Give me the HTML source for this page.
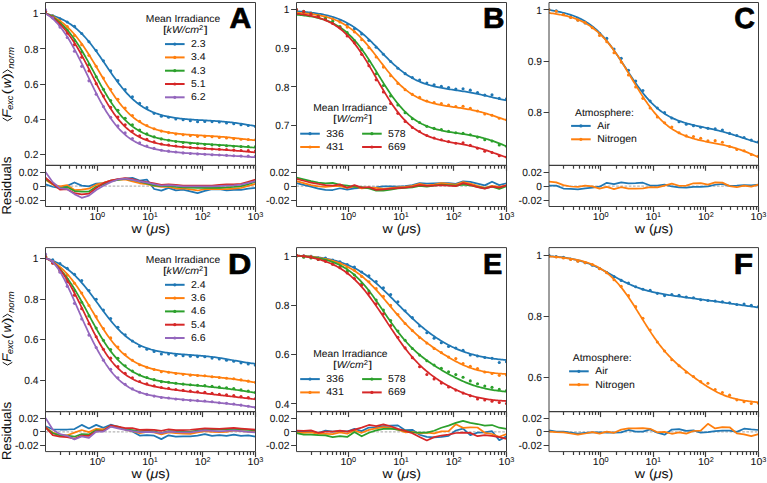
<!DOCTYPE html>
<html><head><meta charset="utf-8"><style>
html,body{margin:0;padding:0;background:#fff;}
svg{display:block;}
text{font-family:"Liberation Sans",sans-serif;fill:#111;stroke:#111;stroke-width:0.05px;text-rendering:geometricPrecision;}
</style></head><body>
<svg width="767" height="483" viewBox="0 0 767 483">
<rect width="767" height="483" fill="#fff"/>
<clipPath id="clipA"><rect x="45.5" y="2.5" width="210.0" height="162.8"/></clipPath>
<clipPath id="rclipA"><rect x="45.5" y="165.3" width="210.0" height="41.19999999999999"/></clipPath>
<line x1="45.50" y1="186.10" x2="255.50" y2="186.10" stroke="#8c8c8c" stroke-width="0.8" stroke-dasharray="2.6,1.6"/>
<g clip-path="url(#clipA)" fill="none" stroke-width="1.75" stroke-linejoin="round" stroke-linecap="round">
<path d="M45.50,13.70 L46.82,14.01 L48.14,14.33 L49.46,14.68 L50.78,15.05 L52.10,15.44 L53.42,15.86 L54.75,16.30 L56.07,16.77 L57.39,17.28 L58.71,17.81 L60.03,18.38 L61.35,18.98 L62.67,19.61 L63.99,20.29 L65.31,21.00 L66.63,21.75 L67.95,22.55 L69.27,23.39 L70.59,24.27 L71.92,25.20 L73.24,26.18 L74.56,27.21 L75.88,28.28 L77.20,29.41 L78.52,30.59 L79.84,31.82 L81.16,33.11 L82.48,34.45 L83.80,35.83 L85.12,37.28 L86.44,38.77 L87.76,40.31 L89.08,41.90 L90.41,43.54 L91.73,45.22 L93.05,46.95 L94.37,48.71 L95.69,50.51 L97.01,52.34 L98.33,54.21 L99.65,56.09 L100.97,58.00 L102.29,59.93 L103.61,61.87 L104.93,63.81 L106.25,65.76 L107.58,67.71 L108.90,69.65 L110.22,71.57 L111.54,73.49 L112.86,75.38 L114.18,77.24 L115.50,79.08 L116.82,80.88 L118.14,82.65 L119.46,84.38 L120.78,86.07 L122.10,87.71 L123.42,89.31 L124.75,90.86 L126.07,92.36 L127.39,93.81 L128.71,95.20 L130.03,96.55 L131.35,97.84 L132.67,99.08 L133.99,100.27 L135.31,101.40 L136.63,102.49 L137.95,103.52 L139.27,104.51 L140.59,105.44 L141.92,106.33 L143.24,107.18 L144.56,107.98 L145.88,108.74 L147.20,109.46 L148.52,110.14 L149.84,110.78 L151.16,111.39 L152.48,111.96 L153.80,112.50 L155.12,113.01 L156.44,113.49 L157.76,113.94 L159.08,114.36 L160.41,114.76 L161.73,115.13 L163.05,115.49 L164.37,115.82 L165.69,116.13 L167.01,116.42 L168.33,116.69 L169.65,116.95 L170.97,117.19 L172.29,117.42 L173.61,117.63 L174.93,117.83 L176.25,118.02 L177.58,118.19 L178.90,118.36 L180.22,118.51 L181.54,118.66 L182.86,118.80 L184.18,118.93 L185.50,119.05 L186.82,119.17 L188.14,119.28 L189.46,119.39 L190.78,119.49 L192.10,119.58 L193.42,119.68 L194.75,119.76 L196.07,119.85 L197.39,119.93 L198.71,120.01 L200.03,120.09 L201.35,120.17 L202.67,120.24 L203.99,120.32 L205.31,120.39 L206.63,120.47 L207.95,120.55 L209.27,120.62 L210.59,120.70 L211.92,120.78 L213.24,120.86 L214.56,120.95 L215.88,121.04 L217.20,121.13 L218.52,121.22 L219.84,121.32 L221.16,121.42 L222.48,121.53 L223.80,121.64 L225.12,121.76 L226.44,121.89 L227.76,122.02 L229.08,122.15 L230.41,122.30 L231.73,122.45 L233.05,122.61 L234.37,122.77 L235.69,122.94 L237.01,123.12 L238.33,123.31 L239.65,123.50 L240.97,123.70 L242.29,123.90 L243.61,124.12 L244.93,124.33 L246.25,124.55 L247.58,124.78 L248.90,125.01 L250.22,125.24 L251.54,125.48 L252.86,125.71 L254.18,125.95 L255.50,126.18" stroke="#1f77b4"/>
<circle cx="45.50" cy="13.27" r="1.55" fill="#1f77b4" stroke="none"/>
<circle cx="52.74" cy="15.80" r="1.55" fill="#1f77b4" stroke="none"/>
<circle cx="59.98" cy="18.84" r="1.55" fill="#1f77b4" stroke="none"/>
<circle cx="67.22" cy="22.05" r="1.55" fill="#1f77b4" stroke="none"/>
<circle cx="74.47" cy="26.21" r="1.55" fill="#1f77b4" stroke="none"/>
<circle cx="81.71" cy="33.54" r="1.55" fill="#1f77b4" stroke="none"/>
<circle cx="88.95" cy="41.81" r="1.55" fill="#1f77b4" stroke="none"/>
<circle cx="96.19" cy="50.55" r="1.55" fill="#1f77b4" stroke="none"/>
<circle cx="103.43" cy="60.86" r="1.55" fill="#1f77b4" stroke="none"/>
<circle cx="110.67" cy="70.87" r="1.55" fill="#1f77b4" stroke="none"/>
<circle cx="117.91" cy="80.65" r="1.55" fill="#1f77b4" stroke="none"/>
<circle cx="125.16" cy="89.43" r="1.55" fill="#1f77b4" stroke="none"/>
<circle cx="132.40" cy="96.73" r="1.55" fill="#1f77b4" stroke="none"/>
<circle cx="139.64" cy="103.40" r="1.55" fill="#1f77b4" stroke="none"/>
<circle cx="146.88" cy="107.64" r="1.55" fill="#1f77b4" stroke="none"/>
<circle cx="154.12" cy="113.35" r="1.55" fill="#1f77b4" stroke="none"/>
<circle cx="161.36" cy="116.18" r="1.55" fill="#1f77b4" stroke="none"/>
<circle cx="168.60" cy="117.21" r="1.55" fill="#1f77b4" stroke="none"/>
<circle cx="175.84" cy="119.05" r="1.55" fill="#1f77b4" stroke="none"/>
<circle cx="183.09" cy="119.69" r="1.55" fill="#1f77b4" stroke="none"/>
<circle cx="190.33" cy="120.78" r="1.55" fill="#1f77b4" stroke="none"/>
<circle cx="197.57" cy="121.72" r="1.55" fill="#1f77b4" stroke="none"/>
<circle cx="204.81" cy="121.57" r="1.55" fill="#1f77b4" stroke="none"/>
<circle cx="212.05" cy="121.58" r="1.55" fill="#1f77b4" stroke="none"/>
<circle cx="219.29" cy="122.07" r="1.55" fill="#1f77b4" stroke="none"/>
<circle cx="226.53" cy="122.99" r="1.55" fill="#1f77b4" stroke="none"/>
<circle cx="233.78" cy="123.65" r="1.55" fill="#1f77b4" stroke="none"/>
<circle cx="241.02" cy="124.66" r="1.55" fill="#1f77b4" stroke="none"/>
<circle cx="248.26" cy="125.54" r="1.55" fill="#1f77b4" stroke="none"/>
<circle cx="255.50" cy="126.62" r="1.55" fill="#1f77b4" stroke="none"/>
<path d="M45.50,13.32 L46.82,13.83 L48.14,14.37 L49.46,14.94 L50.78,15.55 L52.10,16.20 L53.42,16.89 L54.75,17.61 L56.07,18.38 L57.39,19.19 L58.71,20.05 L60.03,20.96 L61.35,21.92 L62.67,22.93 L63.99,23.99 L65.31,25.10 L66.63,26.27 L67.95,27.50 L69.27,28.78 L70.59,30.12 L71.92,31.53 L73.24,32.99 L74.56,34.51 L75.88,36.09 L77.20,37.73 L78.52,39.42 L79.84,41.18 L81.16,42.99 L82.48,44.85 L83.80,46.77 L85.12,48.73 L86.44,50.74 L87.76,52.80 L89.08,54.89 L90.41,57.02 L91.73,59.17 L93.05,61.36 L94.37,63.56 L95.69,65.79 L97.01,68.02 L98.33,70.26 L99.65,72.50 L100.97,74.74 L102.29,76.96 L103.61,79.17 L104.93,81.36 L106.25,83.53 L107.58,85.67 L108.90,87.77 L110.22,89.83 L111.54,91.86 L112.86,93.83 L114.18,95.76 L115.50,97.64 L116.82,99.47 L118.14,101.24 L119.46,102.95 L120.78,104.61 L122.10,106.20 L123.42,107.74 L124.75,109.22 L126.07,110.64 L127.39,112.00 L128.71,113.30 L130.03,114.55 L131.35,115.74 L132.67,116.87 L133.99,117.95 L135.31,118.97 L136.63,119.95 L137.95,120.87 L139.27,121.75 L140.59,122.58 L141.92,123.37 L143.24,124.11 L144.56,124.81 L145.88,125.48 L147.20,126.10 L148.52,126.70 L149.84,127.25 L151.16,127.78 L152.48,128.27 L153.80,128.74 L155.12,129.18 L156.44,129.59 L157.76,129.98 L159.08,130.34 L160.41,130.68 L161.73,131.00 L163.05,131.31 L164.37,131.59 L165.69,131.86 L167.01,132.11 L168.33,132.34 L169.65,132.56 L170.97,132.77 L172.29,132.97 L173.61,133.15 L174.93,133.33 L176.25,133.49 L177.58,133.64 L178.90,133.79 L180.22,133.93 L181.54,134.06 L182.86,134.18 L184.18,134.29 L185.50,134.41 L186.82,134.51 L188.14,134.61 L189.46,134.71 L190.78,134.80 L192.10,134.89 L193.42,134.98 L194.75,135.06 L196.07,135.14 L197.39,135.22 L198.71,135.30 L200.03,135.38 L201.35,135.46 L202.67,135.53 L203.99,135.61 L205.31,135.69 L206.63,135.77 L207.95,135.85 L209.27,135.93 L210.59,136.01 L211.92,136.09 L213.24,136.18 L214.56,136.27 L215.88,136.36 L217.20,136.46 L218.52,136.56 L219.84,136.66 L221.16,136.77 L222.48,136.88 L223.80,136.99 L225.12,137.11 L226.44,137.23 L227.76,137.36 L229.08,137.49 L230.41,137.62 L231.73,137.76 L233.05,137.90 L234.37,138.04 L235.69,138.19 L237.01,138.34 L238.33,138.49 L239.65,138.64 L240.97,138.79 L242.29,138.94 L243.61,139.09 L244.93,139.24 L246.25,139.39 L247.58,139.54 L248.90,139.68 L250.22,139.82 L251.54,139.96 L252.86,140.09 L254.18,140.22 L255.50,140.35" stroke="#ff7f0e"/>
<circle cx="45.50" cy="11.71" r="1.55" fill="#ff7f0e" stroke="none"/>
<circle cx="52.74" cy="16.12" r="1.55" fill="#ff7f0e" stroke="none"/>
<circle cx="59.98" cy="20.98" r="1.55" fill="#ff7f0e" stroke="none"/>
<circle cx="67.22" cy="26.57" r="1.55" fill="#ff7f0e" stroke="none"/>
<circle cx="74.47" cy="35.41" r="1.55" fill="#ff7f0e" stroke="none"/>
<circle cx="81.71" cy="44.64" r="1.55" fill="#ff7f0e" stroke="none"/>
<circle cx="88.95" cy="55.33" r="1.55" fill="#ff7f0e" stroke="none"/>
<circle cx="96.19" cy="66.28" r="1.55" fill="#ff7f0e" stroke="none"/>
<circle cx="103.43" cy="78.07" r="1.55" fill="#ff7f0e" stroke="none"/>
<circle cx="110.67" cy="89.18" r="1.55" fill="#ff7f0e" stroke="none"/>
<circle cx="117.91" cy="99.28" r="1.55" fill="#ff7f0e" stroke="none"/>
<circle cx="125.16" cy="107.98" r="1.55" fill="#ff7f0e" stroke="none"/>
<circle cx="132.40" cy="115.47" r="1.55" fill="#ff7f0e" stroke="none"/>
<circle cx="139.64" cy="121.27" r="1.55" fill="#ff7f0e" stroke="none"/>
<circle cx="146.88" cy="125.47" r="1.55" fill="#ff7f0e" stroke="none"/>
<circle cx="154.12" cy="128.77" r="1.55" fill="#ff7f0e" stroke="none"/>
<circle cx="161.36" cy="131.10" r="1.55" fill="#ff7f0e" stroke="none"/>
<circle cx="168.60" cy="132.59" r="1.55" fill="#ff7f0e" stroke="none"/>
<circle cx="175.84" cy="134.04" r="1.55" fill="#ff7f0e" stroke="none"/>
<circle cx="183.09" cy="134.80" r="1.55" fill="#ff7f0e" stroke="none"/>
<circle cx="190.33" cy="135.62" r="1.55" fill="#ff7f0e" stroke="none"/>
<circle cx="197.57" cy="136.34" r="1.55" fill="#ff7f0e" stroke="none"/>
<circle cx="204.81" cy="136.42" r="1.55" fill="#ff7f0e" stroke="none"/>
<circle cx="212.05" cy="136.77" r="1.55" fill="#ff7f0e" stroke="none"/>
<circle cx="219.29" cy="137.40" r="1.55" fill="#ff7f0e" stroke="none"/>
<circle cx="226.53" cy="138.02" r="1.55" fill="#ff7f0e" stroke="none"/>
<circle cx="233.78" cy="138.65" r="1.55" fill="#ff7f0e" stroke="none"/>
<circle cx="241.02" cy="139.23" r="1.55" fill="#ff7f0e" stroke="none"/>
<circle cx="248.26" cy="139.55" r="1.55" fill="#ff7f0e" stroke="none"/>
<circle cx="255.50" cy="139.78" r="1.55" fill="#ff7f0e" stroke="none"/>
<path d="M45.50,13.24 L46.82,13.87 L48.14,14.54 L49.46,15.25 L50.78,16.00 L52.10,16.80 L53.42,17.65 L54.75,18.55 L56.07,19.51 L57.39,20.51 L58.71,21.58 L60.03,22.70 L61.35,23.88 L62.67,25.13 L63.99,26.44 L65.31,27.81 L66.63,29.25 L67.95,30.76 L69.27,32.33 L70.59,33.98 L71.92,35.69 L73.24,37.46 L74.56,39.31 L75.88,41.22 L77.20,43.19 L78.52,45.23 L79.84,47.32 L81.16,49.48 L82.48,51.68 L83.80,53.94 L85.12,56.23 L86.44,58.57 L87.76,60.95 L89.08,63.35 L90.41,65.78 L91.73,68.22 L93.05,70.68 L94.37,73.14 L95.69,75.60 L97.01,78.06 L98.33,80.50 L99.65,82.92 L100.97,85.32 L102.29,87.68 L103.61,90.01 L104.93,92.30 L106.25,94.55 L107.58,96.74 L108.90,98.88 L110.22,100.96 L111.54,102.99 L112.86,104.95 L114.18,106.85 L115.50,108.68 L116.82,110.45 L118.14,112.15 L119.46,113.78 L120.78,115.35 L122.10,116.85 L123.42,118.28 L124.75,119.65 L126.07,120.96 L127.39,122.20 L128.71,123.38 L130.03,124.51 L131.35,125.57 L132.67,126.59 L133.99,127.55 L135.31,128.45 L136.63,129.31 L137.95,130.13 L139.27,130.90 L140.59,131.62 L141.92,132.31 L143.24,132.96 L144.56,133.57 L145.88,134.14 L147.20,134.69 L148.52,135.20 L149.84,135.68 L151.16,136.14 L152.48,136.57 L153.80,136.98 L155.12,137.36 L156.44,137.72 L157.76,138.07 L159.08,138.39 L160.41,138.69 L161.73,138.98 L163.05,139.26 L164.37,139.52 L165.69,139.76 L167.01,140.00 L168.33,140.22 L169.65,140.43 L170.97,140.63 L172.29,140.82 L173.61,141.00 L174.93,141.18 L176.25,141.34 L177.58,141.50 L178.90,141.66 L180.22,141.80 L181.54,141.95 L182.86,142.08 L184.18,142.22 L185.50,142.34 L186.82,142.47 L188.14,142.59 L189.46,142.70 L190.78,142.82 L192.10,142.93 L193.42,143.04 L194.75,143.14 L196.07,143.25 L197.39,143.35 L198.71,143.45 L200.03,143.55 L201.35,143.65 L202.67,143.75 L203.99,143.84 L205.31,143.94 L206.63,144.03 L207.95,144.13 L209.27,144.22 L210.59,144.31 L211.92,144.40 L213.24,144.50 L214.56,144.59 L215.88,144.68 L217.20,144.77 L218.52,144.87 L219.84,144.96 L221.16,145.05 L222.48,145.15 L223.80,145.24 L225.12,145.33 L226.44,145.43 L227.76,145.53 L229.08,145.62 L230.41,145.72 L231.73,145.82 L233.05,145.91 L234.37,146.01 L235.69,146.11 L237.01,146.21 L238.33,146.31 L239.65,146.42 L240.97,146.52 L242.29,146.62 L243.61,146.73 L244.93,146.84 L246.25,146.94 L247.58,147.05 L248.90,147.16 L250.22,147.27 L251.54,147.38 L252.86,147.50 L254.18,147.61 L255.50,147.73" stroke="#2ca02c"/>
<circle cx="45.50" cy="11.46" r="1.55" fill="#2ca02c" stroke="none"/>
<circle cx="52.74" cy="16.65" r="1.55" fill="#2ca02c" stroke="none"/>
<circle cx="59.98" cy="23.20" r="1.55" fill="#2ca02c" stroke="none"/>
<circle cx="67.22" cy="30.17" r="1.55" fill="#2ca02c" stroke="none"/>
<circle cx="74.47" cy="40.44" r="1.55" fill="#2ca02c" stroke="none"/>
<circle cx="81.71" cy="51.80" r="1.55" fill="#2ca02c" stroke="none"/>
<circle cx="88.95" cy="64.49" r="1.55" fill="#2ca02c" stroke="none"/>
<circle cx="96.19" cy="76.70" r="1.55" fill="#2ca02c" stroke="none"/>
<circle cx="103.43" cy="89.26" r="1.55" fill="#2ca02c" stroke="none"/>
<circle cx="110.67" cy="100.46" r="1.55" fill="#2ca02c" stroke="none"/>
<circle cx="117.91" cy="110.27" r="1.55" fill="#2ca02c" stroke="none"/>
<circle cx="125.16" cy="118.25" r="1.55" fill="#2ca02c" stroke="none"/>
<circle cx="132.40" cy="124.79" r="1.55" fill="#2ca02c" stroke="none"/>
<circle cx="139.64" cy="130.01" r="1.55" fill="#2ca02c" stroke="none"/>
<circle cx="146.88" cy="133.90" r="1.55" fill="#2ca02c" stroke="none"/>
<circle cx="154.12" cy="136.87" r="1.55" fill="#2ca02c" stroke="none"/>
<circle cx="161.36" cy="138.92" r="1.55" fill="#2ca02c" stroke="none"/>
<circle cx="168.60" cy="140.23" r="1.55" fill="#2ca02c" stroke="none"/>
<circle cx="175.84" cy="141.49" r="1.55" fill="#2ca02c" stroke="none"/>
<circle cx="183.09" cy="142.43" r="1.55" fill="#2ca02c" stroke="none"/>
<circle cx="190.33" cy="143.19" r="1.55" fill="#2ca02c" stroke="none"/>
<circle cx="197.57" cy="143.79" r="1.55" fill="#2ca02c" stroke="none"/>
<circle cx="204.81" cy="144.33" r="1.55" fill="#2ca02c" stroke="none"/>
<circle cx="212.05" cy="144.84" r="1.55" fill="#2ca02c" stroke="none"/>
<circle cx="219.29" cy="145.35" r="1.55" fill="#2ca02c" stroke="none"/>
<circle cx="226.53" cy="145.77" r="1.55" fill="#2ca02c" stroke="none"/>
<circle cx="233.78" cy="146.19" r="1.55" fill="#2ca02c" stroke="none"/>
<circle cx="241.02" cy="146.52" r="1.55" fill="#2ca02c" stroke="none"/>
<circle cx="248.26" cy="146.64" r="1.55" fill="#2ca02c" stroke="none"/>
<circle cx="255.50" cy="146.63" r="1.55" fill="#2ca02c" stroke="none"/>
<path d="M45.50,13.34 L46.82,14.06 L48.14,14.84 L49.46,15.66 L50.78,16.53 L52.10,17.45 L53.42,18.43 L54.75,19.47 L56.07,20.57 L57.39,21.72 L58.71,22.94 L60.03,24.23 L61.35,25.58 L62.67,27.00 L63.99,28.49 L65.31,30.06 L66.63,31.69 L67.95,33.39 L69.27,35.17 L70.59,37.02 L71.92,38.94 L73.24,40.93 L74.56,42.99 L75.88,45.12 L77.20,47.31 L78.52,49.56 L79.84,51.87 L81.16,54.23 L82.48,56.64 L83.80,59.10 L85.12,61.59 L86.44,64.12 L87.76,66.67 L89.08,69.24 L90.41,71.83 L91.73,74.43 L93.05,77.03 L94.37,79.62 L95.69,82.20 L97.01,84.76 L98.33,87.29 L99.65,89.79 L100.97,92.26 L102.29,94.68 L103.61,97.06 L104.93,99.38 L106.25,101.65 L107.58,103.85 L108.90,106.00 L110.22,108.07 L111.54,110.09 L112.86,112.03 L114.18,113.90 L115.50,115.70 L116.82,117.43 L118.14,119.08 L119.46,120.67 L120.78,122.18 L122.10,123.63 L123.42,125.01 L124.75,126.32 L126.07,127.57 L127.39,128.75 L128.71,129.87 L130.03,130.94 L131.35,131.95 L132.67,132.90 L133.99,133.80 L135.31,134.65 L136.63,135.45 L137.95,136.21 L139.27,136.93 L140.59,137.60 L141.92,138.23 L143.24,138.83 L144.56,139.39 L145.88,139.92 L147.20,140.42 L148.52,140.89 L149.84,141.33 L151.16,141.74 L152.48,142.13 L153.80,142.50 L155.12,142.85 L156.44,143.17 L157.76,143.48 L159.08,143.77 L160.41,144.04 L161.73,144.30 L163.05,144.54 L164.37,144.77 L165.69,144.99 L167.01,145.20 L168.33,145.39 L169.65,145.58 L170.97,145.75 L172.29,145.92 L173.61,146.08 L174.93,146.23 L176.25,146.38 L177.58,146.52 L178.90,146.65 L180.22,146.78 L181.54,146.90 L182.86,147.02 L184.18,147.13 L185.50,147.24 L186.82,147.35 L188.14,147.45 L189.46,147.55 L190.78,147.65 L192.10,147.75 L193.42,147.84 L194.75,147.93 L196.07,148.02 L197.39,148.11 L198.71,148.20 L200.03,148.29 L201.35,148.37 L202.67,148.46 L203.99,148.54 L205.31,148.63 L206.63,148.71 L207.95,148.79 L209.27,148.88 L210.59,148.96 L211.92,149.05 L213.24,149.13 L214.56,149.22 L215.88,149.30 L217.20,149.39 L218.52,149.47 L219.84,149.56 L221.16,149.65 L222.48,149.74 L223.80,149.83 L225.12,149.92 L226.44,150.01 L227.76,150.10 L229.08,150.20 L230.41,150.29 L231.73,150.39 L233.05,150.49 L234.37,150.59 L235.69,150.69 L237.01,150.79 L238.33,150.89 L239.65,151.00 L240.97,151.11 L242.29,151.22 L243.61,151.33 L244.93,151.44 L246.25,151.56 L247.58,151.67 L248.90,151.79 L250.22,151.91 L251.54,152.04 L252.86,152.16 L254.18,152.29 L255.50,152.42" stroke="#d62728"/>
<circle cx="45.50" cy="11.22" r="1.55" fill="#d62728" stroke="none"/>
<circle cx="52.74" cy="17.34" r="1.55" fill="#d62728" stroke="none"/>
<circle cx="59.98" cy="25.04" r="1.55" fill="#d62728" stroke="none"/>
<circle cx="67.22" cy="33.23" r="1.55" fill="#d62728" stroke="none"/>
<circle cx="74.47" cy="44.65" r="1.55" fill="#d62728" stroke="none"/>
<circle cx="81.71" cy="57.29" r="1.55" fill="#d62728" stroke="none"/>
<circle cx="88.95" cy="70.87" r="1.55" fill="#d62728" stroke="none"/>
<circle cx="96.19" cy="83.64" r="1.55" fill="#d62728" stroke="none"/>
<circle cx="103.43" cy="95.98" r="1.55" fill="#d62728" stroke="none"/>
<circle cx="110.67" cy="107.38" r="1.55" fill="#d62728" stroke="none"/>
<circle cx="117.91" cy="117.04" r="1.55" fill="#d62728" stroke="none"/>
<circle cx="125.16" cy="124.72" r="1.55" fill="#d62728" stroke="none"/>
<circle cx="132.40" cy="130.93" r="1.55" fill="#d62728" stroke="none"/>
<circle cx="139.64" cy="135.84" r="1.55" fill="#d62728" stroke="none"/>
<circle cx="146.88" cy="139.30" r="1.55" fill="#d62728" stroke="none"/>
<circle cx="154.12" cy="141.91" r="1.55" fill="#d62728" stroke="none"/>
<circle cx="161.36" cy="143.95" r="1.55" fill="#d62728" stroke="none"/>
<circle cx="168.60" cy="145.02" r="1.55" fill="#d62728" stroke="none"/>
<circle cx="175.84" cy="146.01" r="1.55" fill="#d62728" stroke="none"/>
<circle cx="183.09" cy="146.90" r="1.55" fill="#d62728" stroke="none"/>
<circle cx="190.33" cy="147.52" r="1.55" fill="#d62728" stroke="none"/>
<circle cx="197.57" cy="148.02" r="1.55" fill="#d62728" stroke="none"/>
<circle cx="204.81" cy="148.49" r="1.55" fill="#d62728" stroke="none"/>
<circle cx="212.05" cy="148.95" r="1.55" fill="#d62728" stroke="none"/>
<circle cx="219.29" cy="149.24" r="1.55" fill="#d62728" stroke="none"/>
<circle cx="226.53" cy="149.56" r="1.55" fill="#d62728" stroke="none"/>
<circle cx="233.78" cy="150.09" r="1.55" fill="#d62728" stroke="none"/>
<circle cx="241.02" cy="150.57" r="1.55" fill="#d62728" stroke="none"/>
<circle cx="248.26" cy="150.65" r="1.55" fill="#d62728" stroke="none"/>
<circle cx="255.50" cy="150.79" r="1.55" fill="#d62728" stroke="none"/>
<path d="M45.50,13.47 L46.82,14.27 L48.14,15.16 L49.46,16.11 L50.78,17.15 L52.10,18.26 L53.42,19.45 L54.75,20.72 L56.07,22.07 L57.39,23.50 L58.71,25.01 L60.03,26.61 L61.35,28.29 L62.67,30.05 L63.99,31.89 L65.31,33.81 L66.63,35.82 L67.95,37.90 L69.27,40.05 L70.59,42.28 L71.92,44.58 L73.24,46.95 L74.56,49.37 L75.88,51.86 L77.20,54.40 L78.52,56.99 L79.84,59.62 L81.16,62.29 L82.48,64.99 L83.80,67.71 L85.12,70.45 L86.44,73.20 L87.76,75.95 L89.08,78.71 L90.41,81.45 L91.73,84.18 L93.05,86.88 L94.37,89.56 L95.69,92.20 L97.01,94.80 L98.33,97.35 L99.65,99.85 L100.97,102.30 L102.29,104.68 L103.61,107.00 L104.93,109.26 L106.25,111.45 L107.58,113.56 L108.90,115.60 L110.22,117.57 L111.54,119.47 L112.86,121.29 L114.18,123.03 L115.50,124.70 L116.82,126.30 L118.14,127.82 L119.46,129.28 L120.78,130.66 L122.10,131.97 L123.42,133.22 L124.75,134.41 L126.07,135.53 L127.39,136.60 L128.71,137.60 L130.03,138.56 L131.35,139.46 L132.67,140.31 L133.99,141.11 L135.31,141.86 L136.63,142.57 L137.95,143.25 L139.27,143.88 L140.59,144.47 L141.92,145.03 L143.24,145.56 L144.56,146.06 L145.88,146.52 L147.20,146.96 L148.52,147.38 L149.84,147.76 L151.16,148.13 L152.48,148.47 L153.80,148.80 L155.12,149.10 L156.44,149.39 L157.76,149.66 L159.08,149.92 L160.41,150.16 L161.73,150.39 L163.05,150.61 L164.37,150.81 L165.69,151.00 L167.01,151.19 L168.33,151.36 L169.65,151.53 L170.97,151.68 L172.29,151.83 L173.61,151.98 L174.93,152.11 L176.25,152.24 L177.58,152.37 L178.90,152.49 L180.22,152.60 L181.54,152.71 L182.86,152.82 L184.18,152.92 L185.50,153.02 L186.82,153.12 L188.14,153.21 L189.46,153.30 L190.78,153.39 L192.10,153.48 L193.42,153.56 L194.75,153.65 L196.07,153.73 L197.39,153.81 L198.71,153.89 L200.03,153.97 L201.35,154.04 L202.67,154.12 L203.99,154.19 L205.31,154.27 L206.63,154.34 L207.95,154.42 L209.27,154.49 L210.59,154.56 L211.92,154.64 L213.24,154.71 L214.56,154.78 L215.88,154.85 L217.20,154.93 L218.52,155.00 L219.84,155.07 L221.16,155.15 L222.48,155.22 L223.80,155.30 L225.12,155.37 L226.44,155.45 L227.76,155.53 L229.08,155.60 L230.41,155.68 L231.73,155.76 L233.05,155.84 L234.37,155.92 L235.69,156.00 L237.01,156.08 L238.33,156.16 L239.65,156.24 L240.97,156.33 L242.29,156.41 L243.61,156.50 L244.93,156.58 L246.25,156.67 L247.58,156.76 L248.90,156.85 L250.22,156.94 L251.54,157.03 L252.86,157.12 L254.18,157.22 L255.50,157.31" stroke="#9467bd"/>
<circle cx="45.50" cy="9.88" r="1.55" fill="#9467bd" stroke="none"/>
<circle cx="52.74" cy="17.83" r="1.55" fill="#9467bd" stroke="none"/>
<circle cx="59.98" cy="27.08" r="1.55" fill="#9467bd" stroke="none"/>
<circle cx="67.22" cy="37.53" r="1.55" fill="#9467bd" stroke="none"/>
<circle cx="74.47" cy="51.23" r="1.55" fill="#9467bd" stroke="none"/>
<circle cx="81.71" cy="66.35" r="1.55" fill="#9467bd" stroke="none"/>
<circle cx="88.95" cy="80.84" r="1.55" fill="#9467bd" stroke="none"/>
<circle cx="96.19" cy="94.18" r="1.55" fill="#9467bd" stroke="none"/>
<circle cx="103.43" cy="106.61" r="1.55" fill="#9467bd" stroke="none"/>
<circle cx="110.67" cy="117.23" r="1.55" fill="#9467bd" stroke="none"/>
<circle cx="117.91" cy="125.90" r="1.55" fill="#9467bd" stroke="none"/>
<circle cx="125.16" cy="132.90" r="1.55" fill="#9467bd" stroke="none"/>
<circle cx="132.40" cy="138.56" r="1.55" fill="#9467bd" stroke="none"/>
<circle cx="139.64" cy="142.87" r="1.55" fill="#9467bd" stroke="none"/>
<circle cx="146.88" cy="145.99" r="1.55" fill="#9467bd" stroke="none"/>
<circle cx="154.12" cy="148.38" r="1.55" fill="#9467bd" stroke="none"/>
<circle cx="161.36" cy="150.22" r="1.55" fill="#9467bd" stroke="none"/>
<circle cx="168.60" cy="151.16" r="1.55" fill="#9467bd" stroke="none"/>
<circle cx="175.84" cy="152.06" r="1.55" fill="#9467bd" stroke="none"/>
<circle cx="183.09" cy="152.88" r="1.55" fill="#9467bd" stroke="none"/>
<circle cx="190.33" cy="153.44" r="1.55" fill="#9467bd" stroke="none"/>
<circle cx="197.57" cy="153.90" r="1.55" fill="#9467bd" stroke="none"/>
<circle cx="204.81" cy="154.32" r="1.55" fill="#9467bd" stroke="none"/>
<circle cx="212.05" cy="154.72" r="1.55" fill="#9467bd" stroke="none"/>
<circle cx="219.29" cy="155.03" r="1.55" fill="#9467bd" stroke="none"/>
<circle cx="226.53" cy="155.35" r="1.55" fill="#9467bd" stroke="none"/>
<circle cx="233.78" cy="155.68" r="1.55" fill="#9467bd" stroke="none"/>
<circle cx="241.02" cy="155.97" r="1.55" fill="#9467bd" stroke="none"/>
<circle cx="248.26" cy="155.99" r="1.55" fill="#9467bd" stroke="none"/>
<circle cx="255.50" cy="156.03" r="1.55" fill="#9467bd" stroke="none"/>
</g>
<g clip-path="url(#rclipA)" fill="none" stroke-width="1.75" stroke-linejoin="round">
<path d="M45.50,184.36 L52.74,186.75 L59.98,188.04 L67.22,185.89 L74.47,182.44 L81.71,185.65 L88.95,186.38 L96.19,183.50 L103.43,183.18 L110.67,180.71 L117.91,179.37 L125.16,178.54 L132.40,177.79 L139.64,180.66 L146.88,179.57 L154.12,188.99 L161.36,190.65 L168.60,187.94 L175.84,190.41 L183.09,189.53 L190.33,191.37 L197.57,193.12 L204.81,190.89 L212.05,189.22 L219.29,189.26 L226.53,190.44 L233.78,189.90 L241.02,189.90 L248.26,188.63 L255.50,187.85" stroke="#1f77b4"/>
<path d="M45.50,179.73 L52.74,184.50 L59.98,186.32 L67.22,185.12 L74.47,190.09 L81.71,189.60 L88.95,188.70 L96.19,184.68 L103.43,182.91 L110.67,180.71 L117.91,179.56 L125.16,179.40 L132.40,181.47 L139.64,183.26 L146.88,184.16 L154.12,185.79 L161.36,186.84 L168.60,186.91 L175.84,188.50 L183.09,188.50 L190.33,189.48 L197.57,190.49 L204.81,189.11 L212.05,188.76 L219.29,189.20 L226.53,189.20 L233.78,188.74 L241.02,187.82 L248.26,185.84 L255.50,183.84" stroke="#ff7f0e"/>
<path d="M45.50,179.04 L52.74,183.89 L59.98,188.23 L67.22,187.10 L74.47,191.08 L81.71,191.70 L88.95,191.60 L96.19,186.74 L103.43,184.35 L110.67,181.31 L117.91,179.78 L125.16,178.90 L132.40,179.77 L139.64,181.76 L146.88,183.49 L154.12,185.29 L161.36,186.14 L168.60,185.95 L175.84,186.88 L183.09,187.38 L190.33,187.74 L197.57,187.80 L204.81,187.80 L212.05,187.80 L219.29,187.79 L226.53,187.42 L233.78,186.99 L241.02,186.08 L248.26,184.24 L255.50,181.77" stroke="#2ca02c"/>
<path d="M45.50,177.72 L52.74,183.81 L59.98,189.51 L67.22,189.20 L74.47,193.24 L81.71,194.31 L88.95,193.58 L96.19,187.97 L103.43,183.11 L110.67,180.57 L117.91,179.11 L125.16,178.20 L132.40,179.07 L139.64,181.06 L146.88,182.13 L154.12,183.43 L161.36,184.98 L168.60,184.45 L175.84,184.82 L183.09,185.56 L190.33,185.70 L197.57,185.70 L204.81,185.70 L212.05,185.70 L219.29,184.98 L226.53,184.30 L233.78,184.30 L241.02,183.94 L248.26,181.79 L255.50,179.65" stroke="#d62728"/>
<path d="M45.50,171.91 L52.74,182.15 L59.98,188.21 L67.22,189.22 L74.47,194.12 L81.71,197.79 L88.95,195.68 L96.19,190.01 L103.43,185.77 L110.67,182.11 L117.91,179.49 L125.16,178.70 L132.40,179.85 L139.64,181.43 L146.88,182.66 L154.12,184.13 L161.36,185.68 L168.60,185.15 L175.84,185.52 L183.09,186.26 L190.33,186.40 L197.57,186.40 L204.81,186.40 L212.05,186.40 L219.29,186.04 L226.53,185.67 L233.78,185.31 L241.02,184.69 L248.26,182.86 L255.50,181.03" stroke="#9467bd"/>
</g>
<path d="M45.5,2.5 H255.5 V206.5 H45.5 Z" fill="none" stroke="#3c3c3c" stroke-width="1.0"/>
<line x1="45.50" y1="165.30" x2="255.50" y2="165.30" stroke="#3c3c3c" stroke-width="1.15" />
<line x1="40.10" y1="13.50" x2="45.50" y2="13.50" stroke="#3c3c3c" stroke-width="1.0" />
<text x="38.50" y="17.20" font-size="10.5" text-anchor="end" textLength="5.65" lengthAdjust="spacingAndGlyphs" >1</text>
<line x1="40.10" y1="48.50" x2="45.50" y2="48.50" stroke="#3c3c3c" stroke-width="1.0" />
<text x="38.50" y="52.50" font-size="10.5" text-anchor="end" textLength="14.20" lengthAdjust="spacingAndGlyphs" >0.8</text>
<line x1="40.10" y1="84.50" x2="45.50" y2="84.50" stroke="#3c3c3c" stroke-width="1.0" />
<text x="38.50" y="87.80" font-size="10.5" text-anchor="end" textLength="14.20" lengthAdjust="spacingAndGlyphs" >0.6</text>
<line x1="40.10" y1="119.50" x2="45.50" y2="119.50" stroke="#3c3c3c" stroke-width="1.0" />
<text x="38.50" y="123.10" font-size="10.5" text-anchor="end" textLength="14.20" lengthAdjust="spacingAndGlyphs" >0.4</text>
<line x1="40.10" y1="154.50" x2="45.50" y2="154.50" stroke="#3c3c3c" stroke-width="1.0" />
<text x="38.50" y="158.40" font-size="10.5" text-anchor="end" textLength="14.20" lengthAdjust="spacingAndGlyphs" >0.2</text>
<line x1="40.10" y1="172.50" x2="45.50" y2="172.50" stroke="#3c3c3c" stroke-width="1.0" />
<text x="38.50" y="175.70" font-size="10.5" text-anchor="end" textLength="19.85" lengthAdjust="spacingAndGlyphs" >0.02</text>
<line x1="40.10" y1="186.50" x2="45.50" y2="186.50" stroke="#3c3c3c" stroke-width="1.0" />
<text x="38.50" y="189.70" font-size="10.5" text-anchor="end" textLength="5.65" lengthAdjust="spacingAndGlyphs" >0</text>
<line x1="40.10" y1="200.50" x2="45.50" y2="200.50" stroke="#3c3c3c" stroke-width="1.0" />
<text x="38.50" y="203.60" font-size="10.5" text-anchor="end" textLength="23.55" lengthAdjust="spacingAndGlyphs" >-0.02</text>
<line x1="60.50" y1="165.30" x2="60.50" y2="168.70" stroke="#3c3c3c" stroke-width="1.2" />
<line x1="60.50" y1="206.50" x2="60.50" y2="209.90" stroke="#3c3c3c" stroke-width="1.2" />
<line x1="69.50" y1="165.30" x2="69.50" y2="168.70" stroke="#3c3c3c" stroke-width="1.2" />
<line x1="69.50" y1="206.50" x2="69.50" y2="209.90" stroke="#3c3c3c" stroke-width="1.2" />
<line x1="76.50" y1="165.30" x2="76.50" y2="168.70" stroke="#3c3c3c" stroke-width="1.2" />
<line x1="76.50" y1="206.50" x2="76.50" y2="209.90" stroke="#3c3c3c" stroke-width="1.2" />
<line x1="81.50" y1="165.30" x2="81.50" y2="168.70" stroke="#3c3c3c" stroke-width="1.2" />
<line x1="81.50" y1="206.50" x2="81.50" y2="209.90" stroke="#3c3c3c" stroke-width="1.2" />
<line x1="85.50" y1="165.30" x2="85.50" y2="168.70" stroke="#3c3c3c" stroke-width="1.2" />
<line x1="85.50" y1="206.50" x2="85.50" y2="209.90" stroke="#3c3c3c" stroke-width="1.2" />
<line x1="89.50" y1="165.30" x2="89.50" y2="168.70" stroke="#3c3c3c" stroke-width="1.2" />
<line x1="89.50" y1="206.50" x2="89.50" y2="209.90" stroke="#3c3c3c" stroke-width="1.2" />
<line x1="92.50" y1="165.30" x2="92.50" y2="168.70" stroke="#3c3c3c" stroke-width="1.2" />
<line x1="92.50" y1="206.50" x2="92.50" y2="209.90" stroke="#3c3c3c" stroke-width="1.2" />
<line x1="94.50" y1="165.30" x2="94.50" y2="168.70" stroke="#3c3c3c" stroke-width="1.2" />
<line x1="94.50" y1="206.50" x2="94.50" y2="209.90" stroke="#3c3c3c" stroke-width="1.2" />
<line x1="97.50" y1="165.30" x2="97.50" y2="170.80" stroke="#3c3c3c" stroke-width="1.2" />
<line x1="97.50" y1="206.50" x2="97.50" y2="212.00" stroke="#3c3c3c" stroke-width="1.2" />
<line x1="113.50" y1="165.30" x2="113.50" y2="168.70" stroke="#3c3c3c" stroke-width="1.2" />
<line x1="113.50" y1="206.50" x2="113.50" y2="209.90" stroke="#3c3c3c" stroke-width="1.2" />
<line x1="122.50" y1="165.30" x2="122.50" y2="168.70" stroke="#3c3c3c" stroke-width="1.2" />
<line x1="122.50" y1="206.50" x2="122.50" y2="209.90" stroke="#3c3c3c" stroke-width="1.2" />
<line x1="129.50" y1="165.30" x2="129.50" y2="168.70" stroke="#3c3c3c" stroke-width="1.2" />
<line x1="129.50" y1="206.50" x2="129.50" y2="209.90" stroke="#3c3c3c" stroke-width="1.2" />
<line x1="134.50" y1="165.30" x2="134.50" y2="168.70" stroke="#3c3c3c" stroke-width="1.2" />
<line x1="134.50" y1="206.50" x2="134.50" y2="209.90" stroke="#3c3c3c" stroke-width="1.2" />
<line x1="138.50" y1="165.30" x2="138.50" y2="168.70" stroke="#3c3c3c" stroke-width="1.2" />
<line x1="138.50" y1="206.50" x2="138.50" y2="209.90" stroke="#3c3c3c" stroke-width="1.2" />
<line x1="141.50" y1="165.30" x2="141.50" y2="168.70" stroke="#3c3c3c" stroke-width="1.2" />
<line x1="141.50" y1="206.50" x2="141.50" y2="209.90" stroke="#3c3c3c" stroke-width="1.2" />
<line x1="144.50" y1="165.30" x2="144.50" y2="168.70" stroke="#3c3c3c" stroke-width="1.2" />
<line x1="144.50" y1="206.50" x2="144.50" y2="209.90" stroke="#3c3c3c" stroke-width="1.2" />
<line x1="147.50" y1="165.30" x2="147.50" y2="168.70" stroke="#3c3c3c" stroke-width="1.2" />
<line x1="147.50" y1="206.50" x2="147.50" y2="209.90" stroke="#3c3c3c" stroke-width="1.2" />
<line x1="150.50" y1="165.30" x2="150.50" y2="170.80" stroke="#3c3c3c" stroke-width="1.2" />
<line x1="150.50" y1="206.50" x2="150.50" y2="212.00" stroke="#3c3c3c" stroke-width="1.2" />
<line x1="165.50" y1="165.30" x2="165.50" y2="168.70" stroke="#3c3c3c" stroke-width="1.2" />
<line x1="165.50" y1="206.50" x2="165.50" y2="209.90" stroke="#3c3c3c" stroke-width="1.2" />
<line x1="175.50" y1="165.30" x2="175.50" y2="168.70" stroke="#3c3c3c" stroke-width="1.2" />
<line x1="175.50" y1="206.50" x2="175.50" y2="209.90" stroke="#3c3c3c" stroke-width="1.2" />
<line x1="181.50" y1="165.30" x2="181.50" y2="168.70" stroke="#3c3c3c" stroke-width="1.2" />
<line x1="181.50" y1="206.50" x2="181.50" y2="209.90" stroke="#3c3c3c" stroke-width="1.2" />
<line x1="186.50" y1="165.30" x2="186.50" y2="168.70" stroke="#3c3c3c" stroke-width="1.2" />
<line x1="186.50" y1="206.50" x2="186.50" y2="209.90" stroke="#3c3c3c" stroke-width="1.2" />
<line x1="191.50" y1="165.30" x2="191.50" y2="168.70" stroke="#3c3c3c" stroke-width="1.2" />
<line x1="191.50" y1="206.50" x2="191.50" y2="209.90" stroke="#3c3c3c" stroke-width="1.2" />
<line x1="194.50" y1="165.30" x2="194.50" y2="168.70" stroke="#3c3c3c" stroke-width="1.2" />
<line x1="194.50" y1="206.50" x2="194.50" y2="209.90" stroke="#3c3c3c" stroke-width="1.2" />
<line x1="197.50" y1="165.30" x2="197.50" y2="168.70" stroke="#3c3c3c" stroke-width="1.2" />
<line x1="197.50" y1="206.50" x2="197.50" y2="209.90" stroke="#3c3c3c" stroke-width="1.2" />
<line x1="200.50" y1="165.30" x2="200.50" y2="168.70" stroke="#3c3c3c" stroke-width="1.2" />
<line x1="200.50" y1="206.50" x2="200.50" y2="209.90" stroke="#3c3c3c" stroke-width="1.2" />
<line x1="202.50" y1="165.30" x2="202.50" y2="170.80" stroke="#3c3c3c" stroke-width="1.2" />
<line x1="202.50" y1="206.50" x2="202.50" y2="212.00" stroke="#3c3c3c" stroke-width="1.2" />
<line x1="218.50" y1="165.30" x2="218.50" y2="168.70" stroke="#3c3c3c" stroke-width="1.2" />
<line x1="218.50" y1="206.50" x2="218.50" y2="209.90" stroke="#3c3c3c" stroke-width="1.2" />
<line x1="227.50" y1="165.30" x2="227.50" y2="168.70" stroke="#3c3c3c" stroke-width="1.2" />
<line x1="227.50" y1="206.50" x2="227.50" y2="209.90" stroke="#3c3c3c" stroke-width="1.2" />
<line x1="234.50" y1="165.30" x2="234.50" y2="168.70" stroke="#3c3c3c" stroke-width="1.2" />
<line x1="234.50" y1="206.50" x2="234.50" y2="209.90" stroke="#3c3c3c" stroke-width="1.2" />
<line x1="239.50" y1="165.30" x2="239.50" y2="168.70" stroke="#3c3c3c" stroke-width="1.2" />
<line x1="239.50" y1="206.50" x2="239.50" y2="209.90" stroke="#3c3c3c" stroke-width="1.2" />
<line x1="243.50" y1="165.30" x2="243.50" y2="168.70" stroke="#3c3c3c" stroke-width="1.2" />
<line x1="243.50" y1="206.50" x2="243.50" y2="209.90" stroke="#3c3c3c" stroke-width="1.2" />
<line x1="247.50" y1="165.30" x2="247.50" y2="168.70" stroke="#3c3c3c" stroke-width="1.2" />
<line x1="247.50" y1="206.50" x2="247.50" y2="209.90" stroke="#3c3c3c" stroke-width="1.2" />
<line x1="250.50" y1="165.30" x2="250.50" y2="168.70" stroke="#3c3c3c" stroke-width="1.2" />
<line x1="250.50" y1="206.50" x2="250.50" y2="209.90" stroke="#3c3c3c" stroke-width="1.2" />
<line x1="253.50" y1="165.30" x2="253.50" y2="168.70" stroke="#3c3c3c" stroke-width="1.2" />
<line x1="253.50" y1="206.50" x2="253.50" y2="209.90" stroke="#3c3c3c" stroke-width="1.2" />
<line x1="255.50" y1="165.30" x2="255.50" y2="170.80" stroke="#3c3c3c" stroke-width="1.2" />
<line x1="255.50" y1="206.50" x2="255.50" y2="212.00" stroke="#3c3c3c" stroke-width="1.2" />
<text x="89.42" y="220.10" font-size="10.0" textLength="11.71" lengthAdjust="spacingAndGlyphs">10</text>
<text x="101.13" y="216.70" font-size="7.00" textLength="4.10" lengthAdjust="spacingAndGlyphs">0</text>
<text x="142.15" y="220.10" font-size="10.0" textLength="11.71" lengthAdjust="spacingAndGlyphs">10</text>
<text x="153.85" y="216.70" font-size="7.00" textLength="4.10" lengthAdjust="spacingAndGlyphs">1</text>
<text x="194.87" y="220.10" font-size="10.0" textLength="11.71" lengthAdjust="spacingAndGlyphs">10</text>
<text x="206.58" y="216.70" font-size="7.00" textLength="4.10" lengthAdjust="spacingAndGlyphs">2</text>
<text x="247.59" y="220.10" font-size="10.0" textLength="11.71" lengthAdjust="spacingAndGlyphs">10</text>
<text x="259.30" y="216.70" font-size="7.00" textLength="4.10" lengthAdjust="spacingAndGlyphs">3</text>
<text x="131.55" y="232.90" font-size="12.9" textLength="38.5" lengthAdjust="spacingAndGlyphs">w (<tspan font-style="italic">μ</tspan>s)</text>
<clipPath id="clipB"><rect x="296.5" y="2.5" width="210.0" height="162.8"/></clipPath>
<clipPath id="rclipB"><rect x="296.5" y="165.3" width="210.0" height="41.19999999999999"/></clipPath>
<line x1="296.50" y1="186.10" x2="506.50" y2="186.10" stroke="#8c8c8c" stroke-width="0.8" stroke-dasharray="2.6,1.6"/>
<g clip-path="url(#clipB)" fill="none" stroke-width="1.75" stroke-linejoin="round" stroke-linecap="round">
<path d="M296.50,11.30 L297.82,11.39 L299.14,11.49 L300.46,11.59 L301.78,11.69 L303.10,11.80 L304.42,11.92 L305.75,12.04 L307.07,12.17 L308.39,12.31 L309.71,12.45 L311.03,12.61 L312.35,12.77 L313.67,12.94 L314.99,13.12 L316.31,13.32 L317.63,13.52 L318.95,13.74 L320.27,13.97 L321.59,14.21 L322.92,14.47 L324.24,14.74 L325.56,15.03 L326.88,15.33 L328.20,15.66 L329.52,16.00 L330.84,16.36 L332.16,16.75 L333.48,17.15 L334.80,17.58 L336.12,18.04 L337.44,18.52 L338.76,19.02 L340.08,19.56 L341.41,20.12 L342.73,20.71 L344.05,21.34 L345.37,21.99 L346.69,22.68 L348.01,23.40 L349.33,24.15 L350.65,24.94 L351.97,25.76 L353.29,26.62 L354.61,27.52 L355.93,28.45 L357.25,29.42 L358.58,30.42 L359.90,31.46 L361.22,32.53 L362.54,33.64 L363.86,34.78 L365.18,35.95 L366.50,37.15 L367.82,38.38 L369.14,39.63 L370.46,40.91 L371.78,42.21 L373.10,43.53 L374.42,44.87 L375.75,46.22 L377.07,47.58 L378.39,48.94 L379.71,50.31 L381.03,51.69 L382.35,53.06 L383.67,54.42 L384.99,55.78 L386.31,57.12 L387.63,58.45 L388.95,59.76 L390.27,61.05 L391.59,62.32 L392.92,63.56 L394.24,64.78 L395.56,65.97 L396.88,67.13 L398.20,68.25 L399.52,69.34 L400.84,70.40 L402.16,71.42 L403.48,72.41 L404.80,73.36 L406.12,74.28 L407.44,75.16 L408.76,76.00 L410.08,76.81 L411.41,77.59 L412.73,78.33 L414.05,79.03 L415.37,79.71 L416.69,80.35 L418.01,80.96 L419.33,81.54 L420.65,82.09 L421.97,82.62 L423.29,83.12 L424.61,83.59 L425.93,84.04 L427.25,84.47 L428.58,84.87 L429.90,85.25 L431.22,85.62 L432.54,85.96 L433.86,86.29 L435.18,86.61 L436.50,86.90 L437.82,87.19 L439.14,87.46 L440.46,87.72 L441.78,87.97 L443.10,88.21 L444.42,88.44 L445.75,88.66 L447.07,88.88 L448.39,89.09 L449.71,89.30 L451.03,89.50 L452.35,89.70 L453.67,89.89 L454.99,90.09 L456.31,90.28 L457.63,90.48 L458.95,90.67 L460.27,90.87 L461.59,91.07 L462.92,91.28 L464.24,91.48 L465.56,91.69 L466.88,91.91 L468.20,92.13 L469.52,92.36 L470.84,92.60 L472.16,92.84 L473.48,93.09 L474.80,93.35 L476.12,93.61 L477.44,93.88 L478.76,94.16 L480.08,94.44 L481.41,94.73 L482.73,95.03 L484.05,95.33 L485.37,95.64 L486.69,95.95 L488.01,96.26 L489.33,96.58 L490.65,96.90 L491.97,97.22 L493.29,97.53 L494.61,97.85 L495.93,98.16 L497.25,98.47 L498.58,98.77 L499.90,99.07 L501.22,99.36 L502.54,99.65 L503.86,99.93 L505.18,100.19 L506.50,100.45" stroke="#1f77b4"/>
<circle cx="296.50" cy="9.65" r="1.55" fill="#1f77b4" stroke="none"/>
<circle cx="303.74" cy="11.20" r="1.55" fill="#1f77b4" stroke="none"/>
<circle cx="310.98" cy="12.93" r="1.55" fill="#1f77b4" stroke="none"/>
<circle cx="318.22" cy="14.97" r="1.55" fill="#1f77b4" stroke="none"/>
<circle cx="325.47" cy="17.15" r="1.55" fill="#1f77b4" stroke="none"/>
<circle cx="332.71" cy="19.08" r="1.55" fill="#1f77b4" stroke="none"/>
<circle cx="339.95" cy="20.70" r="1.55" fill="#1f77b4" stroke="none"/>
<circle cx="347.19" cy="24.88" r="1.55" fill="#1f77b4" stroke="none"/>
<circle cx="354.43" cy="28.70" r="1.55" fill="#1f77b4" stroke="none"/>
<circle cx="361.67" cy="33.88" r="1.55" fill="#1f77b4" stroke="none"/>
<circle cx="368.91" cy="40.36" r="1.55" fill="#1f77b4" stroke="none"/>
<circle cx="376.16" cy="47.32" r="1.55" fill="#1f77b4" stroke="none"/>
<circle cx="383.40" cy="54.30" r="1.55" fill="#1f77b4" stroke="none"/>
<circle cx="390.64" cy="61.57" r="1.55" fill="#1f77b4" stroke="none"/>
<circle cx="397.88" cy="68.23" r="1.55" fill="#1f77b4" stroke="none"/>
<circle cx="405.12" cy="73.66" r="1.55" fill="#1f77b4" stroke="none"/>
<circle cx="412.36" cy="77.61" r="1.55" fill="#1f77b4" stroke="none"/>
<circle cx="419.60" cy="80.00" r="1.55" fill="#1f77b4" stroke="none"/>
<circle cx="426.84" cy="83.01" r="1.55" fill="#1f77b4" stroke="none"/>
<circle cx="434.09" cy="84.86" r="1.55" fill="#1f77b4" stroke="none"/>
<circle cx="441.33" cy="86.22" r="1.55" fill="#1f77b4" stroke="none"/>
<circle cx="448.57" cy="87.46" r="1.55" fill="#1f77b4" stroke="none"/>
<circle cx="455.81" cy="88.93" r="1.55" fill="#1f77b4" stroke="none"/>
<circle cx="463.05" cy="88.68" r="1.55" fill="#1f77b4" stroke="none"/>
<circle cx="470.29" cy="90.16" r="1.55" fill="#1f77b4" stroke="none"/>
<circle cx="477.53" cy="92.57" r="1.55" fill="#1f77b4" stroke="none"/>
<circle cx="484.78" cy="95.09" r="1.55" fill="#1f77b4" stroke="none"/>
<circle cx="492.02" cy="94.81" r="1.55" fill="#1f77b4" stroke="none"/>
<circle cx="499.26" cy="98.41" r="1.55" fill="#1f77b4" stroke="none"/>
<circle cx="506.50" cy="98.87" r="1.55" fill="#1f77b4" stroke="none"/>
<path d="M296.50,12.57 L297.82,12.67 L299.14,12.77 L300.46,12.89 L301.78,13.00 L303.10,13.13 L304.42,13.26 L305.75,13.39 L307.07,13.54 L308.39,13.69 L309.71,13.85 L311.03,14.02 L312.35,14.20 L313.67,14.39 L314.99,14.59 L316.31,14.81 L317.63,15.04 L318.95,15.28 L320.27,15.54 L321.59,15.81 L322.92,16.10 L324.24,16.41 L325.56,16.74 L326.88,17.09 L328.20,17.47 L329.52,17.86 L330.84,18.28 L332.16,18.73 L333.48,19.21 L334.80,19.71 L336.12,20.25 L337.44,20.81 L338.76,21.41 L340.08,22.05 L341.41,22.72 L342.73,23.43 L344.05,24.19 L345.37,24.98 L346.69,25.81 L348.01,26.69 L349.33,27.62 L350.65,28.59 L351.97,29.61 L353.29,30.67 L354.61,31.79 L355.93,32.95 L357.25,34.16 L358.58,35.42 L359.90,36.72 L361.22,38.08 L362.54,39.47 L363.86,40.92 L365.18,42.40 L366.50,43.93 L367.82,45.49 L369.14,47.09 L370.46,48.72 L371.78,50.37 L373.10,52.05 L374.42,53.76 L375.75,55.47 L377.07,57.20 L378.39,58.94 L379.71,60.68 L381.03,62.42 L382.35,64.15 L383.67,65.87 L384.99,67.57 L386.31,69.26 L387.63,70.92 L388.95,72.55 L390.27,74.16 L391.59,75.73 L392.92,77.26 L394.24,78.75 L395.56,80.20 L396.88,81.60 L398.20,82.96 L399.52,84.27 L400.84,85.54 L402.16,86.76 L403.48,87.93 L404.80,89.04 L406.12,90.12 L407.44,91.14 L408.76,92.12 L410.08,93.05 L411.41,93.93 L412.73,94.77 L414.05,95.57 L415.37,96.32 L416.69,97.04 L418.01,97.72 L419.33,98.36 L420.65,98.96 L421.97,99.53 L423.29,100.07 L424.61,100.58 L425.93,101.06 L427.25,101.51 L428.58,101.94 L429.90,102.34 L431.22,102.72 L432.54,103.08 L433.86,103.42 L435.18,103.74 L436.50,104.05 L437.82,104.34 L439.14,104.61 L440.46,104.87 L441.78,105.12 L443.10,105.36 L444.42,105.59 L445.75,105.81 L447.07,106.02 L448.39,106.23 L449.71,106.43 L451.03,106.63 L452.35,106.82 L453.67,107.01 L454.99,107.21 L456.31,107.40 L457.63,107.59 L458.95,107.78 L460.27,107.98 L461.59,108.18 L462.92,108.38 L464.24,108.60 L465.56,108.81 L466.88,109.04 L468.20,109.27 L469.52,109.51 L470.84,109.76 L472.16,110.02 L473.48,110.29 L474.80,110.57 L476.12,110.86 L477.44,111.17 L478.76,111.49 L480.08,111.82 L481.41,112.16 L482.73,112.52 L484.05,112.89 L485.37,113.27 L486.69,113.66 L488.01,114.06 L489.33,114.47 L490.65,114.90 L491.97,115.32 L493.29,115.76 L494.61,116.20 L495.93,116.65 L497.25,117.09 L498.58,117.54 L499.90,117.99 L501.22,118.44 L502.54,118.88 L503.86,119.32 L505.18,119.75 L506.50,120.17" stroke="#ff7f0e"/>
<circle cx="296.50" cy="9.77" r="1.55" fill="#ff7f0e" stroke="none"/>
<circle cx="303.74" cy="11.58" r="1.55" fill="#ff7f0e" stroke="none"/>
<circle cx="310.98" cy="13.50" r="1.55" fill="#ff7f0e" stroke="none"/>
<circle cx="318.22" cy="15.25" r="1.55" fill="#ff7f0e" stroke="none"/>
<circle cx="325.47" cy="17.17" r="1.55" fill="#ff7f0e" stroke="none"/>
<circle cx="332.71" cy="18.97" r="1.55" fill="#ff7f0e" stroke="none"/>
<circle cx="339.95" cy="22.06" r="1.55" fill="#ff7f0e" stroke="none"/>
<circle cx="347.19" cy="27.08" r="1.55" fill="#ff7f0e" stroke="none"/>
<circle cx="354.43" cy="31.86" r="1.55" fill="#ff7f0e" stroke="none"/>
<circle cx="361.67" cy="39.79" r="1.55" fill="#ff7f0e" stroke="none"/>
<circle cx="368.91" cy="47.68" r="1.55" fill="#ff7f0e" stroke="none"/>
<circle cx="376.16" cy="56.95" r="1.55" fill="#ff7f0e" stroke="none"/>
<circle cx="383.40" cy="67.11" r="1.55" fill="#ff7f0e" stroke="none"/>
<circle cx="390.64" cy="75.68" r="1.55" fill="#ff7f0e" stroke="none"/>
<circle cx="397.88" cy="83.38" r="1.55" fill="#ff7f0e" stroke="none"/>
<circle cx="405.12" cy="89.77" r="1.55" fill="#ff7f0e" stroke="none"/>
<circle cx="412.36" cy="94.41" r="1.55" fill="#ff7f0e" stroke="none"/>
<circle cx="419.60" cy="97.22" r="1.55" fill="#ff7f0e" stroke="none"/>
<circle cx="426.84" cy="100.97" r="1.55" fill="#ff7f0e" stroke="none"/>
<circle cx="434.09" cy="102.59" r="1.55" fill="#ff7f0e" stroke="none"/>
<circle cx="441.33" cy="103.43" r="1.55" fill="#ff7f0e" stroke="none"/>
<circle cx="448.57" cy="104.96" r="1.55" fill="#ff7f0e" stroke="none"/>
<circle cx="455.81" cy="106.44" r="1.55" fill="#ff7f0e" stroke="none"/>
<circle cx="463.05" cy="106.21" r="1.55" fill="#ff7f0e" stroke="none"/>
<circle cx="470.29" cy="108.29" r="1.55" fill="#ff7f0e" stroke="none"/>
<circle cx="477.53" cy="111.02" r="1.55" fill="#ff7f0e" stroke="none"/>
<circle cx="484.78" cy="114.00" r="1.55" fill="#ff7f0e" stroke="none"/>
<circle cx="492.02" cy="115.24" r="1.55" fill="#ff7f0e" stroke="none"/>
<circle cx="499.26" cy="118.25" r="1.55" fill="#ff7f0e" stroke="none"/>
<circle cx="506.50" cy="119.73" r="1.55" fill="#ff7f0e" stroke="none"/>
<path d="M296.50,14.68 L297.82,14.80 L299.14,14.93 L300.46,15.06 L301.78,15.20 L303.10,15.36 L304.42,15.52 L305.75,15.69 L307.07,15.88 L308.39,16.07 L309.71,16.28 L311.03,16.50 L312.35,16.74 L313.67,16.99 L314.99,17.26 L316.31,17.55 L317.63,17.85 L318.95,18.18 L320.27,18.53 L321.59,18.90 L322.92,19.29 L324.24,19.71 L325.56,20.16 L326.88,20.64 L328.20,21.14 L329.52,21.68 L330.84,22.25 L332.16,22.86 L333.48,23.51 L334.80,24.19 L336.12,24.92 L337.44,25.68 L338.76,26.50 L340.08,27.35 L341.41,28.26 L342.73,29.22 L344.05,30.23 L345.37,31.29 L346.69,32.41 L348.01,33.58 L349.33,34.81 L350.65,36.09 L351.97,37.44 L353.29,38.84 L354.61,40.31 L355.93,41.83 L357.25,43.41 L358.58,45.05 L359.90,46.75 L361.22,48.50 L362.54,50.30 L363.86,52.15 L365.18,54.06 L366.50,56.00 L367.82,57.99 L369.14,60.02 L370.46,62.08 L371.78,64.17 L373.10,66.28 L374.42,68.41 L375.75,70.55 L377.07,72.70 L378.39,74.86 L379.71,77.01 L381.03,79.15 L382.35,81.28 L383.67,83.39 L384.99,85.48 L386.31,87.53 L387.63,89.55 L388.95,91.54 L390.27,93.48 L391.59,95.38 L392.92,97.23 L394.24,99.03 L395.56,100.78 L396.88,102.47 L398.20,104.10 L399.52,105.68 L400.84,107.19 L402.16,108.65 L403.48,110.05 L404.80,111.39 L406.12,112.67 L407.44,113.89 L408.76,115.06 L410.08,116.17 L411.41,117.23 L412.73,118.23 L414.05,119.18 L415.37,120.09 L416.69,120.94 L418.01,121.75 L419.33,122.52 L420.65,123.24 L421.97,123.92 L423.29,124.56 L424.61,125.17 L425.93,125.74 L427.25,126.28 L428.58,126.79 L429.90,127.27 L431.22,127.72 L432.54,128.15 L433.86,128.55 L435.18,128.93 L436.50,129.29 L437.82,129.63 L439.14,129.95 L440.46,130.25 L441.78,130.54 L443.10,130.81 L444.42,131.08 L445.75,131.33 L447.07,131.56 L448.39,131.79 L449.71,132.02 L451.03,132.23 L452.35,132.44 L453.67,132.64 L454.99,132.84 L456.31,133.04 L457.63,133.23 L458.95,133.43 L460.27,133.62 L461.59,133.82 L462.92,134.01 L464.24,134.21 L465.56,134.42 L466.88,134.63 L468.20,134.84 L469.52,135.07 L470.84,135.30 L472.16,135.54 L473.48,135.79 L474.80,136.05 L476.12,136.32 L477.44,136.60 L478.76,136.90 L480.08,137.21 L481.41,137.53 L482.73,137.87 L484.05,138.23 L485.37,138.60 L486.69,138.99 L488.01,139.39 L489.33,139.80 L490.65,140.24 L491.97,140.68 L493.29,141.14 L494.61,141.62 L495.93,142.11 L497.25,142.60 L498.58,143.11 L499.90,143.63 L501.22,144.15 L502.54,144.67 L503.86,145.20 L505.18,145.74 L506.50,146.27" stroke="#2ca02c"/>
<circle cx="296.50" cy="9.93" r="1.55" fill="#2ca02c" stroke="none"/>
<circle cx="303.74" cy="11.70" r="1.55" fill="#2ca02c" stroke="none"/>
<circle cx="310.98" cy="13.75" r="1.55" fill="#2ca02c" stroke="none"/>
<circle cx="318.22" cy="16.06" r="1.55" fill="#2ca02c" stroke="none"/>
<circle cx="325.47" cy="18.67" r="1.55" fill="#2ca02c" stroke="none"/>
<circle cx="332.71" cy="21.36" r="1.55" fill="#2ca02c" stroke="none"/>
<circle cx="339.95" cy="26.62" r="1.55" fill="#2ca02c" stroke="none"/>
<circle cx="347.19" cy="32.63" r="1.55" fill="#2ca02c" stroke="none"/>
<circle cx="354.43" cy="40.50" r="1.55" fill="#2ca02c" stroke="none"/>
<circle cx="361.67" cy="49.65" r="1.55" fill="#2ca02c" stroke="none"/>
<circle cx="368.91" cy="60.97" r="1.55" fill="#2ca02c" stroke="none"/>
<circle cx="376.16" cy="73.71" r="1.55" fill="#2ca02c" stroke="none"/>
<circle cx="383.40" cy="85.45" r="1.55" fill="#2ca02c" stroke="none"/>
<circle cx="390.64" cy="95.92" r="1.55" fill="#2ca02c" stroke="none"/>
<circle cx="397.88" cy="104.96" r="1.55" fill="#2ca02c" stroke="none"/>
<circle cx="405.12" cy="112.76" r="1.55" fill="#2ca02c" stroke="none"/>
<circle cx="412.36" cy="118.70" r="1.55" fill="#2ca02c" stroke="none"/>
<circle cx="419.60" cy="122.56" r="1.55" fill="#2ca02c" stroke="none"/>
<circle cx="426.84" cy="126.35" r="1.55" fill="#2ca02c" stroke="none"/>
<circle cx="434.09" cy="128.38" r="1.55" fill="#2ca02c" stroke="none"/>
<circle cx="441.33" cy="129.60" r="1.55" fill="#2ca02c" stroke="none"/>
<circle cx="448.57" cy="131.23" r="1.55" fill="#2ca02c" stroke="none"/>
<circle cx="455.81" cy="132.68" r="1.55" fill="#2ca02c" stroke="none"/>
<circle cx="463.05" cy="133.18" r="1.55" fill="#2ca02c" stroke="none"/>
<circle cx="470.29" cy="134.82" r="1.55" fill="#2ca02c" stroke="none"/>
<circle cx="477.53" cy="137.09" r="1.55" fill="#2ca02c" stroke="none"/>
<circle cx="484.78" cy="139.72" r="1.55" fill="#2ca02c" stroke="none"/>
<circle cx="492.02" cy="140.99" r="1.55" fill="#2ca02c" stroke="none"/>
<circle cx="499.26" cy="144.95" r="1.55" fill="#2ca02c" stroke="none"/>
<circle cx="506.50" cy="146.26" r="1.55" fill="#2ca02c" stroke="none"/>
<path d="M296.50,13.66 L297.82,13.81 L299.14,13.96 L300.46,14.13 L301.78,14.30 L303.10,14.49 L304.42,14.69 L305.75,14.90 L307.07,15.12 L308.39,15.36 L309.71,15.62 L311.03,15.89 L312.35,16.17 L313.67,16.48 L314.99,16.80 L316.31,17.15 L317.63,17.52 L318.95,17.91 L320.27,18.33 L321.59,18.78 L322.92,19.25 L324.24,19.75 L325.56,20.29 L326.88,20.85 L328.20,21.46 L329.52,22.10 L330.84,22.77 L332.16,23.49 L333.48,24.25 L334.80,25.06 L336.12,25.91 L337.44,26.81 L338.76,27.76 L340.08,28.77 L341.41,29.82 L342.73,30.93 L344.05,32.10 L345.37,33.33 L346.69,34.62 L348.01,35.96 L349.33,37.37 L350.65,38.84 L351.97,40.38 L353.29,41.98 L354.61,43.63 L355.93,45.36 L357.25,47.14 L358.58,48.98 L359.90,50.88 L361.22,52.83 L362.54,54.84 L363.86,56.90 L365.18,59.01 L366.50,61.15 L367.82,63.34 L369.14,65.56 L370.46,67.82 L371.78,70.09 L373.10,72.39 L374.42,74.70 L375.75,77.01 L377.07,79.33 L378.39,81.65 L379.71,83.96 L381.03,86.25 L382.35,88.52 L383.67,90.77 L384.99,92.98 L386.31,95.17 L387.63,97.31 L388.95,99.40 L390.27,101.45 L391.59,103.45 L392.92,105.40 L394.24,107.29 L395.56,109.12 L396.88,110.89 L398.20,112.60 L399.52,114.25 L400.84,115.84 L402.16,117.36 L403.48,118.82 L404.80,120.22 L406.12,121.56 L407.44,122.83 L408.76,124.05 L410.08,125.21 L411.41,126.31 L412.73,127.36 L414.05,128.36 L415.37,129.30 L416.69,130.19 L418.01,131.04 L419.33,131.84 L420.65,132.60 L421.97,133.32 L423.29,133.99 L424.61,134.63 L425.93,135.24 L427.25,135.81 L428.58,136.35 L429.90,136.86 L431.22,137.34 L432.54,137.79 L433.86,138.22 L435.18,138.63 L436.50,139.02 L437.82,139.38 L439.14,139.73 L440.46,140.06 L441.78,140.38 L443.10,140.68 L444.42,140.97 L445.75,141.25 L447.07,141.52 L448.39,141.79 L449.71,142.04 L451.03,142.29 L452.35,142.53 L453.67,142.77 L454.99,143.01 L456.31,143.24 L457.63,143.48 L458.95,143.72 L460.27,143.96 L461.59,144.20 L462.92,144.44 L464.24,144.69 L465.56,144.95 L466.88,145.21 L468.20,145.49 L469.52,145.77 L470.84,146.06 L472.16,146.36 L473.48,146.67 L474.80,146.99 L476.12,147.32 L477.44,147.67 L478.76,148.03 L480.08,148.40 L481.41,148.78 L482.73,149.18 L484.05,149.59 L485.37,150.01 L486.69,150.44 L488.01,150.88 L489.33,151.33 L490.65,151.79 L491.97,152.25 L493.29,152.73 L494.61,153.20 L495.93,153.68 L497.25,154.15 L498.58,154.63 L499.90,155.11 L501.22,155.58 L502.54,156.04 L503.86,156.50 L505.18,156.95 L506.50,157.39" stroke="#d62728"/>
<circle cx="296.50" cy="9.69" r="1.55" fill="#d62728" stroke="none"/>
<circle cx="303.74" cy="11.63" r="1.55" fill="#d62728" stroke="none"/>
<circle cx="310.98" cy="13.90" r="1.55" fill="#d62728" stroke="none"/>
<circle cx="318.22" cy="16.50" r="1.55" fill="#d62728" stroke="none"/>
<circle cx="325.47" cy="19.73" r="1.55" fill="#d62728" stroke="none"/>
<circle cx="332.71" cy="23.51" r="1.55" fill="#d62728" stroke="none"/>
<circle cx="339.95" cy="27.69" r="1.55" fill="#d62728" stroke="none"/>
<circle cx="347.19" cy="36.04" r="1.55" fill="#d62728" stroke="none"/>
<circle cx="354.43" cy="42.87" r="1.55" fill="#d62728" stroke="none"/>
<circle cx="361.67" cy="54.35" r="1.55" fill="#d62728" stroke="none"/>
<circle cx="368.91" cy="65.75" r="1.55" fill="#d62728" stroke="none"/>
<circle cx="376.16" cy="79.83" r="1.55" fill="#d62728" stroke="none"/>
<circle cx="383.40" cy="92.07" r="1.55" fill="#d62728" stroke="none"/>
<circle cx="390.64" cy="103.44" r="1.55" fill="#d62728" stroke="none"/>
<circle cx="397.88" cy="113.33" r="1.55" fill="#d62728" stroke="none"/>
<circle cx="405.12" cy="121.40" r="1.55" fill="#d62728" stroke="none"/>
<circle cx="412.36" cy="127.43" r="1.55" fill="#d62728" stroke="none"/>
<circle cx="419.60" cy="131.51" r="1.55" fill="#d62728" stroke="none"/>
<circle cx="426.84" cy="135.48" r="1.55" fill="#d62728" stroke="none"/>
<circle cx="434.09" cy="138.01" r="1.55" fill="#d62728" stroke="none"/>
<circle cx="441.33" cy="139.79" r="1.55" fill="#d62728" stroke="none"/>
<circle cx="448.57" cy="141.59" r="1.55" fill="#d62728" stroke="none"/>
<circle cx="455.81" cy="143.21" r="1.55" fill="#d62728" stroke="none"/>
<circle cx="463.05" cy="142.80" r="1.55" fill="#d62728" stroke="none"/>
<circle cx="470.29" cy="145.25" r="1.55" fill="#d62728" stroke="none"/>
<circle cx="477.53" cy="148.22" r="1.55" fill="#d62728" stroke="none"/>
<circle cx="484.78" cy="151.26" r="1.55" fill="#d62728" stroke="none"/>
<circle cx="492.02" cy="152.56" r="1.55" fill="#d62728" stroke="none"/>
<circle cx="499.26" cy="155.68" r="1.55" fill="#d62728" stroke="none"/>
<circle cx="506.50" cy="156.97" r="1.55" fill="#d62728" stroke="none"/>
</g>
<g clip-path="url(#rclipB)" fill="none" stroke-width="1.75" stroke-linejoin="round">
<path d="M296.50,183.12 L303.74,184.91 L310.98,186.70 L318.22,188.54 L325.47,189.97 L332.71,190.01 L339.95,188.26 L347.19,189.59 L354.43,188.46 L361.67,187.85 L368.91,187.80 L376.16,187.34 L383.40,186.40 L390.64,186.40 L397.88,186.54 L405.12,186.23 L412.36,185.16 L419.60,183.11 L426.84,183.71 L434.09,183.41 L441.33,183.10 L448.57,183.10 L455.81,183.80 L463.05,181.38 L470.29,181.88 L477.53,183.70 L484.78,185.36 L492.02,181.74 L499.26,185.16 L506.50,183.23" stroke="#1f77b4"/>
<path d="M296.50,181.05 L303.74,183.20 L310.98,185.18 L318.22,186.28 L325.47,186.91 L332.71,186.18 L339.95,186.24 L347.19,187.78 L354.43,186.51 L361.67,188.34 L368.91,187.67 L376.16,187.80 L383.40,188.98 L390.64,188.06 L397.88,187.45 L405.12,186.93 L412.36,185.86 L419.60,183.82 L426.84,185.37 L434.09,184.50 L441.33,183.20 L448.57,183.77 L455.81,184.50 L463.05,182.15 L470.29,183.63 L477.53,185.80 L484.78,187.73 L492.02,185.92 L499.26,186.96 L506.50,185.31" stroke="#ff7f0e"/>
<path d="M296.50,177.53 L303.74,179.36 L310.98,181.14 L318.22,182.61 L325.47,183.48 L332.71,182.92 L339.95,184.93 L347.19,185.71 L354.43,186.82 L361.67,187.08 L368.91,188.44 L376.16,190.59 L383.40,190.60 L390.64,189.55 L397.88,188.35 L405.12,188.00 L412.36,187.45 L419.60,185.91 L426.84,186.51 L434.09,185.67 L441.33,184.59 L448.57,185.03 L455.81,185.60 L463.05,184.56 L470.29,185.41 L477.53,186.94 L484.78,188.43 L492.02,186.62 L499.26,188.94 L506.50,186.10" stroke="#2ca02c"/>
<path d="M296.50,178.93 L303.74,180.76 L310.98,182.53 L318.22,183.95 L325.47,185.16 L332.71,185.56 L339.95,184.34 L347.19,187.76 L354.43,185.15 L361.67,187.59 L368.91,187.13 L376.16,189.88 L383.40,189.29 L390.64,188.67 L397.88,188.15 L405.12,187.63 L412.36,186.75 L419.60,185.21 L426.84,185.81 L434.09,185.59 L441.33,185.23 L448.57,185.68 L455.81,186.20 L463.05,183.09 L470.29,184.86 L477.53,187.05 L484.78,188.69 L492.02,186.62 L499.26,187.55 L506.50,185.35" stroke="#d62728"/>
</g>
<path d="M296.5,2.5 H506.5 V206.5 H296.5 Z" fill="none" stroke="#3c3c3c" stroke-width="1.0"/>
<line x1="296.50" y1="165.30" x2="506.50" y2="165.30" stroke="#3c3c3c" stroke-width="1.15" />
<line x1="291.10" y1="9.50" x2="296.50" y2="9.50" stroke="#3c3c3c" stroke-width="1.0" />
<text x="289.50" y="12.90" font-size="10.5" text-anchor="end" textLength="5.65" lengthAdjust="spacingAndGlyphs" >1</text>
<line x1="291.10" y1="48.50" x2="296.50" y2="48.50" stroke="#3c3c3c" stroke-width="1.0" />
<text x="289.50" y="51.70" font-size="10.5" text-anchor="end" textLength="14.20" lengthAdjust="spacingAndGlyphs" >0.9</text>
<line x1="291.10" y1="86.50" x2="296.50" y2="86.50" stroke="#3c3c3c" stroke-width="1.0" />
<text x="289.50" y="90.50" font-size="10.5" text-anchor="end" textLength="14.20" lengthAdjust="spacingAndGlyphs" >0.8</text>
<line x1="291.10" y1="125.50" x2="296.50" y2="125.50" stroke="#3c3c3c" stroke-width="1.0" />
<text x="289.50" y="129.30" font-size="10.5" text-anchor="end" textLength="14.20" lengthAdjust="spacingAndGlyphs" >0.7</text>
<line x1="291.10" y1="172.50" x2="296.50" y2="172.50" stroke="#3c3c3c" stroke-width="1.0" />
<text x="289.50" y="175.70" font-size="10.5" text-anchor="end" textLength="19.85" lengthAdjust="spacingAndGlyphs" >0.02</text>
<line x1="291.10" y1="186.50" x2="296.50" y2="186.50" stroke="#3c3c3c" stroke-width="1.0" />
<text x="289.50" y="189.70" font-size="10.5" text-anchor="end" textLength="5.65" lengthAdjust="spacingAndGlyphs" >0</text>
<line x1="291.10" y1="200.50" x2="296.50" y2="200.50" stroke="#3c3c3c" stroke-width="1.0" />
<text x="289.50" y="203.60" font-size="10.5" text-anchor="end" textLength="23.55" lengthAdjust="spacingAndGlyphs" >-0.02</text>
<line x1="311.50" y1="165.30" x2="311.50" y2="168.70" stroke="#3c3c3c" stroke-width="1.2" />
<line x1="311.50" y1="206.50" x2="311.50" y2="209.90" stroke="#3c3c3c" stroke-width="1.2" />
<line x1="320.50" y1="165.30" x2="320.50" y2="168.70" stroke="#3c3c3c" stroke-width="1.2" />
<line x1="320.50" y1="206.50" x2="320.50" y2="209.90" stroke="#3c3c3c" stroke-width="1.2" />
<line x1="327.50" y1="165.30" x2="327.50" y2="168.70" stroke="#3c3c3c" stroke-width="1.2" />
<line x1="327.50" y1="206.50" x2="327.50" y2="209.90" stroke="#3c3c3c" stroke-width="1.2" />
<line x1="332.50" y1="165.30" x2="332.50" y2="168.70" stroke="#3c3c3c" stroke-width="1.2" />
<line x1="332.50" y1="206.50" x2="332.50" y2="209.90" stroke="#3c3c3c" stroke-width="1.2" />
<line x1="336.50" y1="165.30" x2="336.50" y2="168.70" stroke="#3c3c3c" stroke-width="1.2" />
<line x1="336.50" y1="206.50" x2="336.50" y2="209.90" stroke="#3c3c3c" stroke-width="1.2" />
<line x1="340.50" y1="165.30" x2="340.50" y2="168.70" stroke="#3c3c3c" stroke-width="1.2" />
<line x1="340.50" y1="206.50" x2="340.50" y2="209.90" stroke="#3c3c3c" stroke-width="1.2" />
<line x1="343.50" y1="165.30" x2="343.50" y2="168.70" stroke="#3c3c3c" stroke-width="1.2" />
<line x1="343.50" y1="206.50" x2="343.50" y2="209.90" stroke="#3c3c3c" stroke-width="1.2" />
<line x1="345.50" y1="165.30" x2="345.50" y2="168.70" stroke="#3c3c3c" stroke-width="1.2" />
<line x1="345.50" y1="206.50" x2="345.50" y2="209.90" stroke="#3c3c3c" stroke-width="1.2" />
<line x1="348.50" y1="165.30" x2="348.50" y2="170.80" stroke="#3c3c3c" stroke-width="1.2" />
<line x1="348.50" y1="206.50" x2="348.50" y2="212.00" stroke="#3c3c3c" stroke-width="1.2" />
<line x1="364.50" y1="165.30" x2="364.50" y2="168.70" stroke="#3c3c3c" stroke-width="1.2" />
<line x1="364.50" y1="206.50" x2="364.50" y2="209.90" stroke="#3c3c3c" stroke-width="1.2" />
<line x1="373.50" y1="165.30" x2="373.50" y2="168.70" stroke="#3c3c3c" stroke-width="1.2" />
<line x1="373.50" y1="206.50" x2="373.50" y2="209.90" stroke="#3c3c3c" stroke-width="1.2" />
<line x1="380.50" y1="165.30" x2="380.50" y2="168.70" stroke="#3c3c3c" stroke-width="1.2" />
<line x1="380.50" y1="206.50" x2="380.50" y2="209.90" stroke="#3c3c3c" stroke-width="1.2" />
<line x1="385.50" y1="165.30" x2="385.50" y2="168.70" stroke="#3c3c3c" stroke-width="1.2" />
<line x1="385.50" y1="206.50" x2="385.50" y2="209.90" stroke="#3c3c3c" stroke-width="1.2" />
<line x1="389.50" y1="165.30" x2="389.50" y2="168.70" stroke="#3c3c3c" stroke-width="1.2" />
<line x1="389.50" y1="206.50" x2="389.50" y2="209.90" stroke="#3c3c3c" stroke-width="1.2" />
<line x1="392.50" y1="165.30" x2="392.50" y2="168.70" stroke="#3c3c3c" stroke-width="1.2" />
<line x1="392.50" y1="206.50" x2="392.50" y2="209.90" stroke="#3c3c3c" stroke-width="1.2" />
<line x1="395.50" y1="165.30" x2="395.50" y2="168.70" stroke="#3c3c3c" stroke-width="1.2" />
<line x1="395.50" y1="206.50" x2="395.50" y2="209.90" stroke="#3c3c3c" stroke-width="1.2" />
<line x1="398.50" y1="165.30" x2="398.50" y2="168.70" stroke="#3c3c3c" stroke-width="1.2" />
<line x1="398.50" y1="206.50" x2="398.50" y2="209.90" stroke="#3c3c3c" stroke-width="1.2" />
<line x1="401.50" y1="165.30" x2="401.50" y2="170.80" stroke="#3c3c3c" stroke-width="1.2" />
<line x1="401.50" y1="206.50" x2="401.50" y2="212.00" stroke="#3c3c3c" stroke-width="1.2" />
<line x1="416.50" y1="165.30" x2="416.50" y2="168.70" stroke="#3c3c3c" stroke-width="1.2" />
<line x1="416.50" y1="206.50" x2="416.50" y2="209.90" stroke="#3c3c3c" stroke-width="1.2" />
<line x1="426.50" y1="165.30" x2="426.50" y2="168.70" stroke="#3c3c3c" stroke-width="1.2" />
<line x1="426.50" y1="206.50" x2="426.50" y2="209.90" stroke="#3c3c3c" stroke-width="1.2" />
<line x1="432.50" y1="165.30" x2="432.50" y2="168.70" stroke="#3c3c3c" stroke-width="1.2" />
<line x1="432.50" y1="206.50" x2="432.50" y2="209.90" stroke="#3c3c3c" stroke-width="1.2" />
<line x1="437.50" y1="165.30" x2="437.50" y2="168.70" stroke="#3c3c3c" stroke-width="1.2" />
<line x1="437.50" y1="206.50" x2="437.50" y2="209.90" stroke="#3c3c3c" stroke-width="1.2" />
<line x1="442.50" y1="165.30" x2="442.50" y2="168.70" stroke="#3c3c3c" stroke-width="1.2" />
<line x1="442.50" y1="206.50" x2="442.50" y2="209.90" stroke="#3c3c3c" stroke-width="1.2" />
<line x1="445.50" y1="165.30" x2="445.50" y2="168.70" stroke="#3c3c3c" stroke-width="1.2" />
<line x1="445.50" y1="206.50" x2="445.50" y2="209.90" stroke="#3c3c3c" stroke-width="1.2" />
<line x1="448.50" y1="165.30" x2="448.50" y2="168.70" stroke="#3c3c3c" stroke-width="1.2" />
<line x1="448.50" y1="206.50" x2="448.50" y2="209.90" stroke="#3c3c3c" stroke-width="1.2" />
<line x1="451.50" y1="165.30" x2="451.50" y2="168.70" stroke="#3c3c3c" stroke-width="1.2" />
<line x1="451.50" y1="206.50" x2="451.50" y2="209.90" stroke="#3c3c3c" stroke-width="1.2" />
<line x1="453.50" y1="165.30" x2="453.50" y2="170.80" stroke="#3c3c3c" stroke-width="1.2" />
<line x1="453.50" y1="206.50" x2="453.50" y2="212.00" stroke="#3c3c3c" stroke-width="1.2" />
<line x1="469.50" y1="165.30" x2="469.50" y2="168.70" stroke="#3c3c3c" stroke-width="1.2" />
<line x1="469.50" y1="206.50" x2="469.50" y2="209.90" stroke="#3c3c3c" stroke-width="1.2" />
<line x1="478.50" y1="165.30" x2="478.50" y2="168.70" stroke="#3c3c3c" stroke-width="1.2" />
<line x1="478.50" y1="206.50" x2="478.50" y2="209.90" stroke="#3c3c3c" stroke-width="1.2" />
<line x1="485.50" y1="165.30" x2="485.50" y2="168.70" stroke="#3c3c3c" stroke-width="1.2" />
<line x1="485.50" y1="206.50" x2="485.50" y2="209.90" stroke="#3c3c3c" stroke-width="1.2" />
<line x1="490.50" y1="165.30" x2="490.50" y2="168.70" stroke="#3c3c3c" stroke-width="1.2" />
<line x1="490.50" y1="206.50" x2="490.50" y2="209.90" stroke="#3c3c3c" stroke-width="1.2" />
<line x1="494.50" y1="165.30" x2="494.50" y2="168.70" stroke="#3c3c3c" stroke-width="1.2" />
<line x1="494.50" y1="206.50" x2="494.50" y2="209.90" stroke="#3c3c3c" stroke-width="1.2" />
<line x1="498.50" y1="165.30" x2="498.50" y2="168.70" stroke="#3c3c3c" stroke-width="1.2" />
<line x1="498.50" y1="206.50" x2="498.50" y2="209.90" stroke="#3c3c3c" stroke-width="1.2" />
<line x1="501.50" y1="165.30" x2="501.50" y2="168.70" stroke="#3c3c3c" stroke-width="1.2" />
<line x1="501.50" y1="206.50" x2="501.50" y2="209.90" stroke="#3c3c3c" stroke-width="1.2" />
<line x1="504.50" y1="165.30" x2="504.50" y2="168.70" stroke="#3c3c3c" stroke-width="1.2" />
<line x1="504.50" y1="206.50" x2="504.50" y2="209.90" stroke="#3c3c3c" stroke-width="1.2" />
<line x1="506.50" y1="165.30" x2="506.50" y2="170.80" stroke="#3c3c3c" stroke-width="1.2" />
<line x1="506.50" y1="206.50" x2="506.50" y2="212.00" stroke="#3c3c3c" stroke-width="1.2" />
<text x="340.42" y="220.10" font-size="10.0" textLength="11.71" lengthAdjust="spacingAndGlyphs">10</text>
<text x="352.13" y="216.70" font-size="7.00" textLength="4.10" lengthAdjust="spacingAndGlyphs">0</text>
<text x="393.15" y="220.10" font-size="10.0" textLength="11.71" lengthAdjust="spacingAndGlyphs">10</text>
<text x="404.85" y="216.70" font-size="7.00" textLength="4.10" lengthAdjust="spacingAndGlyphs">1</text>
<text x="445.87" y="220.10" font-size="10.0" textLength="11.71" lengthAdjust="spacingAndGlyphs">10</text>
<text x="457.58" y="216.70" font-size="7.00" textLength="4.10" lengthAdjust="spacingAndGlyphs">2</text>
<text x="498.59" y="220.10" font-size="10.0" textLength="11.71" lengthAdjust="spacingAndGlyphs">10</text>
<text x="510.30" y="216.70" font-size="7.00" textLength="4.10" lengthAdjust="spacingAndGlyphs">3</text>
<text x="382.55" y="232.90" font-size="12.9" textLength="38.5" lengthAdjust="spacingAndGlyphs">w (<tspan font-style="italic">μ</tspan>s)</text>
<clipPath id="clipC"><rect x="549.0" y="2.5" width="209.5" height="162.8"/></clipPath>
<clipPath id="rclipC"><rect x="549.0" y="165.3" width="209.5" height="41.19999999999999"/></clipPath>
<line x1="549.00" y1="186.10" x2="758.50" y2="186.10" stroke="#8c8c8c" stroke-width="0.8" stroke-dasharray="2.6,1.6"/>
<g clip-path="url(#clipC)" fill="none" stroke-width="1.75" stroke-linejoin="round" stroke-linecap="round">
<path d="M549.00,9.98 L550.32,10.19 L551.64,10.40 L552.95,10.63 L554.27,10.86 L555.59,11.10 L556.91,11.35 L558.22,11.62 L559.54,11.89 L560.86,12.18 L562.18,12.48 L563.49,12.80 L564.81,13.13 L566.13,13.48 L567.45,13.85 L568.76,14.24 L570.08,14.65 L571.40,15.09 L572.72,15.54 L574.03,16.03 L575.35,16.54 L576.67,17.08 L577.99,17.65 L579.31,18.25 L580.62,18.89 L581.94,19.56 L583.26,20.27 L584.58,21.02 L585.89,21.81 L587.21,22.64 L588.53,23.52 L589.85,24.44 L591.16,25.40 L592.48,26.42 L593.80,27.49 L595.12,28.60 L596.43,29.77 L597.75,30.99 L599.07,32.27 L600.39,33.60 L601.70,34.98 L603.02,36.42 L604.34,37.91 L605.66,39.45 L606.97,41.05 L608.29,42.70 L609.61,44.39 L610.93,46.14 L612.25,47.93 L613.56,49.76 L614.88,51.63 L616.20,53.54 L617.52,55.48 L618.83,57.44 L620.15,59.44 L621.47,61.45 L622.79,63.48 L624.10,65.51 L625.42,67.56 L626.74,69.60 L628.06,71.64 L629.37,73.67 L630.69,75.69 L632.01,77.69 L633.33,79.67 L634.64,81.62 L635.96,83.54 L637.28,85.43 L638.60,87.27 L639.92,89.08 L641.23,90.84 L642.55,92.56 L643.87,94.23 L645.19,95.85 L646.50,97.42 L647.82,98.93 L649.14,100.39 L650.46,101.80 L651.77,103.16 L653.09,104.46 L654.41,105.71 L655.73,106.91 L657.04,108.05 L658.36,109.15 L659.68,110.19 L661.00,111.19 L662.31,112.14 L663.63,113.04 L664.95,113.90 L666.27,114.72 L667.58,115.50 L668.90,116.24 L670.22,116.94 L671.54,117.61 L672.86,118.25 L674.17,118.85 L675.49,119.42 L676.81,119.96 L678.13,120.48 L679.44,120.97 L680.76,121.44 L682.08,121.89 L683.40,122.32 L684.71,122.72 L686.03,123.11 L687.35,123.49 L688.67,123.85 L689.98,124.20 L691.30,124.53 L692.62,124.86 L693.94,125.17 L695.25,125.48 L696.57,125.78 L697.89,126.07 L699.21,126.36 L700.53,126.65 L701.84,126.93 L703.16,127.21 L704.48,127.49 L705.80,127.77 L707.11,128.05 L708.43,128.33 L709.75,128.62 L711.07,128.91 L712.38,129.20 L713.70,129.50 L715.02,129.80 L716.34,130.11 L717.65,130.43 L718.97,130.75 L720.29,131.08 L721.61,131.42 L722.92,131.76 L724.24,132.11 L725.56,132.48 L726.88,132.85 L728.19,133.22 L729.51,133.61 L730.83,134.00 L732.15,134.40 L733.47,134.81 L734.78,135.22 L736.10,135.64 L737.42,136.06 L738.74,136.49 L740.05,136.92 L741.37,137.36 L742.69,137.80 L744.01,138.23 L745.32,138.67 L746.64,139.11 L747.96,139.54 L749.28,139.97 L750.59,140.40 L751.91,140.82 L753.23,141.23 L754.55,141.64 L755.86,142.04 L757.18,142.43 L758.50,142.81" stroke="#1f77b4"/>
<circle cx="549.00" cy="9.68" r="1.55" fill="#1f77b4" stroke="none"/>
<circle cx="556.22" cy="10.88" r="1.55" fill="#1f77b4" stroke="none"/>
<circle cx="563.45" cy="14.57" r="1.55" fill="#1f77b4" stroke="none"/>
<circle cx="570.67" cy="16.91" r="1.55" fill="#1f77b4" stroke="none"/>
<circle cx="577.90" cy="20.03" r="1.55" fill="#1f77b4" stroke="none"/>
<circle cx="585.12" cy="22.98" r="1.55" fill="#1f77b4" stroke="none"/>
<circle cx="592.34" cy="27.45" r="1.55" fill="#1f77b4" stroke="none"/>
<circle cx="599.57" cy="33.20" r="1.55" fill="#1f77b4" stroke="none"/>
<circle cx="606.79" cy="38.41" r="1.55" fill="#1f77b4" stroke="none"/>
<circle cx="614.02" cy="48.93" r="1.55" fill="#1f77b4" stroke="none"/>
<circle cx="621.24" cy="58.34" r="1.55" fill="#1f77b4" stroke="none"/>
<circle cx="628.47" cy="70.22" r="1.55" fill="#1f77b4" stroke="none"/>
<circle cx="635.69" cy="81.05" r="1.55" fill="#1f77b4" stroke="none"/>
<circle cx="642.91" cy="90.53" r="1.55" fill="#1f77b4" stroke="none"/>
<circle cx="650.14" cy="101.04" r="1.55" fill="#1f77b4" stroke="none"/>
<circle cx="657.36" cy="108.02" r="1.55" fill="#1f77b4" stroke="none"/>
<circle cx="664.59" cy="112.65" r="1.55" fill="#1f77b4" stroke="none"/>
<circle cx="671.81" cy="118.02" r="1.55" fill="#1f77b4" stroke="none"/>
<circle cx="679.03" cy="121.78" r="1.55" fill="#1f77b4" stroke="none"/>
<circle cx="686.26" cy="124.22" r="1.55" fill="#1f77b4" stroke="none"/>
<circle cx="693.48" cy="125.63" r="1.55" fill="#1f77b4" stroke="none"/>
<circle cx="700.71" cy="127.20" r="1.55" fill="#1f77b4" stroke="none"/>
<circle cx="707.93" cy="128.36" r="1.55" fill="#1f77b4" stroke="none"/>
<circle cx="715.16" cy="128.84" r="1.55" fill="#1f77b4" stroke="none"/>
<circle cx="722.38" cy="130.08" r="1.55" fill="#1f77b4" stroke="none"/>
<circle cx="729.60" cy="133.40" r="1.55" fill="#1f77b4" stroke="none"/>
<circle cx="736.83" cy="135.49" r="1.55" fill="#1f77b4" stroke="none"/>
<circle cx="744.05" cy="137.46" r="1.55" fill="#1f77b4" stroke="none"/>
<circle cx="751.28" cy="140.06" r="1.55" fill="#1f77b4" stroke="none"/>
<circle cx="758.50" cy="141.79" r="1.55" fill="#1f77b4" stroke="none"/>
<path d="M549.00,12.98 L550.32,13.14 L551.64,13.30 L552.95,13.48 L554.27,13.66 L555.59,13.86 L556.91,14.07 L558.22,14.28 L559.54,14.52 L560.86,14.76 L562.18,15.02 L563.49,15.30 L564.81,15.59 L566.13,15.90 L567.45,16.22 L568.76,16.57 L570.08,16.94 L571.40,17.33 L572.72,17.74 L574.03,18.18 L575.35,18.64 L576.67,19.13 L577.99,19.65 L579.31,20.20 L580.62,20.78 L581.94,21.39 L583.26,22.04 L584.58,22.72 L585.89,23.45 L587.21,24.21 L588.53,25.01 L589.85,25.86 L591.16,26.75 L592.48,27.69 L593.80,28.68 L595.12,29.71 L596.43,30.80 L597.75,31.94 L599.07,33.13 L600.39,34.37 L601.70,35.67 L603.02,37.03 L604.34,38.44 L605.66,39.91 L606.97,41.43 L608.29,43.01 L609.61,44.65 L610.93,46.34 L612.25,48.08 L613.56,49.88 L614.88,51.73 L616.20,53.63 L617.52,55.57 L618.83,57.56 L620.15,59.58 L621.47,61.65 L622.79,63.75 L624.10,65.87 L625.42,68.02 L626.74,70.20 L628.06,72.39 L629.37,74.58 L630.69,76.79 L632.01,79.00 L633.33,81.20 L634.64,83.40 L635.96,85.58 L637.28,87.75 L638.60,89.89 L639.92,92.01 L641.23,94.10 L642.55,96.15 L643.87,98.16 L645.19,100.14 L646.50,102.06 L647.82,103.95 L649.14,105.78 L650.46,107.56 L651.77,109.29 L653.09,110.96 L654.41,112.58 L655.73,114.14 L657.04,115.64 L658.36,117.09 L659.68,118.48 L661.00,119.82 L662.31,121.10 L663.63,122.33 L664.95,123.50 L666.27,124.62 L667.58,125.69 L668.90,126.71 L670.22,127.68 L671.54,128.60 L672.86,129.48 L674.17,130.31 L675.49,131.10 L676.81,131.86 L678.13,132.57 L679.44,133.25 L680.76,133.89 L682.08,134.49 L683.40,135.07 L684.71,135.62 L686.03,136.13 L687.35,136.63 L688.67,137.09 L689.98,137.53 L691.30,137.95 L692.62,138.35 L693.94,138.73 L695.25,139.10 L696.57,139.44 L697.89,139.78 L699.21,140.09 L700.53,140.40 L701.84,140.70 L703.16,140.98 L704.48,141.26 L705.80,141.53 L707.11,141.79 L708.43,142.05 L709.75,142.31 L711.07,142.56 L712.38,142.81 L713.70,143.06 L715.02,143.31 L716.34,143.57 L717.65,143.83 L718.97,144.09 L720.29,144.36 L721.61,144.63 L722.92,144.91 L724.24,145.20 L725.56,145.50 L726.88,145.81 L728.19,146.14 L729.51,146.47 L730.83,146.82 L732.15,147.18 L733.47,147.56 L734.78,147.95 L736.10,148.35 L737.42,148.77 L738.74,149.21 L740.05,149.66 L741.37,150.13 L742.69,150.61 L744.01,151.11 L745.32,151.62 L746.64,152.14 L747.96,152.68 L749.28,153.22 L750.59,153.77 L751.91,154.33 L753.23,154.89 L754.55,155.46 L755.86,156.03 L757.18,156.59 L758.50,157.16" stroke="#ff7f0e"/>
<circle cx="549.00" cy="9.68" r="1.55" fill="#ff7f0e" stroke="none"/>
<circle cx="556.22" cy="11.26" r="1.55" fill="#ff7f0e" stroke="none"/>
<circle cx="563.45" cy="14.57" r="1.55" fill="#ff7f0e" stroke="none"/>
<circle cx="570.67" cy="17.40" r="1.55" fill="#ff7f0e" stroke="none"/>
<circle cx="577.90" cy="20.16" r="1.55" fill="#ff7f0e" stroke="none"/>
<circle cx="585.12" cy="22.60" r="1.55" fill="#ff7f0e" stroke="none"/>
<circle cx="592.34" cy="27.74" r="1.55" fill="#ff7f0e" stroke="none"/>
<circle cx="599.57" cy="35.44" r="1.55" fill="#ff7f0e" stroke="none"/>
<circle cx="606.79" cy="41.77" r="1.55" fill="#ff7f0e" stroke="none"/>
<circle cx="614.02" cy="52.79" r="1.55" fill="#ff7f0e" stroke="none"/>
<circle cx="621.24" cy="62.08" r="1.55" fill="#ff7f0e" stroke="none"/>
<circle cx="628.47" cy="74.94" r="1.55" fill="#ff7f0e" stroke="none"/>
<circle cx="635.69" cy="86.94" r="1.55" fill="#ff7f0e" stroke="none"/>
<circle cx="642.91" cy="98.33" r="1.55" fill="#ff7f0e" stroke="none"/>
<circle cx="650.14" cy="107.95" r="1.55" fill="#ff7f0e" stroke="none"/>
<circle cx="657.36" cy="117.00" r="1.55" fill="#ff7f0e" stroke="none"/>
<circle cx="664.59" cy="122.79" r="1.55" fill="#ff7f0e" stroke="none"/>
<circle cx="671.81" cy="126.97" r="1.55" fill="#ff7f0e" stroke="none"/>
<circle cx="679.03" cy="132.79" r="1.55" fill="#ff7f0e" stroke="none"/>
<circle cx="686.26" cy="135.89" r="1.55" fill="#ff7f0e" stroke="none"/>
<circle cx="693.48" cy="136.53" r="1.55" fill="#ff7f0e" stroke="none"/>
<circle cx="700.71" cy="138.31" r="1.55" fill="#ff7f0e" stroke="none"/>
<circle cx="707.93" cy="140.84" r="1.55" fill="#ff7f0e" stroke="none"/>
<circle cx="715.16" cy="140.65" r="1.55" fill="#ff7f0e" stroke="none"/>
<circle cx="722.38" cy="142.22" r="1.55" fill="#ff7f0e" stroke="none"/>
<circle cx="729.60" cy="146.51" r="1.55" fill="#ff7f0e" stroke="none"/>
<circle cx="736.83" cy="149.41" r="1.55" fill="#ff7f0e" stroke="none"/>
<circle cx="744.05" cy="150.77" r="1.55" fill="#ff7f0e" stroke="none"/>
<circle cx="751.28" cy="154.47" r="1.55" fill="#ff7f0e" stroke="none"/>
<circle cx="758.50" cy="156.13" r="1.55" fill="#ff7f0e" stroke="none"/>
</g>
<g clip-path="url(#rclipC)" fill="none" stroke-width="1.75" stroke-linejoin="round">
<path d="M549.00,185.70 L556.22,185.64 L563.45,188.53 L570.67,188.91 L577.90,189.39 L585.12,188.34 L592.34,187.64 L599.57,186.69 L606.79,182.81 L614.02,184.10 L621.24,182.35 L628.47,183.30 L635.69,183.24 L642.91,182.71 L650.14,185.52 L657.36,185.68 L664.59,184.72 L671.81,186.48 L679.03,187.40 L686.26,187.51 L693.48,186.87 L700.71,186.80 L707.93,186.28 L715.16,184.75 L722.38,184.00 L729.60,185.78 L736.83,185.58 L744.05,185.03 L751.28,185.34 L758.50,184.70" stroke="#1f77b4"/>
<path d="M549.00,181.60 L556.22,182.43 L563.45,185.13 L570.67,186.50 L577.90,186.85 L585.12,185.52 L592.34,186.31 L599.57,188.62 L606.79,186.86 L614.02,189.19 L621.24,187.17 L628.47,188.65 L635.69,188.56 L642.91,188.30 L650.14,187.21 L657.36,187.47 L664.59,185.57 L671.81,183.63 L679.03,185.76 L686.26,185.65 L693.48,183.27 L700.71,183.20 L707.93,184.58 L715.16,182.44 L722.38,182.60 L729.60,186.12 L736.83,187.23 L744.05,185.61 L751.28,186.66 L758.50,184.70" stroke="#ff7f0e"/>
</g>
<path d="M549.0,2.5 H758.5 V206.5 H549.0 Z" fill="none" stroke="#3c3c3c" stroke-width="1.0"/>
<line x1="549.00" y1="165.30" x2="758.50" y2="165.30" stroke="#3c3c3c" stroke-width="1.15" />
<line x1="543.60" y1="9.50" x2="549.00" y2="9.50" stroke="#3c3c3c" stroke-width="1.0" />
<text x="542.00" y="13.50" font-size="10.5" text-anchor="end" textLength="5.65" lengthAdjust="spacingAndGlyphs" >1</text>
<line x1="543.60" y1="61.50" x2="549.00" y2="61.50" stroke="#3c3c3c" stroke-width="1.0" />
<text x="542.00" y="64.80" font-size="10.5" text-anchor="end" textLength="14.20" lengthAdjust="spacingAndGlyphs" >0.9</text>
<line x1="543.60" y1="112.50" x2="549.00" y2="112.50" stroke="#3c3c3c" stroke-width="1.0" />
<text x="542.00" y="116.20" font-size="10.5" text-anchor="end" textLength="14.20" lengthAdjust="spacingAndGlyphs" >0.8</text>
<line x1="543.60" y1="172.50" x2="549.00" y2="172.50" stroke="#3c3c3c" stroke-width="1.0" />
<text x="542.00" y="175.70" font-size="10.5" text-anchor="end" textLength="19.85" lengthAdjust="spacingAndGlyphs" >0.02</text>
<line x1="543.60" y1="186.50" x2="549.00" y2="186.50" stroke="#3c3c3c" stroke-width="1.0" />
<text x="542.00" y="189.70" font-size="10.5" text-anchor="end" textLength="5.65" lengthAdjust="spacingAndGlyphs" >0</text>
<line x1="543.60" y1="200.50" x2="549.00" y2="200.50" stroke="#3c3c3c" stroke-width="1.0" />
<text x="542.00" y="203.60" font-size="10.5" text-anchor="end" textLength="23.55" lengthAdjust="spacingAndGlyphs" >-0.02</text>
<line x1="563.50" y1="165.30" x2="563.50" y2="168.70" stroke="#3c3c3c" stroke-width="1.2" />
<line x1="563.50" y1="206.50" x2="563.50" y2="209.90" stroke="#3c3c3c" stroke-width="1.2" />
<line x1="573.50" y1="165.30" x2="573.50" y2="168.70" stroke="#3c3c3c" stroke-width="1.2" />
<line x1="573.50" y1="206.50" x2="573.50" y2="209.90" stroke="#3c3c3c" stroke-width="1.2" />
<line x1="579.50" y1="165.30" x2="579.50" y2="168.70" stroke="#3c3c3c" stroke-width="1.2" />
<line x1="579.50" y1="206.50" x2="579.50" y2="209.90" stroke="#3c3c3c" stroke-width="1.2" />
<line x1="584.50" y1="165.30" x2="584.50" y2="168.70" stroke="#3c3c3c" stroke-width="1.2" />
<line x1="584.50" y1="206.50" x2="584.50" y2="209.90" stroke="#3c3c3c" stroke-width="1.2" />
<line x1="589.50" y1="165.30" x2="589.50" y2="168.70" stroke="#3c3c3c" stroke-width="1.2" />
<line x1="589.50" y1="206.50" x2="589.50" y2="209.90" stroke="#3c3c3c" stroke-width="1.2" />
<line x1="592.50" y1="165.30" x2="592.50" y2="168.70" stroke="#3c3c3c" stroke-width="1.2" />
<line x1="592.50" y1="206.50" x2="592.50" y2="209.90" stroke="#3c3c3c" stroke-width="1.2" />
<line x1="595.50" y1="165.30" x2="595.50" y2="168.70" stroke="#3c3c3c" stroke-width="1.2" />
<line x1="595.50" y1="206.50" x2="595.50" y2="209.90" stroke="#3c3c3c" stroke-width="1.2" />
<line x1="598.50" y1="165.30" x2="598.50" y2="168.70" stroke="#3c3c3c" stroke-width="1.2" />
<line x1="598.50" y1="206.50" x2="598.50" y2="209.90" stroke="#3c3c3c" stroke-width="1.2" />
<line x1="600.50" y1="165.30" x2="600.50" y2="170.80" stroke="#3c3c3c" stroke-width="1.2" />
<line x1="600.50" y1="206.50" x2="600.50" y2="212.00" stroke="#3c3c3c" stroke-width="1.2" />
<line x1="616.50" y1="165.30" x2="616.50" y2="168.70" stroke="#3c3c3c" stroke-width="1.2" />
<line x1="616.50" y1="206.50" x2="616.50" y2="209.90" stroke="#3c3c3c" stroke-width="1.2" />
<line x1="625.50" y1="165.30" x2="625.50" y2="168.70" stroke="#3c3c3c" stroke-width="1.2" />
<line x1="625.50" y1="206.50" x2="625.50" y2="209.90" stroke="#3c3c3c" stroke-width="1.2" />
<line x1="632.50" y1="165.30" x2="632.50" y2="168.70" stroke="#3c3c3c" stroke-width="1.2" />
<line x1="632.50" y1="206.50" x2="632.50" y2="209.90" stroke="#3c3c3c" stroke-width="1.2" />
<line x1="637.50" y1="165.30" x2="637.50" y2="168.70" stroke="#3c3c3c" stroke-width="1.2" />
<line x1="637.50" y1="206.50" x2="637.50" y2="209.90" stroke="#3c3c3c" stroke-width="1.2" />
<line x1="641.50" y1="165.30" x2="641.50" y2="168.70" stroke="#3c3c3c" stroke-width="1.2" />
<line x1="641.50" y1="206.50" x2="641.50" y2="209.90" stroke="#3c3c3c" stroke-width="1.2" />
<line x1="645.50" y1="165.30" x2="645.50" y2="168.70" stroke="#3c3c3c" stroke-width="1.2" />
<line x1="645.50" y1="206.50" x2="645.50" y2="209.90" stroke="#3c3c3c" stroke-width="1.2" />
<line x1="648.50" y1="165.30" x2="648.50" y2="168.70" stroke="#3c3c3c" stroke-width="1.2" />
<line x1="648.50" y1="206.50" x2="648.50" y2="209.90" stroke="#3c3c3c" stroke-width="1.2" />
<line x1="650.50" y1="165.30" x2="650.50" y2="168.70" stroke="#3c3c3c" stroke-width="1.2" />
<line x1="650.50" y1="206.50" x2="650.50" y2="209.90" stroke="#3c3c3c" stroke-width="1.2" />
<line x1="653.50" y1="165.30" x2="653.50" y2="170.80" stroke="#3c3c3c" stroke-width="1.2" />
<line x1="653.50" y1="206.50" x2="653.50" y2="212.00" stroke="#3c3c3c" stroke-width="1.2" />
<line x1="669.50" y1="165.30" x2="669.50" y2="168.70" stroke="#3c3c3c" stroke-width="1.2" />
<line x1="669.50" y1="206.50" x2="669.50" y2="209.90" stroke="#3c3c3c" stroke-width="1.2" />
<line x1="678.50" y1="165.30" x2="678.50" y2="168.70" stroke="#3c3c3c" stroke-width="1.2" />
<line x1="678.50" y1="206.50" x2="678.50" y2="209.90" stroke="#3c3c3c" stroke-width="1.2" />
<line x1="684.50" y1="165.30" x2="684.50" y2="168.70" stroke="#3c3c3c" stroke-width="1.2" />
<line x1="684.50" y1="206.50" x2="684.50" y2="209.90" stroke="#3c3c3c" stroke-width="1.2" />
<line x1="690.50" y1="165.30" x2="690.50" y2="168.70" stroke="#3c3c3c" stroke-width="1.2" />
<line x1="690.50" y1="206.50" x2="690.50" y2="209.90" stroke="#3c3c3c" stroke-width="1.2" />
<line x1="694.50" y1="165.30" x2="694.50" y2="168.70" stroke="#3c3c3c" stroke-width="1.2" />
<line x1="694.50" y1="206.50" x2="694.50" y2="209.90" stroke="#3c3c3c" stroke-width="1.2" />
<line x1="697.50" y1="165.30" x2="697.50" y2="168.70" stroke="#3c3c3c" stroke-width="1.2" />
<line x1="697.50" y1="206.50" x2="697.50" y2="209.90" stroke="#3c3c3c" stroke-width="1.2" />
<line x1="700.50" y1="165.30" x2="700.50" y2="168.70" stroke="#3c3c3c" stroke-width="1.2" />
<line x1="700.50" y1="206.50" x2="700.50" y2="209.90" stroke="#3c3c3c" stroke-width="1.2" />
<line x1="703.50" y1="165.30" x2="703.50" y2="168.70" stroke="#3c3c3c" stroke-width="1.2" />
<line x1="703.50" y1="206.50" x2="703.50" y2="209.90" stroke="#3c3c3c" stroke-width="1.2" />
<line x1="705.50" y1="165.30" x2="705.50" y2="170.80" stroke="#3c3c3c" stroke-width="1.2" />
<line x1="705.50" y1="206.50" x2="705.50" y2="212.00" stroke="#3c3c3c" stroke-width="1.2" />
<line x1="721.50" y1="165.30" x2="721.50" y2="168.70" stroke="#3c3c3c" stroke-width="1.2" />
<line x1="721.50" y1="206.50" x2="721.50" y2="209.90" stroke="#3c3c3c" stroke-width="1.2" />
<line x1="730.50" y1="165.30" x2="730.50" y2="168.70" stroke="#3c3c3c" stroke-width="1.2" />
<line x1="730.50" y1="206.50" x2="730.50" y2="209.90" stroke="#3c3c3c" stroke-width="1.2" />
<line x1="737.50" y1="165.30" x2="737.50" y2="168.70" stroke="#3c3c3c" stroke-width="1.2" />
<line x1="737.50" y1="206.50" x2="737.50" y2="209.90" stroke="#3c3c3c" stroke-width="1.2" />
<line x1="742.50" y1="165.30" x2="742.50" y2="168.70" stroke="#3c3c3c" stroke-width="1.2" />
<line x1="742.50" y1="206.50" x2="742.50" y2="209.90" stroke="#3c3c3c" stroke-width="1.2" />
<line x1="746.50" y1="165.30" x2="746.50" y2="168.70" stroke="#3c3c3c" stroke-width="1.2" />
<line x1="746.50" y1="206.50" x2="746.50" y2="209.90" stroke="#3c3c3c" stroke-width="1.2" />
<line x1="750.50" y1="165.30" x2="750.50" y2="168.70" stroke="#3c3c3c" stroke-width="1.2" />
<line x1="750.50" y1="206.50" x2="750.50" y2="209.90" stroke="#3c3c3c" stroke-width="1.2" />
<line x1="753.50" y1="165.30" x2="753.50" y2="168.70" stroke="#3c3c3c" stroke-width="1.2" />
<line x1="753.50" y1="206.50" x2="753.50" y2="209.90" stroke="#3c3c3c" stroke-width="1.2" />
<line x1="756.50" y1="165.30" x2="756.50" y2="168.70" stroke="#3c3c3c" stroke-width="1.2" />
<line x1="756.50" y1="206.50" x2="756.50" y2="209.90" stroke="#3c3c3c" stroke-width="1.2" />
<line x1="758.50" y1="165.30" x2="758.50" y2="170.80" stroke="#3c3c3c" stroke-width="1.2" />
<line x1="758.50" y1="206.50" x2="758.50" y2="212.00" stroke="#3c3c3c" stroke-width="1.2" />
<text x="592.80" y="220.10" font-size="10.0" textLength="11.71" lengthAdjust="spacingAndGlyphs">10</text>
<text x="604.51" y="216.70" font-size="7.00" textLength="4.10" lengthAdjust="spacingAndGlyphs">0</text>
<text x="645.40" y="220.10" font-size="10.0" textLength="11.71" lengthAdjust="spacingAndGlyphs">10</text>
<text x="657.10" y="216.70" font-size="7.00" textLength="4.10" lengthAdjust="spacingAndGlyphs">1</text>
<text x="698.00" y="220.10" font-size="10.0" textLength="11.71" lengthAdjust="spacingAndGlyphs">10</text>
<text x="709.70" y="216.70" font-size="7.00" textLength="4.10" lengthAdjust="spacingAndGlyphs">2</text>
<text x="750.59" y="220.10" font-size="10.0" textLength="11.71" lengthAdjust="spacingAndGlyphs">10</text>
<text x="762.30" y="216.70" font-size="7.00" textLength="4.10" lengthAdjust="spacingAndGlyphs">3</text>
<text x="634.80" y="232.90" font-size="12.9" textLength="38.5" lengthAdjust="spacingAndGlyphs">w (<tspan font-style="italic">μ</tspan>s)</text>
<clipPath id="clipD"><rect x="45.5" y="247.6" width="210.0" height="164.00000000000003"/></clipPath>
<clipPath id="rclipD"><rect x="45.5" y="411.6" width="210.0" height="40.0"/></clipPath>
<line x1="45.50" y1="431.90" x2="255.50" y2="431.90" stroke="#8c8c8c" stroke-width="0.8" stroke-dasharray="2.6,1.6"/>
<g clip-path="url(#clipD)" fill="none" stroke-width="1.75" stroke-linejoin="round" stroke-linecap="round">
<path d="M45.50,258.16 L46.82,258.56 L48.14,258.99 L49.46,259.45 L50.78,259.93 L52.10,260.45 L53.42,260.99 L54.75,261.57 L56.07,262.19 L57.39,262.84 L58.71,263.53 L60.03,264.25 L61.35,265.02 L62.67,265.83 L63.99,266.69 L65.31,267.58 L66.63,268.53 L67.95,269.52 L69.27,270.56 L70.59,271.64 L71.92,272.78 L73.24,273.96 L74.56,275.20 L75.88,276.48 L77.20,277.82 L78.52,279.20 L79.84,280.63 L81.16,282.10 L82.48,283.62 L83.80,285.18 L85.12,286.78 L86.44,288.42 L87.76,290.09 L89.08,291.80 L90.41,293.53 L91.73,295.29 L93.05,297.07 L94.37,298.86 L95.69,300.67 L97.01,302.48 L98.33,304.30 L99.65,306.12 L100.97,307.92 L102.29,309.72 L103.61,311.51 L104.93,313.27 L106.25,315.01 L107.58,316.73 L108.90,318.41 L110.22,320.06 L111.54,321.67 L112.86,323.25 L114.18,324.78 L115.50,326.27 L116.82,327.71 L118.14,329.11 L119.46,330.46 L120.78,331.76 L122.10,333.01 L123.42,334.21 L124.75,335.36 L126.07,336.46 L127.39,337.52 L128.71,338.52 L130.03,339.48 L131.35,340.39 L132.67,341.26 L133.99,342.09 L135.31,342.87 L136.63,343.61 L137.95,344.32 L139.27,344.98 L140.59,345.61 L141.92,346.20 L143.24,346.76 L144.56,347.29 L145.88,347.79 L147.20,348.26 L148.52,348.70 L149.84,349.11 L151.16,349.51 L152.48,349.87 L153.80,350.22 L155.12,350.54 L156.44,350.85 L157.76,351.14 L159.08,351.41 L160.41,351.66 L161.73,351.90 L163.05,352.12 L164.37,352.34 L165.69,352.54 L167.01,352.72 L168.33,352.90 L169.65,353.07 L170.97,353.23 L172.29,353.38 L173.61,353.52 L174.93,353.66 L176.25,353.79 L177.58,353.91 L178.90,354.03 L180.22,354.15 L181.54,354.26 L182.86,354.36 L184.18,354.47 L185.50,354.57 L186.82,354.67 L188.14,354.77 L189.46,354.87 L190.78,354.97 L192.10,355.07 L193.42,355.17 L194.75,355.27 L196.07,355.37 L197.39,355.48 L198.71,355.59 L200.03,355.70 L201.35,355.81 L202.67,355.93 L203.99,356.06 L205.31,356.18 L206.63,356.32 L207.95,356.46 L209.27,356.60 L210.59,356.75 L211.92,356.91 L213.24,357.07 L214.56,357.24 L215.88,357.42 L217.20,357.61 L218.52,357.80 L219.84,358.00 L221.16,358.20 L222.48,358.41 L223.80,358.63 L225.12,358.85 L226.44,359.07 L227.76,359.30 L229.08,359.54 L230.41,359.77 L231.73,360.01 L233.05,360.25 L234.37,360.49 L235.69,360.73 L237.01,360.97 L238.33,361.21 L239.65,361.44 L240.97,361.67 L242.29,361.89 L243.61,362.11 L244.93,362.32 L246.25,362.53 L247.58,362.73 L248.90,362.92 L250.22,363.11 L251.54,363.29 L252.86,363.46 L254.18,363.62 L255.50,363.77" stroke="#1f77b4"/>
<circle cx="45.50" cy="256.47" r="1.55" fill="#1f77b4" stroke="none"/>
<circle cx="52.74" cy="259.92" r="1.55" fill="#1f77b4" stroke="none"/>
<circle cx="59.98" cy="263.50" r="1.55" fill="#1f77b4" stroke="none"/>
<circle cx="67.22" cy="268.24" r="1.55" fill="#1f77b4" stroke="none"/>
<circle cx="74.47" cy="274.24" r="1.55" fill="#1f77b4" stroke="none"/>
<circle cx="81.71" cy="280.60" r="1.55" fill="#1f77b4" stroke="none"/>
<circle cx="88.95" cy="290.57" r="1.55" fill="#1f77b4" stroke="none"/>
<circle cx="96.19" cy="299.24" r="1.55" fill="#1f77b4" stroke="none"/>
<circle cx="103.43" cy="310.05" r="1.55" fill="#1f77b4" stroke="none"/>
<circle cx="110.67" cy="318.44" r="1.55" fill="#1f77b4" stroke="none"/>
<circle cx="117.91" cy="327.32" r="1.55" fill="#1f77b4" stroke="none"/>
<circle cx="125.16" cy="334.84" r="1.55" fill="#1f77b4" stroke="none"/>
<circle cx="132.40" cy="340.95" r="1.55" fill="#1f77b4" stroke="none"/>
<circle cx="139.64" cy="346.28" r="1.55" fill="#1f77b4" stroke="none"/>
<circle cx="146.88" cy="349.14" r="1.55" fill="#1f77b4" stroke="none"/>
<circle cx="154.12" cy="351.44" r="1.55" fill="#1f77b4" stroke="none"/>
<circle cx="161.36" cy="354.03" r="1.55" fill="#1f77b4" stroke="none"/>
<circle cx="168.60" cy="353.97" r="1.55" fill="#1f77b4" stroke="none"/>
<circle cx="175.84" cy="355.16" r="1.55" fill="#1f77b4" stroke="none"/>
<circle cx="183.09" cy="355.72" r="1.55" fill="#1f77b4" stroke="none"/>
<circle cx="190.33" cy="356.30" r="1.55" fill="#1f77b4" stroke="none"/>
<circle cx="197.57" cy="356.62" r="1.55" fill="#1f77b4" stroke="none"/>
<circle cx="204.81" cy="356.79" r="1.55" fill="#1f77b4" stroke="none"/>
<circle cx="212.05" cy="358.11" r="1.55" fill="#1f77b4" stroke="none"/>
<circle cx="219.29" cy="358.92" r="1.55" fill="#1f77b4" stroke="none"/>
<circle cx="226.53" cy="360.27" r="1.55" fill="#1f77b4" stroke="none"/>
<circle cx="233.78" cy="361.23" r="1.55" fill="#1f77b4" stroke="none"/>
<circle cx="241.02" cy="362.85" r="1.55" fill="#1f77b4" stroke="none"/>
<circle cx="248.26" cy="363.90" r="1.55" fill="#1f77b4" stroke="none"/>
<circle cx="255.50" cy="365.17" r="1.55" fill="#1f77b4" stroke="none"/>
<path d="M45.50,257.74 L46.82,258.36 L48.14,259.02 L49.46,259.73 L50.78,260.47 L52.10,261.26 L53.42,262.10 L54.75,262.99 L56.07,263.92 L57.39,264.91 L58.71,265.96 L60.03,267.06 L61.35,268.21 L62.67,269.43 L63.99,270.70 L65.31,272.04 L66.63,273.44 L67.95,274.90 L69.27,276.42 L70.59,278.00 L71.92,279.65 L73.24,281.35 L74.56,283.11 L75.88,284.94 L77.20,286.81 L78.52,288.74 L79.84,290.72 L81.16,292.74 L82.48,294.81 L83.80,296.91 L85.12,299.05 L86.44,301.22 L87.76,303.41 L89.08,305.62 L90.41,307.85 L91.73,310.08 L93.05,312.31 L94.37,314.54 L95.69,316.75 L97.01,318.96 L98.33,321.14 L99.65,323.29 L100.97,325.42 L102.29,327.50 L103.61,329.55 L104.93,331.56 L106.25,333.51 L107.58,335.42 L108.90,337.27 L110.22,339.07 L111.54,340.81 L112.86,342.49 L114.18,344.11 L115.50,345.67 L116.82,347.17 L118.14,348.61 L119.46,349.99 L120.78,351.30 L122.10,352.56 L123.42,353.76 L124.75,354.91 L126.07,356.00 L127.39,357.03 L128.71,358.02 L130.03,358.95 L131.35,359.83 L132.67,360.67 L133.99,361.47 L135.31,362.22 L136.63,362.93 L137.95,363.60 L139.27,364.24 L140.59,364.83 L141.92,365.40 L143.24,365.94 L144.56,366.44 L145.88,366.92 L147.20,367.37 L148.52,367.80 L149.84,368.20 L151.16,368.58 L152.48,368.94 L153.80,369.28 L155.12,369.60 L156.44,369.91 L157.76,370.20 L159.08,370.48 L160.41,370.74 L161.73,370.99 L163.05,371.22 L164.37,371.45 L165.69,371.67 L167.01,371.87 L168.33,372.07 L169.65,372.26 L170.97,372.44 L172.29,372.62 L173.61,372.79 L174.93,372.95 L176.25,373.11 L177.58,373.27 L178.90,373.42 L180.22,373.56 L181.54,373.71 L182.86,373.85 L184.18,373.98 L185.50,374.12 L186.82,374.25 L188.14,374.38 L189.46,374.51 L190.78,374.64 L192.10,374.76 L193.42,374.89 L194.75,375.01 L196.07,375.14 L197.39,375.26 L198.71,375.39 L200.03,375.51 L201.35,375.64 L202.67,375.76 L203.99,375.89 L205.31,376.01 L206.63,376.14 L207.95,376.27 L209.27,376.40 L210.59,376.53 L211.92,376.66 L213.24,376.80 L214.56,376.93 L215.88,377.07 L217.20,377.21 L218.52,377.35 L219.84,377.50 L221.16,377.64 L222.48,377.79 L223.80,377.94 L225.12,378.09 L226.44,378.25 L227.76,378.41 L229.08,378.57 L230.41,378.73 L231.73,378.90 L233.05,379.07 L234.37,379.24 L235.69,379.42 L237.01,379.59 L238.33,379.78 L239.65,379.96 L240.97,380.15 L242.29,380.34 L243.61,380.54 L244.93,380.74 L246.25,380.94 L247.58,381.15 L248.90,381.36 L250.22,381.58 L251.54,381.80 L252.86,382.02 L254.18,382.25 L255.50,382.48" stroke="#ff7f0e"/>
<circle cx="45.50" cy="256.28" r="1.55" fill="#ff7f0e" stroke="none"/>
<circle cx="52.74" cy="261.86" r="1.55" fill="#ff7f0e" stroke="none"/>
<circle cx="59.98" cy="267.95" r="1.55" fill="#ff7f0e" stroke="none"/>
<circle cx="67.22" cy="275.11" r="1.55" fill="#ff7f0e" stroke="none"/>
<circle cx="74.47" cy="283.20" r="1.55" fill="#ff7f0e" stroke="none"/>
<circle cx="81.71" cy="293.02" r="1.55" fill="#ff7f0e" stroke="none"/>
<circle cx="88.95" cy="305.46" r="1.55" fill="#ff7f0e" stroke="none"/>
<circle cx="96.19" cy="316.66" r="1.55" fill="#ff7f0e" stroke="none"/>
<circle cx="103.43" cy="328.53" r="1.55" fill="#ff7f0e" stroke="none"/>
<circle cx="110.67" cy="337.92" r="1.55" fill="#ff7f0e" stroke="none"/>
<circle cx="117.91" cy="346.95" r="1.55" fill="#ff7f0e" stroke="none"/>
<circle cx="125.16" cy="354.54" r="1.55" fill="#ff7f0e" stroke="none"/>
<circle cx="132.40" cy="360.29" r="1.55" fill="#ff7f0e" stroke="none"/>
<circle cx="139.64" cy="364.81" r="1.55" fill="#ff7f0e" stroke="none"/>
<circle cx="146.88" cy="367.26" r="1.55" fill="#ff7f0e" stroke="none"/>
<circle cx="154.12" cy="369.48" r="1.55" fill="#ff7f0e" stroke="none"/>
<circle cx="161.36" cy="371.68" r="1.55" fill="#ff7f0e" stroke="none"/>
<circle cx="168.60" cy="372.28" r="1.55" fill="#ff7f0e" stroke="none"/>
<circle cx="175.84" cy="373.46" r="1.55" fill="#ff7f0e" stroke="none"/>
<circle cx="183.09" cy="374.37" r="1.55" fill="#ff7f0e" stroke="none"/>
<circle cx="190.33" cy="375.16" r="1.55" fill="#ff7f0e" stroke="none"/>
<circle cx="197.57" cy="375.44" r="1.55" fill="#ff7f0e" stroke="none"/>
<circle cx="204.81" cy="375.73" r="1.55" fill="#ff7f0e" stroke="none"/>
<circle cx="212.05" cy="376.70" r="1.55" fill="#ff7f0e" stroke="none"/>
<circle cx="219.29" cy="377.47" r="1.55" fill="#ff7f0e" stroke="none"/>
<circle cx="226.53" cy="378.25" r="1.55" fill="#ff7f0e" stroke="none"/>
<circle cx="233.78" cy="378.70" r="1.55" fill="#ff7f0e" stroke="none"/>
<circle cx="241.02" cy="379.89" r="1.55" fill="#ff7f0e" stroke="none"/>
<circle cx="248.26" cy="381.15" r="1.55" fill="#ff7f0e" stroke="none"/>
<circle cx="255.50" cy="382.42" r="1.55" fill="#ff7f0e" stroke="none"/>
<path d="M45.50,257.77 L46.82,258.48 L48.14,259.26 L49.46,260.10 L50.78,261.00 L52.10,261.96 L53.42,263.00 L54.75,264.10 L56.07,265.27 L57.39,266.51 L58.71,267.82 L60.03,269.21 L61.35,270.67 L62.67,272.20 L63.99,273.80 L65.31,275.48 L66.63,277.23 L67.95,279.05 L69.27,280.94 L70.59,282.90 L71.92,284.92 L73.24,287.01 L74.56,289.15 L75.88,291.36 L77.20,293.61 L78.52,295.91 L79.84,298.26 L81.16,300.64 L82.48,303.05 L83.80,305.49 L85.12,307.95 L86.44,310.42 L87.76,312.90 L89.08,315.38 L90.41,317.85 L91.73,320.31 L93.05,322.76 L94.37,325.17 L95.69,327.56 L97.01,329.92 L98.33,332.23 L99.65,334.50 L100.97,336.72 L102.29,338.89 L103.61,341.00 L104.93,343.05 L106.25,345.05 L107.58,346.98 L108.90,348.84 L110.22,350.64 L111.54,352.37 L112.86,354.04 L114.18,355.64 L115.50,357.17 L116.82,358.64 L118.14,360.04 L119.46,361.38 L120.78,362.65 L122.10,363.87 L123.42,365.02 L124.75,366.12 L126.07,367.16 L127.39,368.15 L128.71,369.09 L130.03,369.98 L131.35,370.82 L132.67,371.62 L133.99,372.37 L135.31,373.08 L136.63,373.75 L137.95,374.39 L139.27,374.99 L140.59,375.56 L141.92,376.09 L143.24,376.60 L144.56,377.08 L145.88,377.53 L147.20,377.95 L148.52,378.36 L149.84,378.74 L151.16,379.10 L152.48,379.44 L153.80,379.76 L155.12,380.07 L156.44,380.36 L157.76,380.64 L159.08,380.90 L160.41,381.15 L161.73,381.39 L163.05,381.62 L164.37,381.83 L165.69,382.04 L167.01,382.24 L168.33,382.43 L169.65,382.62 L170.97,382.80 L172.29,382.97 L173.61,383.13 L174.93,383.29 L176.25,383.45 L177.58,383.60 L178.90,383.75 L180.22,383.89 L181.54,384.04 L182.86,384.17 L184.18,384.31 L185.50,384.44 L186.82,384.58 L188.14,384.71 L189.46,384.84 L190.78,384.97 L192.10,385.09 L193.42,385.22 L194.75,385.35 L196.07,385.47 L197.39,385.60 L198.71,385.72 L200.03,385.85 L201.35,385.98 L202.67,386.11 L203.99,386.23 L205.31,386.36 L206.63,386.49 L207.95,386.62 L209.27,386.76 L210.59,386.89 L211.92,387.03 L213.24,387.16 L214.56,387.30 L215.88,387.44 L217.20,387.58 L218.52,387.73 L219.84,387.88 L221.16,388.02 L222.48,388.17 L223.80,388.33 L225.12,388.48 L226.44,388.64 L227.76,388.80 L229.08,388.96 L230.41,389.13 L231.73,389.30 L233.05,389.47 L234.37,389.65 L235.69,389.82 L237.01,390.00 L238.33,390.19 L239.65,390.38 L240.97,390.57 L242.29,390.76 L243.61,390.96 L244.93,391.16 L246.25,391.36 L247.58,391.57 L248.90,391.78 L250.22,392.00 L251.54,392.22 L252.86,392.44 L254.18,392.67 L255.50,392.90" stroke="#2ca02c"/>
<circle cx="45.50" cy="256.52" r="1.55" fill="#2ca02c" stroke="none"/>
<circle cx="52.74" cy="262.86" r="1.55" fill="#2ca02c" stroke="none"/>
<circle cx="59.98" cy="270.21" r="1.55" fill="#2ca02c" stroke="none"/>
<circle cx="67.22" cy="279.18" r="1.55" fill="#2ca02c" stroke="none"/>
<circle cx="74.47" cy="290.46" r="1.55" fill="#2ca02c" stroke="none"/>
<circle cx="81.71" cy="302.28" r="1.55" fill="#2ca02c" stroke="none"/>
<circle cx="88.95" cy="315.88" r="1.55" fill="#2ca02c" stroke="none"/>
<circle cx="96.19" cy="327.95" r="1.55" fill="#2ca02c" stroke="none"/>
<circle cx="103.43" cy="340.37" r="1.55" fill="#2ca02c" stroke="none"/>
<circle cx="110.67" cy="349.49" r="1.55" fill="#2ca02c" stroke="none"/>
<circle cx="117.91" cy="358.20" r="1.55" fill="#2ca02c" stroke="none"/>
<circle cx="125.16" cy="365.68" r="1.55" fill="#2ca02c" stroke="none"/>
<circle cx="132.40" cy="370.94" r="1.55" fill="#2ca02c" stroke="none"/>
<circle cx="139.64" cy="374.96" r="1.55" fill="#2ca02c" stroke="none"/>
<circle cx="146.88" cy="377.49" r="1.55" fill="#2ca02c" stroke="none"/>
<circle cx="154.12" cy="379.67" r="1.55" fill="#2ca02c" stroke="none"/>
<circle cx="161.36" cy="381.66" r="1.55" fill="#2ca02c" stroke="none"/>
<circle cx="168.60" cy="382.21" r="1.55" fill="#2ca02c" stroke="none"/>
<circle cx="175.84" cy="383.25" r="1.55" fill="#2ca02c" stroke="none"/>
<circle cx="183.09" cy="384.08" r="1.55" fill="#2ca02c" stroke="none"/>
<circle cx="190.33" cy="384.80" r="1.55" fill="#2ca02c" stroke="none"/>
<circle cx="197.57" cy="385.23" r="1.55" fill="#2ca02c" stroke="none"/>
<circle cx="204.81" cy="385.65" r="1.55" fill="#2ca02c" stroke="none"/>
<circle cx="212.05" cy="386.37" r="1.55" fill="#2ca02c" stroke="none"/>
<circle cx="219.29" cy="387.14" r="1.55" fill="#2ca02c" stroke="none"/>
<circle cx="226.53" cy="387.82" r="1.55" fill="#2ca02c" stroke="none"/>
<circle cx="233.78" cy="388.62" r="1.55" fill="#2ca02c" stroke="none"/>
<circle cx="241.02" cy="389.78" r="1.55" fill="#2ca02c" stroke="none"/>
<circle cx="248.26" cy="391.04" r="1.55" fill="#2ca02c" stroke="none"/>
<circle cx="255.50" cy="392.41" r="1.55" fill="#2ca02c" stroke="none"/>
<path d="M45.50,258.36 L46.82,258.80 L48.14,259.36 L49.46,260.04 L50.78,260.85 L52.10,261.77 L53.42,262.80 L54.75,263.96 L56.07,265.22 L57.39,266.60 L58.71,268.09 L60.03,269.69 L61.35,271.39 L62.67,273.19 L63.99,275.09 L65.31,277.08 L66.63,279.16 L67.95,281.33 L69.27,283.58 L70.59,285.90 L71.92,288.28 L73.24,290.72 L74.56,293.22 L75.88,295.77 L77.20,298.37 L78.52,301.01 L79.84,303.68 L81.16,306.38 L82.48,309.10 L83.80,311.84 L85.12,314.58 L86.44,317.33 L87.76,320.07 L89.08,322.79 L90.41,325.50 L91.73,328.17 L93.05,330.80 L94.37,333.40 L95.69,335.94 L97.01,338.43 L98.33,340.86 L99.65,343.23 L100.97,345.52 L102.29,347.75 L103.61,349.90 L104.93,351.98 L106.25,353.98 L107.58,355.90 L108.90,357.74 L110.22,359.50 L111.54,361.19 L112.86,362.80 L114.18,364.33 L115.50,365.79 L116.82,367.17 L118.14,368.49 L119.46,369.73 L120.78,370.92 L122.10,372.04 L123.42,373.10 L124.75,374.10 L126.07,375.04 L127.39,375.94 L128.71,376.78 L130.03,377.58 L131.35,378.33 L132.67,379.04 L133.99,379.71 L135.31,380.34 L136.63,380.94 L137.95,381.50 L139.27,382.04 L140.59,382.54 L141.92,383.02 L143.24,383.47 L144.56,383.89 L145.88,384.30 L147.20,384.68 L148.52,385.04 L149.84,385.39 L151.16,385.72 L152.48,386.03 L153.80,386.33 L155.12,386.62 L156.44,386.90 L157.76,387.16 L159.08,387.41 L160.41,387.66 L161.73,387.89 L163.05,388.12 L164.37,388.33 L165.69,388.55 L167.01,388.75 L168.33,388.95 L169.65,389.15 L170.97,389.33 L172.29,389.52 L173.61,389.70 L174.93,389.88 L176.25,390.05 L177.58,390.22 L178.90,390.39 L180.22,390.56 L181.54,390.72 L182.86,390.88 L184.18,391.04 L185.50,391.20 L186.82,391.36 L188.14,391.51 L189.46,391.67 L190.78,391.82 L192.10,391.97 L193.42,392.12 L194.75,392.28 L196.07,392.43 L197.39,392.58 L198.71,392.73 L200.03,392.88 L201.35,393.03 L202.67,393.18 L203.99,393.32 L205.31,393.47 L206.63,393.62 L207.95,393.77 L209.27,393.92 L210.59,394.07 L211.92,394.22 L213.24,394.37 L214.56,394.52 L215.88,394.67 L217.20,394.82 L218.52,394.98 L219.84,395.13 L221.16,395.28 L222.48,395.43 L223.80,395.58 L225.12,395.74 L226.44,395.89 L227.76,396.04 L229.08,396.20 L230.41,396.35 L231.73,396.50 L233.05,396.66 L234.37,396.81 L235.69,396.97 L237.01,397.12 L238.33,397.28 L239.65,397.43 L240.97,397.59 L242.29,397.75 L243.61,397.90 L244.93,398.06 L246.25,398.22 L247.58,398.37 L248.90,398.53 L250.22,398.69 L251.54,398.84 L252.86,399.00 L254.18,399.16 L255.50,399.32" stroke="#d62728"/>
<circle cx="45.50" cy="256.95" r="1.55" fill="#d62728" stroke="none"/>
<circle cx="52.74" cy="263.22" r="1.55" fill="#d62728" stroke="none"/>
<circle cx="59.98" cy="271.08" r="1.55" fill="#d62728" stroke="none"/>
<circle cx="67.22" cy="281.70" r="1.55" fill="#d62728" stroke="none"/>
<circle cx="74.47" cy="295.13" r="1.55" fill="#d62728" stroke="none"/>
<circle cx="81.71" cy="308.63" r="1.55" fill="#d62728" stroke="none"/>
<circle cx="88.95" cy="323.70" r="1.55" fill="#d62728" stroke="none"/>
<circle cx="96.19" cy="336.76" r="1.55" fill="#d62728" stroke="none"/>
<circle cx="103.43" cy="349.29" r="1.55" fill="#d62728" stroke="none"/>
<circle cx="110.67" cy="358.13" r="1.55" fill="#d62728" stroke="none"/>
<circle cx="117.91" cy="366.64" r="1.55" fill="#d62728" stroke="none"/>
<circle cx="125.16" cy="373.24" r="1.55" fill="#d62728" stroke="none"/>
<circle cx="132.40" cy="377.77" r="1.55" fill="#d62728" stroke="none"/>
<circle cx="139.64" cy="381.55" r="1.55" fill="#d62728" stroke="none"/>
<circle cx="146.88" cy="383.87" r="1.55" fill="#d62728" stroke="none"/>
<circle cx="154.12" cy="385.79" r="1.55" fill="#d62728" stroke="none"/>
<circle cx="161.36" cy="387.53" r="1.55" fill="#d62728" stroke="none"/>
<circle cx="168.60" cy="388.19" r="1.55" fill="#d62728" stroke="none"/>
<circle cx="175.84" cy="389.45" r="1.55" fill="#d62728" stroke="none"/>
<circle cx="183.09" cy="390.35" r="1.55" fill="#d62728" stroke="none"/>
<circle cx="190.33" cy="391.12" r="1.55" fill="#d62728" stroke="none"/>
<circle cx="197.57" cy="391.72" r="1.55" fill="#d62728" stroke="none"/>
<circle cx="204.81" cy="392.34" r="1.55" fill="#d62728" stroke="none"/>
<circle cx="212.05" cy="393.26" r="1.55" fill="#d62728" stroke="none"/>
<circle cx="219.29" cy="394.18" r="1.55" fill="#d62728" stroke="none"/>
<circle cx="226.53" cy="394.84" r="1.55" fill="#d62728" stroke="none"/>
<circle cx="233.78" cy="395.55" r="1.55" fill="#d62728" stroke="none"/>
<circle cx="241.02" cy="396.58" r="1.55" fill="#d62728" stroke="none"/>
<circle cx="248.26" cy="397.61" r="1.55" fill="#d62728" stroke="none"/>
<circle cx="255.50" cy="398.64" r="1.55" fill="#d62728" stroke="none"/>
<path d="M45.50,258.36 L46.82,258.58 L48.14,259.03 L49.46,259.68 L50.78,260.54 L52.10,261.60 L53.42,262.84 L54.75,264.27 L56.07,265.87 L57.39,267.64 L58.71,269.57 L60.03,271.65 L61.35,273.86 L62.67,276.21 L63.99,278.68 L65.31,281.25 L66.63,283.92 L67.95,286.68 L69.27,289.51 L70.59,292.39 L71.92,295.33 L73.24,298.30 L74.56,301.30 L75.88,304.31 L77.20,307.34 L78.52,310.36 L79.84,313.38 L81.16,316.36 L82.48,319.32 L83.80,322.24 L85.12,325.12 L86.44,327.96 L87.76,330.77 L89.08,333.52 L90.41,336.24 L91.73,338.90 L93.05,341.52 L94.37,344.10 L95.69,346.62 L97.01,349.10 L98.33,351.52 L99.65,353.88 L100.97,356.17 L102.29,358.40 L103.61,360.55 L104.93,362.63 L106.25,364.63 L107.58,366.55 L108.90,368.40 L110.22,370.16 L111.54,371.84 L112.86,373.45 L114.18,374.97 L115.50,376.42 L116.82,377.78 L118.14,379.08 L119.46,380.30 L120.78,381.46 L122.10,382.55 L123.42,383.58 L124.75,384.55 L126.07,385.47 L127.39,386.33 L128.71,387.14 L130.03,387.90 L131.35,388.62 L132.67,389.29 L133.99,389.92 L135.31,390.52 L136.63,391.08 L137.95,391.60 L139.27,392.10 L140.59,392.56 L141.92,393.00 L143.24,393.41 L144.56,393.80 L145.88,394.16 L147.20,394.51 L148.52,394.83 L149.84,395.14 L151.16,395.43 L152.48,395.70 L153.80,395.96 L155.12,396.21 L156.44,396.44 L157.76,396.66 L159.08,396.88 L160.41,397.08 L161.73,397.27 L163.05,397.45 L164.37,397.63 L165.69,397.80 L167.01,397.96 L168.33,398.11 L169.65,398.27 L170.97,398.41 L172.29,398.55 L173.61,398.69 L174.93,398.82 L176.25,398.95 L177.58,399.08 L178.90,399.20 L180.22,399.33 L181.54,399.45 L182.86,399.56 L184.18,399.68 L185.50,399.80 L186.82,399.91 L188.14,400.02 L189.46,400.14 L190.78,400.25 L192.10,400.36 L193.42,400.47 L194.75,400.58 L196.07,400.70 L197.39,400.81 L198.71,400.92 L200.03,401.03 L201.35,401.15 L202.67,401.26 L203.99,401.38 L205.31,401.49 L206.63,401.61 L207.95,401.73 L209.27,401.85 L210.59,401.97 L211.92,402.10 L213.24,402.22 L214.56,402.35 L215.88,402.47 L217.20,402.60 L218.52,402.74 L219.84,402.87 L221.16,403.01 L222.48,403.14 L223.80,403.28 L225.12,403.43 L226.44,403.57 L227.76,403.72 L229.08,403.87 L230.41,404.02 L231.73,404.17 L233.05,404.33 L234.37,404.49 L235.69,404.65 L237.01,404.81 L238.33,404.98 L239.65,405.15 L240.97,405.33 L242.29,405.50 L243.61,405.68 L244.93,405.86 L246.25,406.05 L247.58,406.24 L248.90,406.43 L250.22,406.62 L251.54,406.82 L252.86,407.02 L254.18,407.23 L255.50,407.44" stroke="#9467bd"/>
<circle cx="45.50" cy="254.14" r="1.55" fill="#9467bd" stroke="none"/>
<circle cx="52.74" cy="261.44" r="1.55" fill="#9467bd" stroke="none"/>
<circle cx="59.98" cy="272.28" r="1.55" fill="#9467bd" stroke="none"/>
<circle cx="67.22" cy="286.33" r="1.55" fill="#9467bd" stroke="none"/>
<circle cx="74.47" cy="303.35" r="1.55" fill="#9467bd" stroke="none"/>
<circle cx="81.71" cy="318.95" r="1.55" fill="#9467bd" stroke="none"/>
<circle cx="88.95" cy="335.08" r="1.55" fill="#9467bd" stroke="none"/>
<circle cx="96.19" cy="347.45" r="1.55" fill="#9467bd" stroke="none"/>
<circle cx="103.43" cy="360.14" r="1.55" fill="#9467bd" stroke="none"/>
<circle cx="110.67" cy="369.18" r="1.55" fill="#9467bd" stroke="none"/>
<circle cx="117.91" cy="377.77" r="1.55" fill="#9467bd" stroke="none"/>
<circle cx="125.16" cy="384.21" r="1.55" fill="#9467bd" stroke="none"/>
<circle cx="132.40" cy="388.90" r="1.55" fill="#9467bd" stroke="none"/>
<circle cx="139.64" cy="392.27" r="1.55" fill="#9467bd" stroke="none"/>
<circle cx="146.88" cy="394.42" r="1.55" fill="#9467bd" stroke="none"/>
<circle cx="154.12" cy="396.12" r="1.55" fill="#9467bd" stroke="none"/>
<circle cx="161.36" cy="397.56" r="1.55" fill="#9467bd" stroke="none"/>
<circle cx="168.60" cy="398.04" r="1.55" fill="#9467bd" stroke="none"/>
<circle cx="175.84" cy="399.01" r="1.55" fill="#9467bd" stroke="none"/>
<circle cx="183.09" cy="399.74" r="1.55" fill="#9467bd" stroke="none"/>
<circle cx="190.33" cy="400.36" r="1.55" fill="#9467bd" stroke="none"/>
<circle cx="197.57" cy="400.66" r="1.55" fill="#9467bd" stroke="none"/>
<circle cx="204.81" cy="400.99" r="1.55" fill="#9467bd" stroke="none"/>
<circle cx="212.05" cy="401.82" r="1.55" fill="#9467bd" stroke="none"/>
<circle cx="219.29" cy="402.69" r="1.55" fill="#9467bd" stroke="none"/>
<circle cx="226.53" cy="403.26" r="1.55" fill="#9467bd" stroke="none"/>
<circle cx="233.78" cy="403.96" r="1.55" fill="#9467bd" stroke="none"/>
<circle cx="241.02" cy="405.10" r="1.55" fill="#9467bd" stroke="none"/>
<circle cx="248.26" cy="406.31" r="1.55" fill="#9467bd" stroke="none"/>
<circle cx="255.50" cy="407.58" r="1.55" fill="#9467bd" stroke="none"/>
</g>
<g clip-path="url(#rclipD)" fill="none" stroke-width="1.75" stroke-linejoin="round">
<path d="M45.50,426.31 L52.74,429.31 L59.98,429.50 L67.22,429.50 L74.47,429.02 L81.71,424.91 L88.95,428.42 L96.19,424.90 L103.43,427.91 L110.67,424.71 L117.91,426.80 L125.16,429.05 L132.40,431.43 L139.64,435.59 L146.88,435.18 L154.12,435.67 L161.36,439.14 L168.60,435.32 L175.84,436.57 L183.09,436.30 L190.33,436.41 L197.57,435.63 L204.81,434.08 L212.05,435.79 L219.29,435.22 L226.53,435.79 L233.78,434.68 L241.02,435.78 L248.26,435.43 L255.50,436.52" stroke="#1f77b4"/>
<path d="M45.50,427.08 L52.74,432.55 L59.98,434.96 L67.22,435.28 L74.47,432.60 L81.71,430.02 L88.95,432.13 L96.19,428.84 L103.43,429.46 L110.67,426.11 L117.91,427.24 L125.16,429.54 L132.40,431.20 L139.64,433.24 L146.88,431.88 L154.12,432.30 L161.36,434.42 L168.60,432.46 L175.84,433.22 L183.09,433.56 L190.33,433.77 L197.57,432.43 L204.81,431.11 L212.05,431.98 L219.29,432.00 L226.53,431.87 L233.78,430.38 L241.02,431.01 L248.26,431.53 L255.50,431.69" stroke="#ff7f0e"/>
<path d="M45.50,427.78 L52.74,433.25 L59.98,435.37 L67.22,435.67 L74.47,436.70 L81.71,434.03 L88.95,434.41 L96.19,430.24 L103.43,430.77 L110.67,426.12 L117.91,426.63 L125.16,429.37 L132.40,430.20 L139.64,431.28 L146.88,430.71 L154.12,431.34 L161.36,433.02 L168.60,431.03 L175.84,431.41 L183.09,431.50 L190.33,431.50 L197.57,430.62 L204.81,429.70 L212.05,429.70 L219.29,429.69 L226.53,429.16 L233.78,428.76 L241.02,429.29 L248.26,429.80 L255.50,430.27" stroke="#2ca02c"/>
<path d="M45.50,427.24 L52.74,435.10 L59.98,436.68 L67.22,437.10 L74.47,438.75 L81.71,435.62 L88.95,435.81 L96.19,431.46 L103.43,430.84 L110.67,425.42 L117.91,426.54 L125.16,428.07 L132.40,428.19 L139.64,429.84 L146.88,429.54 L154.12,429.87 L161.36,430.93 L168.60,429.27 L175.84,430.10 L183.09,430.06 L190.33,429.75 L197.57,429.01 L204.81,428.34 L212.05,428.68 L219.29,428.98 L226.53,428.41 L233.78,427.97 L241.02,428.55 L248.26,429.12 L255.50,429.66" stroke="#d62728"/>
<path d="M45.50,417.99 L52.74,429.47 L59.98,434.23 L67.22,435.80 L74.47,439.36 L81.71,436.40 L88.95,437.96 L96.19,431.50 L103.43,431.50 L110.67,426.72 L117.91,428.28 L125.16,429.80 L132.40,431.04 L139.64,432.05 L146.88,431.87 L154.12,432.22 L161.36,433.04 L168.60,431.56 L175.84,432.24 L183.09,432.40 L190.33,432.40 L197.57,431.37 L204.81,430.37 L212.05,430.94 L219.29,431.48 L226.53,430.85 L233.78,430.39 L241.02,431.12 L248.26,431.82 L255.50,432.36" stroke="#9467bd"/>
</g>
<path d="M45.5,247.6 H255.5 V451.6 H45.5 Z" fill="none" stroke="#3c3c3c" stroke-width="1.0"/>
<line x1="45.50" y1="411.60" x2="255.50" y2="411.60" stroke="#3c3c3c" stroke-width="1.15" />
<line x1="40.10" y1="258.50" x2="45.50" y2="258.50" stroke="#3c3c3c" stroke-width="1.0" />
<text x="38.50" y="261.80" font-size="10.5" text-anchor="end" textLength="5.65" lengthAdjust="spacingAndGlyphs" >1</text>
<line x1="40.10" y1="299.50" x2="45.50" y2="299.50" stroke="#3c3c3c" stroke-width="1.0" />
<text x="38.50" y="302.60" font-size="10.5" text-anchor="end" textLength="14.20" lengthAdjust="spacingAndGlyphs" >0.8</text>
<line x1="40.10" y1="339.50" x2="45.50" y2="339.50" stroke="#3c3c3c" stroke-width="1.0" />
<text x="38.50" y="343.30" font-size="10.5" text-anchor="end" textLength="14.20" lengthAdjust="spacingAndGlyphs" >0.6</text>
<line x1="40.10" y1="380.50" x2="45.50" y2="380.50" stroke="#3c3c3c" stroke-width="1.0" />
<text x="38.50" y="384.10" font-size="10.5" text-anchor="end" textLength="14.20" lengthAdjust="spacingAndGlyphs" >0.4</text>
<line x1="40.10" y1="418.50" x2="45.50" y2="418.50" stroke="#3c3c3c" stroke-width="1.0" />
<text x="38.50" y="422.00" font-size="10.5" text-anchor="end" textLength="19.85" lengthAdjust="spacingAndGlyphs" >0.02</text>
<line x1="40.10" y1="431.50" x2="45.50" y2="431.50" stroke="#3c3c3c" stroke-width="1.0" />
<text x="38.50" y="435.50" font-size="10.5" text-anchor="end" textLength="5.65" lengthAdjust="spacingAndGlyphs" >0</text>
<line x1="40.10" y1="445.50" x2="45.50" y2="445.50" stroke="#3c3c3c" stroke-width="1.0" />
<text x="38.50" y="448.90" font-size="10.5" text-anchor="end" textLength="23.55" lengthAdjust="spacingAndGlyphs" >-0.02</text>
<line x1="60.50" y1="411.60" x2="60.50" y2="415.00" stroke="#3c3c3c" stroke-width="1.2" />
<line x1="60.50" y1="451.60" x2="60.50" y2="455.00" stroke="#3c3c3c" stroke-width="1.2" />
<line x1="69.50" y1="411.60" x2="69.50" y2="415.00" stroke="#3c3c3c" stroke-width="1.2" />
<line x1="69.50" y1="451.60" x2="69.50" y2="455.00" stroke="#3c3c3c" stroke-width="1.2" />
<line x1="76.50" y1="411.60" x2="76.50" y2="415.00" stroke="#3c3c3c" stroke-width="1.2" />
<line x1="76.50" y1="451.60" x2="76.50" y2="455.00" stroke="#3c3c3c" stroke-width="1.2" />
<line x1="81.50" y1="411.60" x2="81.50" y2="415.00" stroke="#3c3c3c" stroke-width="1.2" />
<line x1="81.50" y1="451.60" x2="81.50" y2="455.00" stroke="#3c3c3c" stroke-width="1.2" />
<line x1="85.50" y1="411.60" x2="85.50" y2="415.00" stroke="#3c3c3c" stroke-width="1.2" />
<line x1="85.50" y1="451.60" x2="85.50" y2="455.00" stroke="#3c3c3c" stroke-width="1.2" />
<line x1="89.50" y1="411.60" x2="89.50" y2="415.00" stroke="#3c3c3c" stroke-width="1.2" />
<line x1="89.50" y1="451.60" x2="89.50" y2="455.00" stroke="#3c3c3c" stroke-width="1.2" />
<line x1="92.50" y1="411.60" x2="92.50" y2="415.00" stroke="#3c3c3c" stroke-width="1.2" />
<line x1="92.50" y1="451.60" x2="92.50" y2="455.00" stroke="#3c3c3c" stroke-width="1.2" />
<line x1="94.50" y1="411.60" x2="94.50" y2="415.00" stroke="#3c3c3c" stroke-width="1.2" />
<line x1="94.50" y1="451.60" x2="94.50" y2="455.00" stroke="#3c3c3c" stroke-width="1.2" />
<line x1="97.50" y1="411.60" x2="97.50" y2="417.10" stroke="#3c3c3c" stroke-width="1.2" />
<line x1="97.50" y1="451.60" x2="97.50" y2="457.10" stroke="#3c3c3c" stroke-width="1.2" />
<line x1="113.50" y1="411.60" x2="113.50" y2="415.00" stroke="#3c3c3c" stroke-width="1.2" />
<line x1="113.50" y1="451.60" x2="113.50" y2="455.00" stroke="#3c3c3c" stroke-width="1.2" />
<line x1="122.50" y1="411.60" x2="122.50" y2="415.00" stroke="#3c3c3c" stroke-width="1.2" />
<line x1="122.50" y1="451.60" x2="122.50" y2="455.00" stroke="#3c3c3c" stroke-width="1.2" />
<line x1="129.50" y1="411.60" x2="129.50" y2="415.00" stroke="#3c3c3c" stroke-width="1.2" />
<line x1="129.50" y1="451.60" x2="129.50" y2="455.00" stroke="#3c3c3c" stroke-width="1.2" />
<line x1="134.50" y1="411.60" x2="134.50" y2="415.00" stroke="#3c3c3c" stroke-width="1.2" />
<line x1="134.50" y1="451.60" x2="134.50" y2="455.00" stroke="#3c3c3c" stroke-width="1.2" />
<line x1="138.50" y1="411.60" x2="138.50" y2="415.00" stroke="#3c3c3c" stroke-width="1.2" />
<line x1="138.50" y1="451.60" x2="138.50" y2="455.00" stroke="#3c3c3c" stroke-width="1.2" />
<line x1="141.50" y1="411.60" x2="141.50" y2="415.00" stroke="#3c3c3c" stroke-width="1.2" />
<line x1="141.50" y1="451.60" x2="141.50" y2="455.00" stroke="#3c3c3c" stroke-width="1.2" />
<line x1="144.50" y1="411.60" x2="144.50" y2="415.00" stroke="#3c3c3c" stroke-width="1.2" />
<line x1="144.50" y1="451.60" x2="144.50" y2="455.00" stroke="#3c3c3c" stroke-width="1.2" />
<line x1="147.50" y1="411.60" x2="147.50" y2="415.00" stroke="#3c3c3c" stroke-width="1.2" />
<line x1="147.50" y1="451.60" x2="147.50" y2="455.00" stroke="#3c3c3c" stroke-width="1.2" />
<line x1="150.50" y1="411.60" x2="150.50" y2="417.10" stroke="#3c3c3c" stroke-width="1.2" />
<line x1="150.50" y1="451.60" x2="150.50" y2="457.10" stroke="#3c3c3c" stroke-width="1.2" />
<line x1="165.50" y1="411.60" x2="165.50" y2="415.00" stroke="#3c3c3c" stroke-width="1.2" />
<line x1="165.50" y1="451.60" x2="165.50" y2="455.00" stroke="#3c3c3c" stroke-width="1.2" />
<line x1="175.50" y1="411.60" x2="175.50" y2="415.00" stroke="#3c3c3c" stroke-width="1.2" />
<line x1="175.50" y1="451.60" x2="175.50" y2="455.00" stroke="#3c3c3c" stroke-width="1.2" />
<line x1="181.50" y1="411.60" x2="181.50" y2="415.00" stroke="#3c3c3c" stroke-width="1.2" />
<line x1="181.50" y1="451.60" x2="181.50" y2="455.00" stroke="#3c3c3c" stroke-width="1.2" />
<line x1="186.50" y1="411.60" x2="186.50" y2="415.00" stroke="#3c3c3c" stroke-width="1.2" />
<line x1="186.50" y1="451.60" x2="186.50" y2="455.00" stroke="#3c3c3c" stroke-width="1.2" />
<line x1="191.50" y1="411.60" x2="191.50" y2="415.00" stroke="#3c3c3c" stroke-width="1.2" />
<line x1="191.50" y1="451.60" x2="191.50" y2="455.00" stroke="#3c3c3c" stroke-width="1.2" />
<line x1="194.50" y1="411.60" x2="194.50" y2="415.00" stroke="#3c3c3c" stroke-width="1.2" />
<line x1="194.50" y1="451.60" x2="194.50" y2="455.00" stroke="#3c3c3c" stroke-width="1.2" />
<line x1="197.50" y1="411.60" x2="197.50" y2="415.00" stroke="#3c3c3c" stroke-width="1.2" />
<line x1="197.50" y1="451.60" x2="197.50" y2="455.00" stroke="#3c3c3c" stroke-width="1.2" />
<line x1="200.50" y1="411.60" x2="200.50" y2="415.00" stroke="#3c3c3c" stroke-width="1.2" />
<line x1="200.50" y1="451.60" x2="200.50" y2="455.00" stroke="#3c3c3c" stroke-width="1.2" />
<line x1="202.50" y1="411.60" x2="202.50" y2="417.10" stroke="#3c3c3c" stroke-width="1.2" />
<line x1="202.50" y1="451.60" x2="202.50" y2="457.10" stroke="#3c3c3c" stroke-width="1.2" />
<line x1="218.50" y1="411.60" x2="218.50" y2="415.00" stroke="#3c3c3c" stroke-width="1.2" />
<line x1="218.50" y1="451.60" x2="218.50" y2="455.00" stroke="#3c3c3c" stroke-width="1.2" />
<line x1="227.50" y1="411.60" x2="227.50" y2="415.00" stroke="#3c3c3c" stroke-width="1.2" />
<line x1="227.50" y1="451.60" x2="227.50" y2="455.00" stroke="#3c3c3c" stroke-width="1.2" />
<line x1="234.50" y1="411.60" x2="234.50" y2="415.00" stroke="#3c3c3c" stroke-width="1.2" />
<line x1="234.50" y1="451.60" x2="234.50" y2="455.00" stroke="#3c3c3c" stroke-width="1.2" />
<line x1="239.50" y1="411.60" x2="239.50" y2="415.00" stroke="#3c3c3c" stroke-width="1.2" />
<line x1="239.50" y1="451.60" x2="239.50" y2="455.00" stroke="#3c3c3c" stroke-width="1.2" />
<line x1="243.50" y1="411.60" x2="243.50" y2="415.00" stroke="#3c3c3c" stroke-width="1.2" />
<line x1="243.50" y1="451.60" x2="243.50" y2="455.00" stroke="#3c3c3c" stroke-width="1.2" />
<line x1="247.50" y1="411.60" x2="247.50" y2="415.00" stroke="#3c3c3c" stroke-width="1.2" />
<line x1="247.50" y1="451.60" x2="247.50" y2="455.00" stroke="#3c3c3c" stroke-width="1.2" />
<line x1="250.50" y1="411.60" x2="250.50" y2="415.00" stroke="#3c3c3c" stroke-width="1.2" />
<line x1="250.50" y1="451.60" x2="250.50" y2="455.00" stroke="#3c3c3c" stroke-width="1.2" />
<line x1="253.50" y1="411.60" x2="253.50" y2="415.00" stroke="#3c3c3c" stroke-width="1.2" />
<line x1="253.50" y1="451.60" x2="253.50" y2="455.00" stroke="#3c3c3c" stroke-width="1.2" />
<line x1="255.50" y1="411.60" x2="255.50" y2="417.10" stroke="#3c3c3c" stroke-width="1.2" />
<line x1="255.50" y1="451.60" x2="255.50" y2="457.10" stroke="#3c3c3c" stroke-width="1.2" />
<text x="89.42" y="465.20" font-size="10.0" textLength="11.71" lengthAdjust="spacingAndGlyphs">10</text>
<text x="101.13" y="461.80" font-size="7.00" textLength="4.10" lengthAdjust="spacingAndGlyphs">0</text>
<text x="142.15" y="465.20" font-size="10.0" textLength="11.71" lengthAdjust="spacingAndGlyphs">10</text>
<text x="153.85" y="461.80" font-size="7.00" textLength="4.10" lengthAdjust="spacingAndGlyphs">1</text>
<text x="194.87" y="465.20" font-size="10.0" textLength="11.71" lengthAdjust="spacingAndGlyphs">10</text>
<text x="206.58" y="461.80" font-size="7.00" textLength="4.10" lengthAdjust="spacingAndGlyphs">2</text>
<text x="247.59" y="465.20" font-size="10.0" textLength="11.71" lengthAdjust="spacingAndGlyphs">10</text>
<text x="259.30" y="461.80" font-size="7.00" textLength="4.10" lengthAdjust="spacingAndGlyphs">3</text>
<text x="131.55" y="478.00" font-size="12.9" textLength="38.5" lengthAdjust="spacingAndGlyphs">w (<tspan font-style="italic">μ</tspan>s)</text>
<clipPath id="clipE"><rect x="296.5" y="247.6" width="210.0" height="164.00000000000003"/></clipPath>
<clipPath id="rclipE"><rect x="296.5" y="411.6" width="210.0" height="40.0"/></clipPath>
<line x1="296.50" y1="431.90" x2="506.50" y2="431.90" stroke="#8c8c8c" stroke-width="0.8" stroke-dasharray="2.6,1.6"/>
<g clip-path="url(#clipE)" fill="none" stroke-width="1.75" stroke-linejoin="round" stroke-linecap="round">
<path d="M296.50,255.58 L297.82,255.65 L299.14,255.72 L300.46,255.80 L301.78,255.88 L303.10,255.96 L304.42,256.06 L305.75,256.15 L307.07,256.26 L308.39,256.37 L309.71,256.49 L311.03,256.61 L312.35,256.74 L313.67,256.88 L314.99,257.03 L316.31,257.19 L317.63,257.35 L318.95,257.53 L320.27,257.71 L321.59,257.91 L322.92,258.12 L324.24,258.33 L325.56,258.57 L326.88,258.81 L328.20,259.07 L329.52,259.34 L330.84,259.63 L332.16,259.93 L333.48,260.25 L334.80,260.58 L336.12,260.94 L337.44,261.31 L338.76,261.70 L340.08,262.11 L341.41,262.54 L342.73,262.99 L344.05,263.47 L345.37,263.97 L346.69,264.49 L348.01,265.03 L349.33,265.60 L350.65,266.20 L351.97,266.82 L353.29,267.47 L354.61,268.14 L355.93,268.85 L357.25,269.58 L358.58,270.34 L359.90,271.13 L361.22,271.95 L362.54,272.80 L363.86,273.68 L365.18,274.58 L366.50,275.52 L367.82,276.49 L369.14,277.48 L370.46,278.50 L371.78,279.55 L373.10,280.63 L374.42,281.73 L375.75,282.86 L377.07,284.01 L378.39,285.18 L379.71,286.38 L381.03,287.59 L382.35,288.83 L383.67,290.08 L384.99,291.35 L386.31,292.63 L387.63,293.92 L388.95,295.23 L390.27,296.54 L391.59,297.87 L392.92,299.19 L394.24,300.52 L395.56,301.86 L396.88,303.19 L398.20,304.53 L399.52,305.86 L400.84,307.18 L402.16,308.51 L403.48,309.82 L404.80,311.13 L406.12,312.43 L407.44,313.71 L408.76,314.99 L410.08,316.25 L411.41,317.50 L412.73,318.74 L414.05,319.96 L415.37,321.16 L416.69,322.35 L418.01,323.52 L419.33,324.67 L420.65,325.81 L421.97,326.93 L423.29,328.02 L424.61,329.10 L425.93,330.16 L427.25,331.20 L428.58,332.21 L429.90,333.21 L431.22,334.19 L432.54,335.14 L433.86,336.08 L435.18,336.99 L436.50,337.89 L437.82,338.76 L439.14,339.61 L440.46,340.44 L441.78,341.24 L443.10,342.03 L444.42,342.79 L445.75,343.54 L447.07,344.26 L448.39,344.96 L449.71,345.65 L451.03,346.31 L452.35,346.95 L453.67,347.57 L454.99,348.17 L456.31,348.76 L457.63,349.32 L458.95,349.86 L460.27,350.39 L461.59,350.90 L462.92,351.39 L464.24,351.86 L465.56,352.31 L466.88,352.75 L468.20,353.18 L469.52,353.58 L470.84,353.97 L472.16,354.35 L473.48,354.71 L474.80,355.06 L476.12,355.39 L477.44,355.71 L478.76,356.02 L480.08,356.31 L481.41,356.59 L482.73,356.86 L484.05,357.12 L485.37,357.37 L486.69,357.60 L488.01,357.83 L489.33,358.05 L490.65,358.25 L491.97,358.45 L493.29,358.64 L494.61,358.82 L495.93,358.99 L497.25,359.15 L498.58,359.31 L499.90,359.46 L501.22,359.60 L502.54,359.74 L503.86,359.87 L505.18,359.99 L506.50,360.11" stroke="#1f77b4"/>
<circle cx="296.50" cy="255.50" r="1.55" fill="#1f77b4" stroke="none"/>
<circle cx="303.74" cy="255.87" r="1.55" fill="#1f77b4" stroke="none"/>
<circle cx="310.98" cy="256.28" r="1.55" fill="#1f77b4" stroke="none"/>
<circle cx="318.22" cy="257.85" r="1.55" fill="#1f77b4" stroke="none"/>
<circle cx="325.47" cy="258.10" r="1.55" fill="#1f77b4" stroke="none"/>
<circle cx="332.71" cy="259.96" r="1.55" fill="#1f77b4" stroke="none"/>
<circle cx="339.95" cy="261.75" r="1.55" fill="#1f77b4" stroke="none"/>
<circle cx="347.19" cy="264.53" r="1.55" fill="#1f77b4" stroke="none"/>
<circle cx="354.43" cy="266.94" r="1.55" fill="#1f77b4" stroke="none"/>
<circle cx="361.67" cy="271.95" r="1.55" fill="#1f77b4" stroke="none"/>
<circle cx="368.91" cy="275.72" r="1.55" fill="#1f77b4" stroke="none"/>
<circle cx="376.16" cy="281.53" r="1.55" fill="#1f77b4" stroke="none"/>
<circle cx="383.40" cy="287.68" r="1.55" fill="#1f77b4" stroke="none"/>
<circle cx="390.64" cy="294.58" r="1.55" fill="#1f77b4" stroke="none"/>
<circle cx="397.88" cy="301.81" r="1.55" fill="#1f77b4" stroke="none"/>
<circle cx="405.12" cy="310.81" r="1.55" fill="#1f77b4" stroke="none"/>
<circle cx="412.36" cy="317.64" r="1.55" fill="#1f77b4" stroke="none"/>
<circle cx="419.60" cy="325.95" r="1.55" fill="#1f77b4" stroke="none"/>
<circle cx="426.84" cy="332.68" r="1.55" fill="#1f77b4" stroke="none"/>
<circle cx="434.09" cy="338.26" r="1.55" fill="#1f77b4" stroke="none"/>
<circle cx="441.33" cy="342.78" r="1.55" fill="#1f77b4" stroke="none"/>
<circle cx="448.57" cy="346.50" r="1.55" fill="#1f77b4" stroke="none"/>
<circle cx="455.81" cy="348.02" r="1.55" fill="#1f77b4" stroke="none"/>
<circle cx="463.05" cy="350.25" r="1.55" fill="#1f77b4" stroke="none"/>
<circle cx="470.29" cy="355.02" r="1.55" fill="#1f77b4" stroke="none"/>
<circle cx="477.53" cy="355.99" r="1.55" fill="#1f77b4" stroke="none"/>
<circle cx="484.78" cy="357.45" r="1.55" fill="#1f77b4" stroke="none"/>
<circle cx="492.02" cy="358.21" r="1.55" fill="#1f77b4" stroke="none"/>
<circle cx="499.26" cy="362.43" r="1.55" fill="#1f77b4" stroke="none"/>
<circle cx="506.50" cy="361.74" r="1.55" fill="#1f77b4" stroke="none"/>
<path d="M296.50,255.51 L297.82,255.59 L299.14,255.67 L300.46,255.76 L301.78,255.86 L303.10,255.96 L304.42,256.07 L305.75,256.18 L307.07,256.30 L308.39,256.43 L309.71,256.57 L311.03,256.72 L312.35,256.87 L313.67,257.04 L314.99,257.21 L316.31,257.39 L317.63,257.59 L318.95,257.80 L320.27,258.02 L321.59,258.25 L322.92,258.50 L324.24,258.76 L325.56,259.04 L326.88,259.33 L328.20,259.64 L329.52,259.97 L330.84,260.32 L332.16,260.69 L333.48,261.08 L334.80,261.49 L336.12,261.92 L337.44,262.37 L338.76,262.85 L340.08,263.36 L341.41,263.89 L342.73,264.45 L344.05,265.04 L345.37,265.66 L346.69,266.31 L348.01,266.99 L349.33,267.70 L350.65,268.45 L351.97,269.23 L353.29,270.04 L354.61,270.89 L355.93,271.78 L357.25,272.71 L358.58,273.67 L359.90,274.67 L361.22,275.70 L362.54,276.78 L363.86,277.89 L365.18,279.04 L366.50,280.23 L367.82,281.45 L369.14,282.71 L370.46,284.00 L371.78,285.33 L373.10,286.69 L374.42,288.08 L375.75,289.50 L377.07,290.94 L378.39,292.41 L379.71,293.90 L381.03,295.41 L382.35,296.94 L383.67,298.48 L384.99,300.04 L386.31,301.61 L387.63,303.18 L388.95,304.75 L390.27,306.33 L391.59,307.90 L392.92,309.47 L394.24,311.03 L395.56,312.59 L396.88,314.13 L398.20,315.65 L399.52,317.16 L400.84,318.65 L402.16,320.11 L403.48,321.56 L404.80,322.98 L406.12,324.38 L407.44,325.75 L408.76,327.09 L410.08,328.41 L411.41,329.69 L412.73,330.96 L414.05,332.19 L415.37,333.39 L416.69,334.57 L418.01,335.72 L419.33,336.85 L420.65,337.95 L421.97,339.03 L423.29,340.08 L424.61,341.11 L425.93,342.13 L427.25,343.12 L428.58,344.09 L429.90,345.05 L431.22,346.00 L432.54,346.92 L433.86,347.84 L435.18,348.74 L436.50,349.63 L437.82,350.51 L439.14,351.38 L440.46,352.23 L441.78,353.08 L443.10,353.92 L444.42,354.75 L445.75,355.56 L447.07,356.37 L448.39,357.16 L449.71,357.95 L451.03,358.71 L452.35,359.47 L453.67,360.21 L454.99,360.93 L456.31,361.64 L457.63,362.32 L458.95,362.99 L460.27,363.64 L461.59,364.27 L462.92,364.87 L464.24,365.46 L465.56,366.02 L466.88,366.56 L468.20,367.07 L469.52,367.57 L470.84,368.04 L472.16,368.48 L473.48,368.90 L474.80,369.31 L476.12,369.69 L477.44,370.04 L478.76,370.38 L480.08,370.70 L481.41,371.00 L482.73,371.28 L484.05,371.54 L485.37,371.79 L486.69,372.02 L488.01,372.23 L489.33,372.44 L490.65,372.62 L491.97,372.80 L493.29,372.96 L494.61,373.11 L495.93,373.25 L497.25,373.38 L498.58,373.50 L499.90,373.62 L501.22,373.72 L502.54,373.82 L503.86,373.91 L505.18,373.99 L506.50,374.07" stroke="#ff7f0e"/>
<circle cx="296.50" cy="255.84" r="1.55" fill="#ff7f0e" stroke="none"/>
<circle cx="303.74" cy="256.34" r="1.55" fill="#ff7f0e" stroke="none"/>
<circle cx="310.98" cy="256.90" r="1.55" fill="#ff7f0e" stroke="none"/>
<circle cx="318.22" cy="258.38" r="1.55" fill="#ff7f0e" stroke="none"/>
<circle cx="325.47" cy="259.73" r="1.55" fill="#ff7f0e" stroke="none"/>
<circle cx="332.71" cy="261.62" r="1.55" fill="#ff7f0e" stroke="none"/>
<circle cx="339.95" cy="263.51" r="1.55" fill="#ff7f0e" stroke="none"/>
<circle cx="347.19" cy="267.24" r="1.55" fill="#ff7f0e" stroke="none"/>
<circle cx="354.43" cy="270.25" r="1.55" fill="#ff7f0e" stroke="none"/>
<circle cx="361.67" cy="276.40" r="1.55" fill="#ff7f0e" stroke="none"/>
<circle cx="368.91" cy="281.75" r="1.55" fill="#ff7f0e" stroke="none"/>
<circle cx="376.16" cy="288.63" r="1.55" fill="#ff7f0e" stroke="none"/>
<circle cx="383.40" cy="296.39" r="1.55" fill="#ff7f0e" stroke="none"/>
<circle cx="390.64" cy="305.39" r="1.55" fill="#ff7f0e" stroke="none"/>
<circle cx="397.88" cy="314.45" r="1.55" fill="#ff7f0e" stroke="none"/>
<circle cx="405.12" cy="323.47" r="1.55" fill="#ff7f0e" stroke="none"/>
<circle cx="412.36" cy="330.62" r="1.55" fill="#ff7f0e" stroke="none"/>
<circle cx="419.60" cy="337.59" r="1.55" fill="#ff7f0e" stroke="none"/>
<circle cx="426.84" cy="343.10" r="1.55" fill="#ff7f0e" stroke="none"/>
<circle cx="434.09" cy="348.56" r="1.55" fill="#ff7f0e" stroke="none"/>
<circle cx="441.33" cy="352.59" r="1.55" fill="#ff7f0e" stroke="none"/>
<circle cx="448.57" cy="357.02" r="1.55" fill="#ff7f0e" stroke="none"/>
<circle cx="455.81" cy="358.59" r="1.55" fill="#ff7f0e" stroke="none"/>
<circle cx="463.05" cy="363.45" r="1.55" fill="#ff7f0e" stroke="none"/>
<circle cx="470.29" cy="366.19" r="1.55" fill="#ff7f0e" stroke="none"/>
<circle cx="477.53" cy="368.46" r="1.55" fill="#ff7f0e" stroke="none"/>
<circle cx="484.78" cy="372.00" r="1.55" fill="#ff7f0e" stroke="none"/>
<circle cx="492.02" cy="373.57" r="1.55" fill="#ff7f0e" stroke="none"/>
<circle cx="499.26" cy="375.34" r="1.55" fill="#ff7f0e" stroke="none"/>
<circle cx="506.50" cy="374.90" r="1.55" fill="#ff7f0e" stroke="none"/>
<path d="M296.50,255.67 L297.82,255.76 L299.14,255.86 L300.46,255.96 L301.78,256.07 L303.10,256.18 L304.42,256.31 L305.75,256.44 L307.07,256.58 L308.39,256.73 L309.71,256.89 L311.03,257.05 L312.35,257.23 L313.67,257.42 L314.99,257.63 L316.31,257.84 L317.63,258.07 L318.95,258.32 L320.27,258.58 L321.59,258.86 L322.92,259.16 L324.24,259.47 L325.56,259.81 L326.88,260.16 L328.20,260.55 L329.52,260.95 L330.84,261.38 L332.16,261.83 L333.48,262.32 L334.80,262.83 L336.12,263.38 L337.44,263.96 L338.76,264.57 L340.08,265.22 L341.41,265.90 L342.73,266.63 L344.05,267.39 L345.37,268.20 L346.69,269.05 L348.01,269.94 L349.33,270.88 L350.65,271.87 L351.97,272.91 L353.29,274.00 L354.61,275.13 L355.93,276.32 L357.25,277.56 L358.58,278.86 L359.90,280.20 L361.22,281.60 L362.54,283.04 L363.86,284.54 L365.18,286.09 L366.50,287.68 L367.82,289.32 L369.14,291.01 L370.46,292.73 L371.78,294.50 L373.10,296.30 L374.42,298.14 L375.75,300.00 L377.07,301.89 L378.39,303.80 L379.71,305.73 L381.03,307.67 L382.35,309.62 L383.67,311.57 L384.99,313.52 L386.31,315.47 L387.63,317.41 L388.95,319.34 L390.27,321.25 L391.59,323.14 L392.92,325.01 L394.24,326.85 L395.56,328.65 L396.88,330.43 L398.20,332.17 L399.52,333.87 L400.84,335.54 L402.16,337.16 L403.48,338.75 L404.80,340.29 L406.12,341.79 L407.44,343.25 L408.76,344.66 L410.08,346.04 L411.41,347.37 L412.73,348.67 L414.05,349.93 L415.37,351.15 L416.69,352.33 L418.01,353.48 L419.33,354.60 L420.65,355.69 L421.97,356.75 L423.29,357.78 L424.61,358.79 L425.93,359.77 L427.25,360.73 L428.58,361.66 L429.90,362.58 L431.22,363.48 L432.54,364.37 L433.86,365.24 L435.18,366.09 L436.50,366.93 L437.82,367.76 L439.14,368.57 L440.46,369.37 L441.78,370.17 L443.10,370.95 L444.42,371.72 L445.75,372.48 L447.07,373.22 L448.39,373.96 L449.71,374.69 L451.03,375.40 L452.35,376.10 L453.67,376.79 L454.99,377.47 L456.31,378.13 L457.63,378.78 L458.95,379.41 L460.27,380.03 L461.59,380.64 L462.92,381.22 L464.24,381.79 L465.56,382.35 L466.88,382.88 L468.20,383.40 L469.52,383.91 L470.84,384.39 L472.16,384.86 L473.48,385.30 L474.80,385.73 L476.12,386.15 L477.44,386.54 L478.76,386.92 L480.08,387.28 L481.41,387.63 L482.73,387.96 L484.05,388.27 L485.37,388.57 L486.69,388.86 L488.01,389.13 L489.33,389.38 L490.65,389.63 L491.97,389.86 L493.29,390.08 L494.61,390.28 L495.93,390.48 L497.25,390.66 L498.58,390.84 L499.90,391.00 L501.22,391.16 L502.54,391.30 L503.86,391.44 L505.18,391.58 L506.50,391.70" stroke="#2ca02c"/>
<circle cx="296.50" cy="256.15" r="1.55" fill="#2ca02c" stroke="none"/>
<circle cx="303.74" cy="257.26" r="1.55" fill="#2ca02c" stroke="none"/>
<circle cx="310.98" cy="258.00" r="1.55" fill="#2ca02c" stroke="none"/>
<circle cx="318.22" cy="259.39" r="1.55" fill="#2ca02c" stroke="none"/>
<circle cx="325.47" cy="261.04" r="1.55" fill="#2ca02c" stroke="none"/>
<circle cx="332.71" cy="263.97" r="1.55" fill="#2ca02c" stroke="none"/>
<circle cx="339.95" cy="266.73" r="1.55" fill="#2ca02c" stroke="none"/>
<circle cx="347.19" cy="271.22" r="1.55" fill="#2ca02c" stroke="none"/>
<circle cx="354.43" cy="275.01" r="1.55" fill="#2ca02c" stroke="none"/>
<circle cx="361.67" cy="283.69" r="1.55" fill="#2ca02c" stroke="none"/>
<circle cx="368.91" cy="291.03" r="1.55" fill="#2ca02c" stroke="none"/>
<circle cx="376.16" cy="300.00" r="1.55" fill="#2ca02c" stroke="none"/>
<circle cx="383.40" cy="310.07" r="1.55" fill="#2ca02c" stroke="none"/>
<circle cx="390.64" cy="320.60" r="1.55" fill="#2ca02c" stroke="none"/>
<circle cx="397.88" cy="330.93" r="1.55" fill="#2ca02c" stroke="none"/>
<circle cx="405.12" cy="340.19" r="1.55" fill="#2ca02c" stroke="none"/>
<circle cx="412.36" cy="348.45" r="1.55" fill="#2ca02c" stroke="none"/>
<circle cx="419.60" cy="355.09" r="1.55" fill="#2ca02c" stroke="none"/>
<circle cx="426.84" cy="360.69" r="1.55" fill="#2ca02c" stroke="none"/>
<circle cx="434.09" cy="364.96" r="1.55" fill="#2ca02c" stroke="none"/>
<circle cx="441.33" cy="368.37" r="1.55" fill="#2ca02c" stroke="none"/>
<circle cx="448.57" cy="371.78" r="1.55" fill="#2ca02c" stroke="none"/>
<circle cx="455.81" cy="374.58" r="1.55" fill="#2ca02c" stroke="none"/>
<circle cx="463.05" cy="377.25" r="1.55" fill="#2ca02c" stroke="none"/>
<circle cx="470.29" cy="380.92" r="1.55" fill="#2ca02c" stroke="none"/>
<circle cx="477.53" cy="383.68" r="1.55" fill="#2ca02c" stroke="none"/>
<circle cx="484.78" cy="386.11" r="1.55" fill="#2ca02c" stroke="none"/>
<circle cx="492.02" cy="387.34" r="1.55" fill="#2ca02c" stroke="none"/>
<circle cx="499.26" cy="389.39" r="1.55" fill="#2ca02c" stroke="none"/>
<circle cx="506.50" cy="390.57" r="1.55" fill="#2ca02c" stroke="none"/>
<path d="M296.50,255.66 L297.82,255.76 L299.14,255.87 L300.46,256.00 L301.78,256.14 L303.10,256.29 L304.42,256.46 L305.75,256.65 L307.07,256.85 L308.39,257.06 L309.71,257.29 L311.03,257.54 L312.35,257.80 L313.67,258.08 L314.99,258.38 L316.31,258.70 L317.63,259.03 L318.95,259.39 L320.27,259.76 L321.59,260.15 L322.92,260.57 L324.24,261.01 L325.56,261.47 L326.88,261.95 L328.20,262.46 L329.52,262.99 L330.84,263.55 L332.16,264.13 L333.48,264.75 L334.80,265.39 L336.12,266.06 L337.44,266.77 L338.76,267.51 L340.08,268.29 L341.41,269.10 L342.73,269.95 L344.05,270.84 L345.37,271.76 L346.69,272.73 L348.01,273.74 L349.33,274.80 L350.65,275.90 L351.97,277.04 L353.29,278.23 L354.61,279.46 L355.93,280.75 L357.25,282.08 L358.58,283.45 L359.90,284.88 L361.22,286.35 L362.54,287.87 L363.86,289.43 L365.18,291.04 L366.50,292.68 L367.82,294.37 L369.14,296.10 L370.46,297.87 L371.78,299.67 L373.10,301.51 L374.42,303.37 L375.75,305.27 L377.07,307.19 L378.39,309.13 L379.71,311.09 L381.03,313.07 L382.35,315.07 L383.67,317.07 L384.99,319.08 L386.31,321.09 L387.63,323.11 L388.95,325.12 L390.27,327.13 L391.59,329.12 L392.92,331.10 L394.24,333.07 L395.56,335.02 L396.88,336.94 L398.20,338.85 L399.52,340.72 L400.84,342.57 L402.16,344.38 L403.48,346.16 L404.80,347.91 L406.12,349.62 L407.44,351.29 L408.76,352.93 L410.08,354.52 L411.41,356.08 L412.73,357.59 L414.05,359.07 L415.37,360.51 L416.69,361.90 L418.01,363.26 L419.33,364.58 L420.65,365.86 L421.97,367.10 L423.29,368.31 L424.61,369.48 L425.93,370.62 L427.25,371.72 L428.58,372.80 L429.90,373.84 L431.22,374.86 L432.54,375.84 L433.86,376.80 L435.18,377.74 L436.50,378.65 L437.82,379.54 L439.14,380.41 L440.46,381.25 L441.78,382.08 L443.10,382.88 L444.42,383.67 L445.75,384.44 L447.07,385.19 L448.39,385.93 L449.71,386.64 L451.03,387.34 L452.35,388.02 L453.67,388.68 L454.99,389.33 L456.31,389.96 L457.63,390.57 L458.95,391.16 L460.27,391.73 L461.59,392.28 L462.92,392.81 L464.24,393.32 L465.56,393.82 L466.88,394.29 L468.20,394.74 L469.52,395.18 L470.84,395.59 L472.16,395.98 L473.48,396.36 L474.80,396.72 L476.12,397.05 L477.44,397.37 L478.76,397.68 L480.08,397.96 L481.41,398.23 L482.73,398.48 L484.05,398.72 L485.37,398.95 L486.69,399.16 L488.01,399.35 L489.33,399.54 L490.65,399.71 L491.97,399.87 L493.29,400.02 L494.61,400.16 L495.93,400.30 L497.25,400.42 L498.58,400.53 L499.90,400.64 L501.22,400.74 L502.54,400.83 L503.86,400.91 L505.18,400.99 L506.50,401.06" stroke="#d62728"/>
<circle cx="296.50" cy="255.19" r="1.55" fill="#d62728" stroke="none"/>
<circle cx="303.74" cy="256.03" r="1.55" fill="#d62728" stroke="none"/>
<circle cx="310.98" cy="256.95" r="1.55" fill="#d62728" stroke="none"/>
<circle cx="318.22" cy="259.51" r="1.55" fill="#d62728" stroke="none"/>
<circle cx="325.47" cy="261.36" r="1.55" fill="#d62728" stroke="none"/>
<circle cx="332.71" cy="264.27" r="1.55" fill="#d62728" stroke="none"/>
<circle cx="339.95" cy="267.74" r="1.55" fill="#d62728" stroke="none"/>
<circle cx="347.19" cy="273.03" r="1.55" fill="#d62728" stroke="none"/>
<circle cx="354.43" cy="278.45" r="1.55" fill="#d62728" stroke="none"/>
<circle cx="361.67" cy="285.29" r="1.55" fill="#d62728" stroke="none"/>
<circle cx="368.91" cy="293.27" r="1.55" fill="#d62728" stroke="none"/>
<circle cx="376.16" cy="303.77" r="1.55" fill="#d62728" stroke="none"/>
<circle cx="383.40" cy="313.89" r="1.55" fill="#d62728" stroke="none"/>
<circle cx="390.64" cy="325.60" r="1.55" fill="#d62728" stroke="none"/>
<circle cx="397.88" cy="337.27" r="1.55" fill="#d62728" stroke="none"/>
<circle cx="405.12" cy="347.92" r="1.55" fill="#d62728" stroke="none"/>
<circle cx="412.36" cy="357.66" r="1.55" fill="#d62728" stroke="none"/>
<circle cx="419.60" cy="366.71" r="1.55" fill="#d62728" stroke="none"/>
<circle cx="426.84" cy="374.51" r="1.55" fill="#d62728" stroke="none"/>
<circle cx="434.09" cy="378.90" r="1.55" fill="#d62728" stroke="none"/>
<circle cx="441.33" cy="383.12" r="1.55" fill="#d62728" stroke="none"/>
<circle cx="448.57" cy="387.06" r="1.55" fill="#d62728" stroke="none"/>
<circle cx="455.81" cy="390.12" r="1.55" fill="#d62728" stroke="none"/>
<circle cx="463.05" cy="393.12" r="1.55" fill="#d62728" stroke="none"/>
<circle cx="470.29" cy="395.78" r="1.55" fill="#d62728" stroke="none"/>
<circle cx="477.53" cy="398.98" r="1.55" fill="#d62728" stroke="none"/>
<circle cx="484.78" cy="400.02" r="1.55" fill="#d62728" stroke="none"/>
<circle cx="492.02" cy="401.30" r="1.55" fill="#d62728" stroke="none"/>
<circle cx="499.26" cy="402.54" r="1.55" fill="#d62728" stroke="none"/>
<circle cx="506.50" cy="403.59" r="1.55" fill="#d62728" stroke="none"/>
</g>
<g clip-path="url(#rclipE)" fill="none" stroke-width="1.75" stroke-linejoin="round">
<path d="M296.50,431.69 L303.74,431.51 L310.98,431.02 L318.22,433.06 L325.47,430.67 L332.71,431.63 L339.95,431.02 L347.19,431.46 L354.43,428.87 L361.67,431.12 L368.91,427.56 L376.16,427.30 L383.40,426.07 L390.64,425.54 L397.88,425.37 L405.12,430.17 L412.36,429.82 L419.60,434.73 L426.84,436.83 L434.09,437.43 L441.33,436.86 L448.57,435.83 L455.81,430.50 L463.05,428.65 L470.29,435.20 L477.53,432.60 L484.78,432.42 L492.02,431.21 L499.26,440.22 L506.50,436.37" stroke="#1f77b4"/>
<path d="M296.50,432.80 L303.74,432.80 L310.98,432.41 L318.22,433.80 L325.47,433.83 L332.71,434.03 L339.95,432.45 L347.19,433.75 L354.43,430.47 L361.67,432.81 L368.91,429.88 L376.16,428.31 L383.40,427.07 L390.64,428.15 L397.88,429.61 L405.12,432.30 L412.36,431.92 L419.60,433.29 L426.84,432.69 L434.09,433.43 L441.33,431.36 L448.57,431.20 L455.81,424.31 L463.05,427.84 L470.29,427.37 L477.53,427.50 L484.78,432.78 L492.02,433.99 L499.26,436.74 L506.50,434.18" stroke="#ff7f0e"/>
<path d="M296.50,433.20 L303.74,434.69 L310.98,434.51 L318.22,435.20 L325.47,435.34 L332.71,437.19 L339.95,436.23 L347.19,436.93 L354.43,432.00 L361.67,436.26 L368.91,432.76 L376.16,430.32 L383.40,428.90 L390.64,428.70 L397.88,429.64 L405.12,430.64 L412.36,432.27 L419.60,432.60 L426.84,432.60 L434.09,430.74 L441.33,427.75 L448.57,425.66 L455.81,422.90 L463.05,420.88 L470.29,422.96 L477.53,424.01 L484.78,425.52 L492.02,425.01 L499.26,427.72 L506.50,428.82" stroke="#2ca02c"/>
<path d="M296.50,430.62 L303.74,430.97 L310.98,430.32 L318.22,432.78 L325.47,431.70 L332.71,431.59 L339.95,430.63 L347.19,431.67 L354.43,429.59 L361.67,427.60 L368.91,424.97 L376.16,426.19 L383.40,424.36 L390.64,426.24 L397.88,428.85 L405.12,430.81 L412.36,433.22 L419.60,436.98 L426.84,440.44 L434.09,437.17 L441.33,435.51 L448.57,434.72 L455.81,433.00 L463.05,432.60 L470.29,432.87 L477.53,436.23 L484.78,435.10 L492.02,435.79 L499.26,437.23 L506.50,438.79" stroke="#d62728"/>
</g>
<path d="M296.5,247.6 H506.5 V451.6 H296.5 Z" fill="none" stroke="#3c3c3c" stroke-width="1.0"/>
<line x1="296.50" y1="411.60" x2="506.50" y2="411.60" stroke="#3c3c3c" stroke-width="1.15" />
<line x1="291.10" y1="256.50" x2="296.50" y2="256.50" stroke="#3c3c3c" stroke-width="1.0" />
<text x="289.50" y="259.60" font-size="10.5" text-anchor="end" textLength="5.65" lengthAdjust="spacingAndGlyphs" >1</text>
<line x1="291.10" y1="305.50" x2="296.50" y2="305.50" stroke="#3c3c3c" stroke-width="1.0" />
<text x="289.50" y="308.90" font-size="10.5" text-anchor="end" textLength="14.20" lengthAdjust="spacingAndGlyphs" >0.8</text>
<line x1="291.10" y1="354.50" x2="296.50" y2="354.50" stroke="#3c3c3c" stroke-width="1.0" />
<text x="289.50" y="358.20" font-size="10.5" text-anchor="end" textLength="14.20" lengthAdjust="spacingAndGlyphs" >0.6</text>
<line x1="291.10" y1="403.50" x2="296.50" y2="403.50" stroke="#3c3c3c" stroke-width="1.0" />
<text x="289.50" y="407.50" font-size="10.5" text-anchor="end" textLength="14.20" lengthAdjust="spacingAndGlyphs" >0.4</text>
<line x1="291.10" y1="418.50" x2="296.50" y2="418.50" stroke="#3c3c3c" stroke-width="1.0" />
<text x="289.50" y="422.00" font-size="10.5" text-anchor="end" textLength="19.85" lengthAdjust="spacingAndGlyphs" >0.02</text>
<line x1="291.10" y1="431.50" x2="296.50" y2="431.50" stroke="#3c3c3c" stroke-width="1.0" />
<text x="289.50" y="435.50" font-size="10.5" text-anchor="end" textLength="5.65" lengthAdjust="spacingAndGlyphs" >0</text>
<line x1="291.10" y1="445.50" x2="296.50" y2="445.50" stroke="#3c3c3c" stroke-width="1.0" />
<text x="289.50" y="448.90" font-size="10.5" text-anchor="end" textLength="23.55" lengthAdjust="spacingAndGlyphs" >-0.02</text>
<line x1="311.50" y1="411.60" x2="311.50" y2="415.00" stroke="#3c3c3c" stroke-width="1.2" />
<line x1="311.50" y1="451.60" x2="311.50" y2="455.00" stroke="#3c3c3c" stroke-width="1.2" />
<line x1="320.50" y1="411.60" x2="320.50" y2="415.00" stroke="#3c3c3c" stroke-width="1.2" />
<line x1="320.50" y1="451.60" x2="320.50" y2="455.00" stroke="#3c3c3c" stroke-width="1.2" />
<line x1="327.50" y1="411.60" x2="327.50" y2="415.00" stroke="#3c3c3c" stroke-width="1.2" />
<line x1="327.50" y1="451.60" x2="327.50" y2="455.00" stroke="#3c3c3c" stroke-width="1.2" />
<line x1="332.50" y1="411.60" x2="332.50" y2="415.00" stroke="#3c3c3c" stroke-width="1.2" />
<line x1="332.50" y1="451.60" x2="332.50" y2="455.00" stroke="#3c3c3c" stroke-width="1.2" />
<line x1="336.50" y1="411.60" x2="336.50" y2="415.00" stroke="#3c3c3c" stroke-width="1.2" />
<line x1="336.50" y1="451.60" x2="336.50" y2="455.00" stroke="#3c3c3c" stroke-width="1.2" />
<line x1="340.50" y1="411.60" x2="340.50" y2="415.00" stroke="#3c3c3c" stroke-width="1.2" />
<line x1="340.50" y1="451.60" x2="340.50" y2="455.00" stroke="#3c3c3c" stroke-width="1.2" />
<line x1="343.50" y1="411.60" x2="343.50" y2="415.00" stroke="#3c3c3c" stroke-width="1.2" />
<line x1="343.50" y1="451.60" x2="343.50" y2="455.00" stroke="#3c3c3c" stroke-width="1.2" />
<line x1="345.50" y1="411.60" x2="345.50" y2="415.00" stroke="#3c3c3c" stroke-width="1.2" />
<line x1="345.50" y1="451.60" x2="345.50" y2="455.00" stroke="#3c3c3c" stroke-width="1.2" />
<line x1="348.50" y1="411.60" x2="348.50" y2="417.10" stroke="#3c3c3c" stroke-width="1.2" />
<line x1="348.50" y1="451.60" x2="348.50" y2="457.10" stroke="#3c3c3c" stroke-width="1.2" />
<line x1="364.50" y1="411.60" x2="364.50" y2="415.00" stroke="#3c3c3c" stroke-width="1.2" />
<line x1="364.50" y1="451.60" x2="364.50" y2="455.00" stroke="#3c3c3c" stroke-width="1.2" />
<line x1="373.50" y1="411.60" x2="373.50" y2="415.00" stroke="#3c3c3c" stroke-width="1.2" />
<line x1="373.50" y1="451.60" x2="373.50" y2="455.00" stroke="#3c3c3c" stroke-width="1.2" />
<line x1="380.50" y1="411.60" x2="380.50" y2="415.00" stroke="#3c3c3c" stroke-width="1.2" />
<line x1="380.50" y1="451.60" x2="380.50" y2="455.00" stroke="#3c3c3c" stroke-width="1.2" />
<line x1="385.50" y1="411.60" x2="385.50" y2="415.00" stroke="#3c3c3c" stroke-width="1.2" />
<line x1="385.50" y1="451.60" x2="385.50" y2="455.00" stroke="#3c3c3c" stroke-width="1.2" />
<line x1="389.50" y1="411.60" x2="389.50" y2="415.00" stroke="#3c3c3c" stroke-width="1.2" />
<line x1="389.50" y1="451.60" x2="389.50" y2="455.00" stroke="#3c3c3c" stroke-width="1.2" />
<line x1="392.50" y1="411.60" x2="392.50" y2="415.00" stroke="#3c3c3c" stroke-width="1.2" />
<line x1="392.50" y1="451.60" x2="392.50" y2="455.00" stroke="#3c3c3c" stroke-width="1.2" />
<line x1="395.50" y1="411.60" x2="395.50" y2="415.00" stroke="#3c3c3c" stroke-width="1.2" />
<line x1="395.50" y1="451.60" x2="395.50" y2="455.00" stroke="#3c3c3c" stroke-width="1.2" />
<line x1="398.50" y1="411.60" x2="398.50" y2="415.00" stroke="#3c3c3c" stroke-width="1.2" />
<line x1="398.50" y1="451.60" x2="398.50" y2="455.00" stroke="#3c3c3c" stroke-width="1.2" />
<line x1="401.50" y1="411.60" x2="401.50" y2="417.10" stroke="#3c3c3c" stroke-width="1.2" />
<line x1="401.50" y1="451.60" x2="401.50" y2="457.10" stroke="#3c3c3c" stroke-width="1.2" />
<line x1="416.50" y1="411.60" x2="416.50" y2="415.00" stroke="#3c3c3c" stroke-width="1.2" />
<line x1="416.50" y1="451.60" x2="416.50" y2="455.00" stroke="#3c3c3c" stroke-width="1.2" />
<line x1="426.50" y1="411.60" x2="426.50" y2="415.00" stroke="#3c3c3c" stroke-width="1.2" />
<line x1="426.50" y1="451.60" x2="426.50" y2="455.00" stroke="#3c3c3c" stroke-width="1.2" />
<line x1="432.50" y1="411.60" x2="432.50" y2="415.00" stroke="#3c3c3c" stroke-width="1.2" />
<line x1="432.50" y1="451.60" x2="432.50" y2="455.00" stroke="#3c3c3c" stroke-width="1.2" />
<line x1="437.50" y1="411.60" x2="437.50" y2="415.00" stroke="#3c3c3c" stroke-width="1.2" />
<line x1="437.50" y1="451.60" x2="437.50" y2="455.00" stroke="#3c3c3c" stroke-width="1.2" />
<line x1="442.50" y1="411.60" x2="442.50" y2="415.00" stroke="#3c3c3c" stroke-width="1.2" />
<line x1="442.50" y1="451.60" x2="442.50" y2="455.00" stroke="#3c3c3c" stroke-width="1.2" />
<line x1="445.50" y1="411.60" x2="445.50" y2="415.00" stroke="#3c3c3c" stroke-width="1.2" />
<line x1="445.50" y1="451.60" x2="445.50" y2="455.00" stroke="#3c3c3c" stroke-width="1.2" />
<line x1="448.50" y1="411.60" x2="448.50" y2="415.00" stroke="#3c3c3c" stroke-width="1.2" />
<line x1="448.50" y1="451.60" x2="448.50" y2="455.00" stroke="#3c3c3c" stroke-width="1.2" />
<line x1="451.50" y1="411.60" x2="451.50" y2="415.00" stroke="#3c3c3c" stroke-width="1.2" />
<line x1="451.50" y1="451.60" x2="451.50" y2="455.00" stroke="#3c3c3c" stroke-width="1.2" />
<line x1="453.50" y1="411.60" x2="453.50" y2="417.10" stroke="#3c3c3c" stroke-width="1.2" />
<line x1="453.50" y1="451.60" x2="453.50" y2="457.10" stroke="#3c3c3c" stroke-width="1.2" />
<line x1="469.50" y1="411.60" x2="469.50" y2="415.00" stroke="#3c3c3c" stroke-width="1.2" />
<line x1="469.50" y1="451.60" x2="469.50" y2="455.00" stroke="#3c3c3c" stroke-width="1.2" />
<line x1="478.50" y1="411.60" x2="478.50" y2="415.00" stroke="#3c3c3c" stroke-width="1.2" />
<line x1="478.50" y1="451.60" x2="478.50" y2="455.00" stroke="#3c3c3c" stroke-width="1.2" />
<line x1="485.50" y1="411.60" x2="485.50" y2="415.00" stroke="#3c3c3c" stroke-width="1.2" />
<line x1="485.50" y1="451.60" x2="485.50" y2="455.00" stroke="#3c3c3c" stroke-width="1.2" />
<line x1="490.50" y1="411.60" x2="490.50" y2="415.00" stroke="#3c3c3c" stroke-width="1.2" />
<line x1="490.50" y1="451.60" x2="490.50" y2="455.00" stroke="#3c3c3c" stroke-width="1.2" />
<line x1="494.50" y1="411.60" x2="494.50" y2="415.00" stroke="#3c3c3c" stroke-width="1.2" />
<line x1="494.50" y1="451.60" x2="494.50" y2="455.00" stroke="#3c3c3c" stroke-width="1.2" />
<line x1="498.50" y1="411.60" x2="498.50" y2="415.00" stroke="#3c3c3c" stroke-width="1.2" />
<line x1="498.50" y1="451.60" x2="498.50" y2="455.00" stroke="#3c3c3c" stroke-width="1.2" />
<line x1="501.50" y1="411.60" x2="501.50" y2="415.00" stroke="#3c3c3c" stroke-width="1.2" />
<line x1="501.50" y1="451.60" x2="501.50" y2="455.00" stroke="#3c3c3c" stroke-width="1.2" />
<line x1="504.50" y1="411.60" x2="504.50" y2="415.00" stroke="#3c3c3c" stroke-width="1.2" />
<line x1="504.50" y1="451.60" x2="504.50" y2="455.00" stroke="#3c3c3c" stroke-width="1.2" />
<line x1="506.50" y1="411.60" x2="506.50" y2="417.10" stroke="#3c3c3c" stroke-width="1.2" />
<line x1="506.50" y1="451.60" x2="506.50" y2="457.10" stroke="#3c3c3c" stroke-width="1.2" />
<text x="340.42" y="465.20" font-size="10.0" textLength="11.71" lengthAdjust="spacingAndGlyphs">10</text>
<text x="352.13" y="461.80" font-size="7.00" textLength="4.10" lengthAdjust="spacingAndGlyphs">0</text>
<text x="393.15" y="465.20" font-size="10.0" textLength="11.71" lengthAdjust="spacingAndGlyphs">10</text>
<text x="404.85" y="461.80" font-size="7.00" textLength="4.10" lengthAdjust="spacingAndGlyphs">1</text>
<text x="445.87" y="465.20" font-size="10.0" textLength="11.71" lengthAdjust="spacingAndGlyphs">10</text>
<text x="457.58" y="461.80" font-size="7.00" textLength="4.10" lengthAdjust="spacingAndGlyphs">2</text>
<text x="498.59" y="465.20" font-size="10.0" textLength="11.71" lengthAdjust="spacingAndGlyphs">10</text>
<text x="510.30" y="461.80" font-size="7.00" textLength="4.10" lengthAdjust="spacingAndGlyphs">3</text>
<text x="382.55" y="478.00" font-size="12.9" textLength="38.5" lengthAdjust="spacingAndGlyphs">w (<tspan font-style="italic">μ</tspan>s)</text>
<clipPath id="clipF"><rect x="549.0" y="247.6" width="209.5" height="164.00000000000003"/></clipPath>
<clipPath id="rclipF"><rect x="549.0" y="411.6" width="209.5" height="40.0"/></clipPath>
<line x1="549.00" y1="431.90" x2="758.50" y2="431.90" stroke="#8c8c8c" stroke-width="0.8" stroke-dasharray="2.6,1.6"/>
<g clip-path="url(#clipF)" fill="none" stroke-width="1.75" stroke-linejoin="round" stroke-linecap="round">
<path d="M549.00,256.14 L550.32,256.23 L551.64,256.32 L552.95,256.42 L554.27,256.53 L555.59,256.64 L556.91,256.76 L558.22,256.89 L559.54,257.03 L560.86,257.18 L562.18,257.34 L563.49,257.51 L564.81,257.69 L566.13,257.88 L567.45,258.08 L568.76,258.30 L570.08,258.53 L571.40,258.77 L572.72,259.03 L574.03,259.31 L575.35,259.60 L576.67,259.91 L577.99,260.23 L579.31,260.58 L580.62,260.94 L581.94,261.32 L583.26,261.73 L584.58,262.15 L585.89,262.59 L587.21,263.06 L588.53,263.54 L589.85,264.05 L591.16,264.57 L592.48,265.12 L593.80,265.69 L595.12,266.28 L596.43,266.89 L597.75,267.51 L599.07,268.16 L600.39,268.82 L601.70,269.50 L603.02,270.19 L604.34,270.89 L605.66,271.60 L606.97,272.33 L608.29,273.06 L609.61,273.79 L610.93,274.53 L612.25,275.27 L613.56,276.01 L614.88,276.75 L616.20,277.48 L617.52,278.21 L618.83,278.93 L620.15,279.64 L621.47,280.34 L622.79,281.02 L624.10,281.69 L625.42,282.35 L626.74,282.99 L628.06,283.62 L629.37,284.22 L630.69,284.81 L632.01,285.38 L633.33,285.93 L634.64,286.46 L635.96,286.97 L637.28,287.47 L638.60,287.94 L639.92,288.40 L641.23,288.84 L642.55,289.26 L643.87,289.67 L645.19,290.05 L646.50,290.43 L647.82,290.79 L649.14,291.13 L650.46,291.46 L651.77,291.78 L653.09,292.08 L654.41,292.38 L655.73,292.66 L657.04,292.93 L658.36,293.20 L659.68,293.45 L661.00,293.70 L662.31,293.94 L663.63,294.17 L664.95,294.39 L666.27,294.61 L667.58,294.82 L668.90,295.03 L670.22,295.24 L671.54,295.43 L672.86,295.63 L674.17,295.82 L675.49,296.01 L676.81,296.20 L678.13,296.38 L679.44,296.56 L680.76,296.74 L682.08,296.92 L683.40,297.10 L684.71,297.28 L686.03,297.45 L687.35,297.63 L688.67,297.80 L689.98,297.98 L691.30,298.15 L692.62,298.33 L693.94,298.50 L695.25,298.67 L696.57,298.85 L697.89,299.02 L699.21,299.20 L700.53,299.37 L701.84,299.55 L703.16,299.73 L704.48,299.90 L705.80,300.08 L707.11,300.26 L708.43,300.44 L709.75,300.62 L711.07,300.80 L712.38,300.98 L713.70,301.17 L715.02,301.35 L716.34,301.53 L717.65,301.72 L718.97,301.90 L720.29,302.09 L721.61,302.27 L722.92,302.46 L724.24,302.65 L725.56,302.84 L726.88,303.02 L728.19,303.21 L729.51,303.40 L730.83,303.59 L732.15,303.78 L733.47,303.97 L734.78,304.15 L736.10,304.34 L737.42,304.53 L738.74,304.72 L740.05,304.91 L741.37,305.09 L742.69,305.28 L744.01,305.47 L745.32,305.65 L746.64,305.84 L747.96,306.02 L749.28,306.20 L750.59,306.39 L751.91,306.57 L753.23,306.75 L754.55,306.93 L755.86,307.11 L757.18,307.28 L758.50,307.46" stroke="#1f77b4"/>
<circle cx="549.00" cy="255.41" r="1.55" fill="#1f77b4" stroke="none"/>
<circle cx="556.22" cy="256.60" r="1.55" fill="#1f77b4" stroke="none"/>
<circle cx="563.45" cy="257.36" r="1.55" fill="#1f77b4" stroke="none"/>
<circle cx="570.67" cy="258.95" r="1.55" fill="#1f77b4" stroke="none"/>
<circle cx="577.90" cy="261.01" r="1.55" fill="#1f77b4" stroke="none"/>
<circle cx="585.12" cy="262.80" r="1.55" fill="#1f77b4" stroke="none"/>
<circle cx="592.34" cy="265.24" r="1.55" fill="#1f77b4" stroke="none"/>
<circle cx="599.57" cy="268.57" r="1.55" fill="#1f77b4" stroke="none"/>
<circle cx="606.79" cy="272.57" r="1.55" fill="#1f77b4" stroke="none"/>
<circle cx="614.02" cy="276.62" r="1.55" fill="#1f77b4" stroke="none"/>
<circle cx="621.24" cy="280.40" r="1.55" fill="#1f77b4" stroke="none"/>
<circle cx="628.47" cy="282.93" r="1.55" fill="#1f77b4" stroke="none"/>
<circle cx="635.69" cy="286.72" r="1.55" fill="#1f77b4" stroke="none"/>
<circle cx="642.91" cy="289.28" r="1.55" fill="#1f77b4" stroke="none"/>
<circle cx="650.14" cy="290.24" r="1.55" fill="#1f77b4" stroke="none"/>
<circle cx="657.36" cy="293.37" r="1.55" fill="#1f77b4" stroke="none"/>
<circle cx="664.59" cy="295.59" r="1.55" fill="#1f77b4" stroke="none"/>
<circle cx="671.81" cy="294.43" r="1.55" fill="#1f77b4" stroke="none"/>
<circle cx="679.03" cy="295.22" r="1.55" fill="#1f77b4" stroke="none"/>
<circle cx="686.26" cy="297.06" r="1.55" fill="#1f77b4" stroke="none"/>
<circle cx="693.48" cy="297.79" r="1.55" fill="#1f77b4" stroke="none"/>
<circle cx="700.71" cy="299.71" r="1.55" fill="#1f77b4" stroke="none"/>
<circle cx="707.93" cy="300.48" r="1.55" fill="#1f77b4" stroke="none"/>
<circle cx="715.16" cy="300.98" r="1.55" fill="#1f77b4" stroke="none"/>
<circle cx="722.38" cy="301.84" r="1.55" fill="#1f77b4" stroke="none"/>
<circle cx="729.60" cy="302.87" r="1.55" fill="#1f77b4" stroke="none"/>
<circle cx="736.83" cy="304.44" r="1.55" fill="#1f77b4" stroke="none"/>
<circle cx="744.05" cy="304.03" r="1.55" fill="#1f77b4" stroke="none"/>
<circle cx="751.28" cy="305.37" r="1.55" fill="#1f77b4" stroke="none"/>
<circle cx="758.50" cy="306.60" r="1.55" fill="#1f77b4" stroke="none"/>
<path d="M549.00,256.41 L550.32,256.51 L551.64,256.61 L552.95,256.72 L554.27,256.83 L555.59,256.95 L556.91,257.07 L558.22,257.19 L559.54,257.32 L560.86,257.46 L562.18,257.61 L563.49,257.76 L564.81,257.91 L566.13,258.08 L567.45,258.26 L568.76,258.44 L570.08,258.64 L571.40,258.84 L572.72,259.06 L574.03,259.29 L575.35,259.54 L576.67,259.80 L577.99,260.07 L579.31,260.37 L580.62,260.68 L581.94,261.01 L583.26,261.36 L584.58,261.73 L585.89,262.13 L587.21,262.55 L588.53,263.00 L589.85,263.47 L591.16,263.98 L592.48,264.52 L593.80,265.09 L595.12,265.69 L596.43,266.33 L597.75,267.01 L599.07,267.73 L600.39,268.49 L601.70,269.30 L603.02,270.15 L604.34,271.05 L605.66,272.00 L606.97,273.00 L608.29,274.06 L609.61,275.16 L610.93,276.32 L612.25,277.54 L613.56,278.82 L614.88,280.15 L616.20,281.54 L617.52,283.00 L618.83,284.50 L620.15,286.07 L621.47,287.70 L622.79,289.38 L624.10,291.11 L625.42,292.90 L626.74,294.74 L628.06,296.62 L629.37,298.55 L630.69,300.52 L632.01,302.53 L633.33,304.57 L634.64,306.64 L635.96,308.73 L637.28,310.84 L638.60,312.96 L639.92,315.10 L641.23,317.23 L642.55,319.37 L643.87,321.50 L645.19,323.62 L646.50,325.72 L647.82,327.79 L649.14,329.85 L650.46,331.87 L651.77,333.86 L653.09,335.82 L654.41,337.73 L655.73,339.61 L657.04,341.44 L658.36,343.23 L659.68,344.97 L661.00,346.66 L662.31,348.31 L663.63,349.90 L664.95,351.46 L666.27,352.96 L667.58,354.43 L668.90,355.85 L670.22,357.22 L671.54,358.56 L672.86,359.86 L674.17,361.13 L675.49,362.36 L676.81,363.56 L678.13,364.73 L679.44,365.87 L680.76,366.99 L682.08,368.09 L683.40,369.17 L684.71,370.23 L686.03,371.28 L687.35,372.31 L688.67,373.33 L689.98,374.33 L691.30,375.33 L692.62,376.31 L693.94,377.29 L695.25,378.25 L696.57,379.21 L697.89,380.16 L699.21,381.09 L700.53,382.01 L701.84,382.93 L703.16,383.82 L704.48,384.71 L705.80,385.57 L707.11,386.42 L708.43,387.25 L709.75,388.06 L711.07,388.85 L712.38,389.61 L713.70,390.35 L715.02,391.07 L716.34,391.76 L717.65,392.43 L718.97,393.06 L720.29,393.67 L721.61,394.26 L722.92,394.81 L724.24,395.34 L725.56,395.85 L726.88,396.33 L728.19,396.78 L729.51,397.21 L730.83,397.61 L732.15,397.99 L733.47,398.35 L734.78,398.69 L736.10,399.01 L737.42,399.31 L738.74,399.59 L740.05,399.85 L741.37,400.10 L742.69,400.34 L744.01,400.56 L745.32,400.76 L746.64,400.96 L747.96,401.14 L749.28,401.31 L750.59,401.47 L751.91,401.63 L753.23,401.77 L754.55,401.91 L755.86,402.04 L757.18,402.16 L758.50,402.28" stroke="#ff7f0e"/>
<circle cx="549.00" cy="256.22" r="1.55" fill="#ff7f0e" stroke="none"/>
<circle cx="556.22" cy="257.06" r="1.55" fill="#ff7f0e" stroke="none"/>
<circle cx="563.45" cy="257.94" r="1.55" fill="#ff7f0e" stroke="none"/>
<circle cx="570.67" cy="259.45" r="1.55" fill="#ff7f0e" stroke="none"/>
<circle cx="577.90" cy="261.28" r="1.55" fill="#ff7f0e" stroke="none"/>
<circle cx="585.12" cy="262.62" r="1.55" fill="#ff7f0e" stroke="none"/>
<circle cx="592.34" cy="264.58" r="1.55" fill="#ff7f0e" stroke="none"/>
<circle cx="599.57" cy="268.81" r="1.55" fill="#ff7f0e" stroke="none"/>
<circle cx="606.79" cy="272.71" r="1.55" fill="#ff7f0e" stroke="none"/>
<circle cx="614.02" cy="279.68" r="1.55" fill="#ff7f0e" stroke="none"/>
<circle cx="621.24" cy="286.38" r="1.55" fill="#ff7f0e" stroke="none"/>
<circle cx="628.47" cy="295.63" r="1.55" fill="#ff7f0e" stroke="none"/>
<circle cx="635.69" cy="306.66" r="1.55" fill="#ff7f0e" stroke="none"/>
<circle cx="642.91" cy="318.21" r="1.55" fill="#ff7f0e" stroke="none"/>
<circle cx="650.14" cy="329.97" r="1.55" fill="#ff7f0e" stroke="none"/>
<circle cx="657.36" cy="342.04" r="1.55" fill="#ff7f0e" stroke="none"/>
<circle cx="664.59" cy="350.99" r="1.55" fill="#ff7f0e" stroke="none"/>
<circle cx="671.81" cy="359.68" r="1.55" fill="#ff7f0e" stroke="none"/>
<circle cx="679.03" cy="365.77" r="1.55" fill="#ff7f0e" stroke="none"/>
<circle cx="686.26" cy="372.24" r="1.55" fill="#ff7f0e" stroke="none"/>
<circle cx="693.48" cy="376.54" r="1.55" fill="#ff7f0e" stroke="none"/>
<circle cx="700.71" cy="381.60" r="1.55" fill="#ff7f0e" stroke="none"/>
<circle cx="707.93" cy="383.26" r="1.55" fill="#ff7f0e" stroke="none"/>
<circle cx="715.16" cy="389.57" r="1.55" fill="#ff7f0e" stroke="none"/>
<circle cx="722.38" cy="392.46" r="1.55" fill="#ff7f0e" stroke="none"/>
<circle cx="729.60" cy="395.15" r="1.55" fill="#ff7f0e" stroke="none"/>
<circle cx="736.83" cy="399.83" r="1.55" fill="#ff7f0e" stroke="none"/>
<circle cx="744.05" cy="401.68" r="1.55" fill="#ff7f0e" stroke="none"/>
<circle cx="751.28" cy="403.51" r="1.55" fill="#ff7f0e" stroke="none"/>
<circle cx="758.50" cy="403.32" r="1.55" fill="#ff7f0e" stroke="none"/>
</g>
<g clip-path="url(#rclipF)" fill="none" stroke-width="1.75" stroke-linejoin="round">
<path d="M549.00,430.30 L556.22,431.69 L563.45,431.58 L570.67,432.60 L577.90,433.67 L585.12,432.94 L592.34,432.29 L599.57,432.25 L606.79,432.66 L614.02,432.69 L621.24,432.30 L628.47,429.96 L635.69,431.58 L642.91,431.70 L650.14,429.37 L657.36,432.71 L664.59,434.67 L671.81,429.59 L679.03,429.07 L686.26,430.97 L693.48,430.46 L700.71,432.60 L707.93,432.14 L715.16,431.04 L722.38,430.70 L729.60,430.70 L736.83,431.89 L744.05,428.72 L751.28,429.46 L758.50,430.00" stroke="#1f77b4"/>
<path d="M549.00,431.50 L556.22,432.01 L563.45,432.31 L570.67,433.51 L577.90,434.61 L585.12,433.50 L592.34,432.16 L599.57,433.66 L606.79,431.57 L614.02,432.79 L621.24,429.62 L628.47,428.39 L635.69,428.30 L642.91,428.03 L650.14,428.77 L657.36,432.27 L664.59,431.81 L671.81,433.78 L679.03,432.45 L686.26,433.63 L693.48,431.00 L700.71,430.70 L707.93,423.78 L715.16,428.42 L722.38,427.20 L729.60,427.29 L736.83,433.34 L744.05,434.37 L751.28,436.21 L758.50,434.20" stroke="#ff7f0e"/>
</g>
<path d="M549.0,247.6 H758.5 V451.6 H549.0 Z" fill="none" stroke="#3c3c3c" stroke-width="1.0"/>
<line x1="549.00" y1="411.60" x2="758.50" y2="411.60" stroke="#3c3c3c" stroke-width="1.15" />
<line x1="543.60" y1="255.50" x2="549.00" y2="255.50" stroke="#3c3c3c" stroke-width="1.0" />
<text x="542.00" y="259.20" font-size="10.5" text-anchor="end" textLength="5.65" lengthAdjust="spacingAndGlyphs" >1</text>
<line x1="543.60" y1="316.50" x2="549.00" y2="316.50" stroke="#3c3c3c" stroke-width="1.0" />
<text x="542.00" y="320.10" font-size="10.5" text-anchor="end" textLength="14.20" lengthAdjust="spacingAndGlyphs" >0.8</text>
<line x1="543.60" y1="377.50" x2="549.00" y2="377.50" stroke="#3c3c3c" stroke-width="1.0" />
<text x="542.00" y="381.10" font-size="10.5" text-anchor="end" textLength="14.20" lengthAdjust="spacingAndGlyphs" >0.6</text>
<line x1="543.60" y1="418.50" x2="549.00" y2="418.50" stroke="#3c3c3c" stroke-width="1.0" />
<text x="542.00" y="422.00" font-size="10.5" text-anchor="end" textLength="19.85" lengthAdjust="spacingAndGlyphs" >0.02</text>
<line x1="543.60" y1="431.50" x2="549.00" y2="431.50" stroke="#3c3c3c" stroke-width="1.0" />
<text x="542.00" y="435.50" font-size="10.5" text-anchor="end" textLength="5.65" lengthAdjust="spacingAndGlyphs" >0</text>
<line x1="543.60" y1="445.50" x2="549.00" y2="445.50" stroke="#3c3c3c" stroke-width="1.0" />
<text x="542.00" y="448.90" font-size="10.5" text-anchor="end" textLength="23.55" lengthAdjust="spacingAndGlyphs" >-0.02</text>
<line x1="563.50" y1="411.60" x2="563.50" y2="415.00" stroke="#3c3c3c" stroke-width="1.2" />
<line x1="563.50" y1="451.60" x2="563.50" y2="455.00" stroke="#3c3c3c" stroke-width="1.2" />
<line x1="573.50" y1="411.60" x2="573.50" y2="415.00" stroke="#3c3c3c" stroke-width="1.2" />
<line x1="573.50" y1="451.60" x2="573.50" y2="455.00" stroke="#3c3c3c" stroke-width="1.2" />
<line x1="579.50" y1="411.60" x2="579.50" y2="415.00" stroke="#3c3c3c" stroke-width="1.2" />
<line x1="579.50" y1="451.60" x2="579.50" y2="455.00" stroke="#3c3c3c" stroke-width="1.2" />
<line x1="584.50" y1="411.60" x2="584.50" y2="415.00" stroke="#3c3c3c" stroke-width="1.2" />
<line x1="584.50" y1="451.60" x2="584.50" y2="455.00" stroke="#3c3c3c" stroke-width="1.2" />
<line x1="589.50" y1="411.60" x2="589.50" y2="415.00" stroke="#3c3c3c" stroke-width="1.2" />
<line x1="589.50" y1="451.60" x2="589.50" y2="455.00" stroke="#3c3c3c" stroke-width="1.2" />
<line x1="592.50" y1="411.60" x2="592.50" y2="415.00" stroke="#3c3c3c" stroke-width="1.2" />
<line x1="592.50" y1="451.60" x2="592.50" y2="455.00" stroke="#3c3c3c" stroke-width="1.2" />
<line x1="595.50" y1="411.60" x2="595.50" y2="415.00" stroke="#3c3c3c" stroke-width="1.2" />
<line x1="595.50" y1="451.60" x2="595.50" y2="455.00" stroke="#3c3c3c" stroke-width="1.2" />
<line x1="598.50" y1="411.60" x2="598.50" y2="415.00" stroke="#3c3c3c" stroke-width="1.2" />
<line x1="598.50" y1="451.60" x2="598.50" y2="455.00" stroke="#3c3c3c" stroke-width="1.2" />
<line x1="600.50" y1="411.60" x2="600.50" y2="417.10" stroke="#3c3c3c" stroke-width="1.2" />
<line x1="600.50" y1="451.60" x2="600.50" y2="457.10" stroke="#3c3c3c" stroke-width="1.2" />
<line x1="616.50" y1="411.60" x2="616.50" y2="415.00" stroke="#3c3c3c" stroke-width="1.2" />
<line x1="616.50" y1="451.60" x2="616.50" y2="455.00" stroke="#3c3c3c" stroke-width="1.2" />
<line x1="625.50" y1="411.60" x2="625.50" y2="415.00" stroke="#3c3c3c" stroke-width="1.2" />
<line x1="625.50" y1="451.60" x2="625.50" y2="455.00" stroke="#3c3c3c" stroke-width="1.2" />
<line x1="632.50" y1="411.60" x2="632.50" y2="415.00" stroke="#3c3c3c" stroke-width="1.2" />
<line x1="632.50" y1="451.60" x2="632.50" y2="455.00" stroke="#3c3c3c" stroke-width="1.2" />
<line x1="637.50" y1="411.60" x2="637.50" y2="415.00" stroke="#3c3c3c" stroke-width="1.2" />
<line x1="637.50" y1="451.60" x2="637.50" y2="455.00" stroke="#3c3c3c" stroke-width="1.2" />
<line x1="641.50" y1="411.60" x2="641.50" y2="415.00" stroke="#3c3c3c" stroke-width="1.2" />
<line x1="641.50" y1="451.60" x2="641.50" y2="455.00" stroke="#3c3c3c" stroke-width="1.2" />
<line x1="645.50" y1="411.60" x2="645.50" y2="415.00" stroke="#3c3c3c" stroke-width="1.2" />
<line x1="645.50" y1="451.60" x2="645.50" y2="455.00" stroke="#3c3c3c" stroke-width="1.2" />
<line x1="648.50" y1="411.60" x2="648.50" y2="415.00" stroke="#3c3c3c" stroke-width="1.2" />
<line x1="648.50" y1="451.60" x2="648.50" y2="455.00" stroke="#3c3c3c" stroke-width="1.2" />
<line x1="650.50" y1="411.60" x2="650.50" y2="415.00" stroke="#3c3c3c" stroke-width="1.2" />
<line x1="650.50" y1="451.60" x2="650.50" y2="455.00" stroke="#3c3c3c" stroke-width="1.2" />
<line x1="653.50" y1="411.60" x2="653.50" y2="417.10" stroke="#3c3c3c" stroke-width="1.2" />
<line x1="653.50" y1="451.60" x2="653.50" y2="457.10" stroke="#3c3c3c" stroke-width="1.2" />
<line x1="669.50" y1="411.60" x2="669.50" y2="415.00" stroke="#3c3c3c" stroke-width="1.2" />
<line x1="669.50" y1="451.60" x2="669.50" y2="455.00" stroke="#3c3c3c" stroke-width="1.2" />
<line x1="678.50" y1="411.60" x2="678.50" y2="415.00" stroke="#3c3c3c" stroke-width="1.2" />
<line x1="678.50" y1="451.60" x2="678.50" y2="455.00" stroke="#3c3c3c" stroke-width="1.2" />
<line x1="684.50" y1="411.60" x2="684.50" y2="415.00" stroke="#3c3c3c" stroke-width="1.2" />
<line x1="684.50" y1="451.60" x2="684.50" y2="455.00" stroke="#3c3c3c" stroke-width="1.2" />
<line x1="690.50" y1="411.60" x2="690.50" y2="415.00" stroke="#3c3c3c" stroke-width="1.2" />
<line x1="690.50" y1="451.60" x2="690.50" y2="455.00" stroke="#3c3c3c" stroke-width="1.2" />
<line x1="694.50" y1="411.60" x2="694.50" y2="415.00" stroke="#3c3c3c" stroke-width="1.2" />
<line x1="694.50" y1="451.60" x2="694.50" y2="455.00" stroke="#3c3c3c" stroke-width="1.2" />
<line x1="697.50" y1="411.60" x2="697.50" y2="415.00" stroke="#3c3c3c" stroke-width="1.2" />
<line x1="697.50" y1="451.60" x2="697.50" y2="455.00" stroke="#3c3c3c" stroke-width="1.2" />
<line x1="700.50" y1="411.60" x2="700.50" y2="415.00" stroke="#3c3c3c" stroke-width="1.2" />
<line x1="700.50" y1="451.60" x2="700.50" y2="455.00" stroke="#3c3c3c" stroke-width="1.2" />
<line x1="703.50" y1="411.60" x2="703.50" y2="415.00" stroke="#3c3c3c" stroke-width="1.2" />
<line x1="703.50" y1="451.60" x2="703.50" y2="455.00" stroke="#3c3c3c" stroke-width="1.2" />
<line x1="705.50" y1="411.60" x2="705.50" y2="417.10" stroke="#3c3c3c" stroke-width="1.2" />
<line x1="705.50" y1="451.60" x2="705.50" y2="457.10" stroke="#3c3c3c" stroke-width="1.2" />
<line x1="721.50" y1="411.60" x2="721.50" y2="415.00" stroke="#3c3c3c" stroke-width="1.2" />
<line x1="721.50" y1="451.60" x2="721.50" y2="455.00" stroke="#3c3c3c" stroke-width="1.2" />
<line x1="730.50" y1="411.60" x2="730.50" y2="415.00" stroke="#3c3c3c" stroke-width="1.2" />
<line x1="730.50" y1="451.60" x2="730.50" y2="455.00" stroke="#3c3c3c" stroke-width="1.2" />
<line x1="737.50" y1="411.60" x2="737.50" y2="415.00" stroke="#3c3c3c" stroke-width="1.2" />
<line x1="737.50" y1="451.60" x2="737.50" y2="455.00" stroke="#3c3c3c" stroke-width="1.2" />
<line x1="742.50" y1="411.60" x2="742.50" y2="415.00" stroke="#3c3c3c" stroke-width="1.2" />
<line x1="742.50" y1="451.60" x2="742.50" y2="455.00" stroke="#3c3c3c" stroke-width="1.2" />
<line x1="746.50" y1="411.60" x2="746.50" y2="415.00" stroke="#3c3c3c" stroke-width="1.2" />
<line x1="746.50" y1="451.60" x2="746.50" y2="455.00" stroke="#3c3c3c" stroke-width="1.2" />
<line x1="750.50" y1="411.60" x2="750.50" y2="415.00" stroke="#3c3c3c" stroke-width="1.2" />
<line x1="750.50" y1="451.60" x2="750.50" y2="455.00" stroke="#3c3c3c" stroke-width="1.2" />
<line x1="753.50" y1="411.60" x2="753.50" y2="415.00" stroke="#3c3c3c" stroke-width="1.2" />
<line x1="753.50" y1="451.60" x2="753.50" y2="455.00" stroke="#3c3c3c" stroke-width="1.2" />
<line x1="756.50" y1="411.60" x2="756.50" y2="415.00" stroke="#3c3c3c" stroke-width="1.2" />
<line x1="756.50" y1="451.60" x2="756.50" y2="455.00" stroke="#3c3c3c" stroke-width="1.2" />
<line x1="758.50" y1="411.60" x2="758.50" y2="417.10" stroke="#3c3c3c" stroke-width="1.2" />
<line x1="758.50" y1="451.60" x2="758.50" y2="457.10" stroke="#3c3c3c" stroke-width="1.2" />
<text x="592.80" y="465.20" font-size="10.0" textLength="11.71" lengthAdjust="spacingAndGlyphs">10</text>
<text x="604.51" y="461.80" font-size="7.00" textLength="4.10" lengthAdjust="spacingAndGlyphs">0</text>
<text x="645.40" y="465.20" font-size="10.0" textLength="11.71" lengthAdjust="spacingAndGlyphs">10</text>
<text x="657.10" y="461.80" font-size="7.00" textLength="4.10" lengthAdjust="spacingAndGlyphs">1</text>
<text x="698.00" y="465.20" font-size="10.0" textLength="11.71" lengthAdjust="spacingAndGlyphs">10</text>
<text x="709.70" y="461.80" font-size="7.00" textLength="4.10" lengthAdjust="spacingAndGlyphs">2</text>
<text x="750.59" y="465.20" font-size="10.0" textLength="11.71" lengthAdjust="spacingAndGlyphs">10</text>
<text x="762.30" y="461.80" font-size="7.00" textLength="4.10" lengthAdjust="spacingAndGlyphs">3</text>
<text x="634.80" y="478.00" font-size="12.9" textLength="38.5" lengthAdjust="spacingAndGlyphs">w (<tspan font-style="italic">μ</tspan>s)</text>
<text x="229.60" y="27.80" font-size="29" font-weight="bold" style="stroke:#000;stroke-width:0.7px;fill:#000" textLength="21.81" lengthAdjust="spacingAndGlyphs">A</text>
<text x="482.90" y="27.90" font-size="29" font-weight="bold" style="stroke:#000;stroke-width:0.7px;fill:#000" textLength="21.48" lengthAdjust="spacingAndGlyphs">B</text>
<text x="734.20" y="27.90" font-size="29" font-weight="bold" style="stroke:#000;stroke-width:0.7px;fill:#000" textLength="20.71" lengthAdjust="spacingAndGlyphs">C</text>
<text x="228.00" y="274.00" font-size="29" font-weight="bold" style="stroke:#000;stroke-width:0.7px;fill:#000" textLength="23.34" lengthAdjust="spacingAndGlyphs">D</text>
<text x="482.90" y="274.00" font-size="29" font-weight="bold" style="stroke:#000;stroke-width:0.7px;fill:#000" textLength="19.32" lengthAdjust="spacingAndGlyphs">E</text>
<text x="733.80" y="274.00" font-size="29" font-weight="bold" style="stroke:#000;stroke-width:0.7px;fill:#000" textLength="19.32" lengthAdjust="spacingAndGlyphs">F</text>
<text transform="translate(10.9,185.60) rotate(-90)" x="-29.00" y="0" font-size="12.9" textLength="58.0" lengthAdjust="spacingAndGlyphs">Residuals</text>
<g transform="translate(10.7,121.20) rotate(-90)"><path d="M3.2,-8.0 L0.4,-3.2 L3.2,1.6" fill="none" stroke="#000" stroke-width="0.9"/><text x="3.4" y="0" font-size="12.6" font-style="italic" textLength="8.3" lengthAdjust="spacingAndGlyphs">F</text><text x="11.4" y="2.5" font-size="9.0" font-style="italic" textLength="14.0" lengthAdjust="spacingAndGlyphs">exc</text><text x="26.6" y="0" font-size="12.6" textLength="5.4" lengthAdjust="spacingAndGlyphs">(</text><text x="32.9" y="0" font-size="12.6" font-style="italic" textLength="9.6" lengthAdjust="spacingAndGlyphs">w</text><text x="42.4" y="0" font-size="12.6" textLength="5.4" lengthAdjust="spacingAndGlyphs">)</text><path d="M48.3,-8.0 L51.3,-3.2 L48.3,1.6" fill="none" stroke="#000" stroke-width="0.9"/><text x="52.4" y="2.8" font-size="9.0" font-style="italic" textLength="21.8" lengthAdjust="spacingAndGlyphs">norm</text></g>
<text transform="translate(10.9,431.00) rotate(-90)" x="-29.00" y="0" font-size="12.9" textLength="58.0" lengthAdjust="spacingAndGlyphs">Residuals</text>
<g transform="translate(10.7,365.50) rotate(-90)"><path d="M3.2,-8.0 L0.4,-3.2 L3.2,1.6" fill="none" stroke="#000" stroke-width="0.9"/><text x="3.4" y="0" font-size="12.6" font-style="italic" textLength="8.3" lengthAdjust="spacingAndGlyphs">F</text><text x="11.4" y="2.5" font-size="9.0" font-style="italic" textLength="14.0" lengthAdjust="spacingAndGlyphs">exc</text><text x="26.6" y="0" font-size="12.6" textLength="5.4" lengthAdjust="spacingAndGlyphs">(</text><text x="32.9" y="0" font-size="12.6" font-style="italic" textLength="9.6" lengthAdjust="spacingAndGlyphs">w</text><text x="42.4" y="0" font-size="12.6" textLength="5.4" lengthAdjust="spacingAndGlyphs">)</text><path d="M48.3,-8.0 L51.3,-3.2 L48.3,1.6" fill="none" stroke="#000" stroke-width="0.9"/><text x="52.4" y="2.8" font-size="9.0" font-style="italic" textLength="21.8" lengthAdjust="spacingAndGlyphs">norm</text></g>
<text x="145.84" y="22.10" font-size="10.0" text-anchor="start" textLength="74.33" lengthAdjust="spacingAndGlyphs" >Mean Irradiance</text>
<text x="162.94" y="33.10" font-size="10.00" textLength="3.70" lengthAdjust="spacingAndGlyphs">[</text>
<text x="166.63" y="33.10" font-size="10.00" font-style="italic" textLength="32.49" lengthAdjust="spacingAndGlyphs">kW/cm</text>
<text x="199.12" y="29.80" font-size="7.00" textLength="4.23" lengthAdjust="spacingAndGlyphs">2</text>
<text x="203.95" y="33.10" font-size="10.00" textLength="3.70" lengthAdjust="spacingAndGlyphs">]</text>
<line x1="165.00" y1="44.10" x2="184.60" y2="44.10" stroke="#1f77b4" stroke-width="2.0" />
<circle cx="174.80" cy="44.10" r="1.6" fill="#1f77b4"/>
<text x="190.90" y="47.00" font-size="10.0" text-anchor="start" textLength="14.63" lengthAdjust="spacingAndGlyphs" >2.3</text>
<line x1="165.00" y1="57.40" x2="184.60" y2="57.40" stroke="#ff7f0e" stroke-width="2.0" />
<circle cx="174.80" cy="57.40" r="1.6" fill="#ff7f0e"/>
<text x="190.90" y="60.30" font-size="10.0" text-anchor="start" textLength="14.63" lengthAdjust="spacingAndGlyphs" >3.4</text>
<line x1="165.00" y1="70.70" x2="184.60" y2="70.70" stroke="#2ca02c" stroke-width="2.0" />
<circle cx="174.80" cy="70.70" r="1.6" fill="#2ca02c"/>
<text x="190.90" y="73.60" font-size="10.0" text-anchor="start" textLength="14.63" lengthAdjust="spacingAndGlyphs" >4.3</text>
<line x1="165.00" y1="84.00" x2="184.60" y2="84.00" stroke="#d62728" stroke-width="2.0" />
<circle cx="174.80" cy="84.00" r="1.6" fill="#d62728"/>
<text x="190.90" y="86.90" font-size="10.0" text-anchor="start" textLength="14.63" lengthAdjust="spacingAndGlyphs" >5.1</text>
<line x1="165.00" y1="97.30" x2="184.60" y2="97.30" stroke="#9467bd" stroke-width="2.0" />
<circle cx="174.80" cy="97.30" r="1.6" fill="#9467bd"/>
<text x="190.90" y="100.20" font-size="10.0" text-anchor="start" textLength="14.63" lengthAdjust="spacingAndGlyphs" >6.2</text>
<text x="145.84" y="262.90" font-size="10.0" text-anchor="start" textLength="74.33" lengthAdjust="spacingAndGlyphs" >Mean Irradiance</text>
<text x="162.94" y="273.90" font-size="10.00" textLength="3.70" lengthAdjust="spacingAndGlyphs">[</text>
<text x="166.63" y="273.90" font-size="10.00" font-style="italic" textLength="32.49" lengthAdjust="spacingAndGlyphs">kW/cm</text>
<text x="199.12" y="270.60" font-size="7.00" textLength="4.23" lengthAdjust="spacingAndGlyphs">2</text>
<text x="203.95" y="273.90" font-size="10.00" textLength="3.70" lengthAdjust="spacingAndGlyphs">]</text>
<line x1="165.00" y1="284.80" x2="184.60" y2="284.80" stroke="#1f77b4" stroke-width="2.0" />
<circle cx="174.80" cy="284.80" r="1.6" fill="#1f77b4"/>
<text x="190.90" y="287.70" font-size="10.0" text-anchor="start" textLength="14.63" lengthAdjust="spacingAndGlyphs" >2.4</text>
<line x1="165.00" y1="298.10" x2="184.60" y2="298.10" stroke="#ff7f0e" stroke-width="2.0" />
<circle cx="174.80" cy="298.10" r="1.6" fill="#ff7f0e"/>
<text x="190.90" y="301.00" font-size="10.0" text-anchor="start" textLength="14.63" lengthAdjust="spacingAndGlyphs" >3.6</text>
<line x1="165.00" y1="311.40" x2="184.60" y2="311.40" stroke="#2ca02c" stroke-width="2.0" />
<circle cx="174.80" cy="311.40" r="1.6" fill="#2ca02c"/>
<text x="190.90" y="314.30" font-size="10.0" text-anchor="start" textLength="14.63" lengthAdjust="spacingAndGlyphs" >4.6</text>
<line x1="165.00" y1="324.70" x2="184.60" y2="324.70" stroke="#d62728" stroke-width="2.0" />
<circle cx="174.80" cy="324.70" r="1.6" fill="#d62728"/>
<text x="190.90" y="327.60" font-size="10.0" text-anchor="start" textLength="14.63" lengthAdjust="spacingAndGlyphs" >5.4</text>
<line x1="165.00" y1="338.00" x2="184.60" y2="338.00" stroke="#9467bd" stroke-width="2.0" />
<circle cx="174.80" cy="338.00" r="1.6" fill="#9467bd"/>
<text x="190.90" y="340.90" font-size="10.0" text-anchor="start" textLength="14.63" lengthAdjust="spacingAndGlyphs" >6.6</text>
<text x="313.24" y="111.40" font-size="10.0" text-anchor="start" textLength="74.33" lengthAdjust="spacingAndGlyphs" >Mean Irradiance</text>
<text x="333.08" y="122.40" font-size="10.00" textLength="3.70" lengthAdjust="spacingAndGlyphs">[</text>
<text x="336.78" y="122.40" font-size="10.00" font-style="italic" textLength="27.00" lengthAdjust="spacingAndGlyphs">W/cm</text>
<text x="363.78" y="119.10" font-size="7.00" textLength="4.23" lengthAdjust="spacingAndGlyphs">2</text>
<text x="368.61" y="122.40" font-size="10.00" textLength="3.70" lengthAdjust="spacingAndGlyphs">]</text>
<line x1="300.20" y1="133.70" x2="319.80" y2="133.70" stroke="#1f77b4" stroke-width="2.0" />
<circle cx="310.00" cy="133.70" r="1.6" fill="#1f77b4"/>
<text x="326.20" y="136.60" font-size="10.0" text-anchor="start" textLength="17.56" lengthAdjust="spacingAndGlyphs" >336</text>
<line x1="300.20" y1="147.00" x2="319.80" y2="147.00" stroke="#ff7f0e" stroke-width="2.0" />
<circle cx="310.00" cy="147.00" r="1.6" fill="#ff7f0e"/>
<text x="326.20" y="149.90" font-size="10.0" text-anchor="start" textLength="17.56" lengthAdjust="spacingAndGlyphs" >431</text>
<line x1="362.10" y1="133.70" x2="381.70" y2="133.70" stroke="#2ca02c" stroke-width="2.0" />
<circle cx="371.90" cy="133.70" r="1.6" fill="#2ca02c"/>
<text x="388.10" y="136.60" font-size="10.0" text-anchor="start" textLength="17.56" lengthAdjust="spacingAndGlyphs" >578</text>
<line x1="362.10" y1="147.00" x2="381.70" y2="147.00" stroke="#d62728" stroke-width="2.0" />
<circle cx="371.90" cy="147.00" r="1.6" fill="#d62728"/>
<text x="388.10" y="149.90" font-size="10.0" text-anchor="start" textLength="17.56" lengthAdjust="spacingAndGlyphs" >669</text>
<text x="313.24" y="357.00" font-size="10.0" text-anchor="start" textLength="74.33" lengthAdjust="spacingAndGlyphs" >Mean Irradiance</text>
<text x="333.08" y="368.00" font-size="10.00" textLength="3.70" lengthAdjust="spacingAndGlyphs">[</text>
<text x="336.78" y="368.00" font-size="10.00" font-style="italic" textLength="27.00" lengthAdjust="spacingAndGlyphs">W/cm</text>
<text x="363.78" y="364.70" font-size="7.00" textLength="4.23" lengthAdjust="spacingAndGlyphs">2</text>
<text x="368.61" y="368.00" font-size="10.00" textLength="3.70" lengthAdjust="spacingAndGlyphs">]</text>
<line x1="300.20" y1="379.10" x2="319.80" y2="379.10" stroke="#1f77b4" stroke-width="2.0" />
<circle cx="310.00" cy="379.10" r="1.6" fill="#1f77b4"/>
<text x="326.20" y="382.00" font-size="10.0" text-anchor="start" textLength="17.56" lengthAdjust="spacingAndGlyphs" >336</text>
<line x1="300.20" y1="392.40" x2="319.80" y2="392.40" stroke="#ff7f0e" stroke-width="2.0" />
<circle cx="310.00" cy="392.40" r="1.6" fill="#ff7f0e"/>
<text x="326.20" y="395.30" font-size="10.0" text-anchor="start" textLength="17.56" lengthAdjust="spacingAndGlyphs" >431</text>
<line x1="362.10" y1="379.10" x2="381.70" y2="379.10" stroke="#2ca02c" stroke-width="2.0" />
<circle cx="371.90" cy="379.10" r="1.6" fill="#2ca02c"/>
<text x="388.10" y="382.00" font-size="10.0" text-anchor="start" textLength="17.56" lengthAdjust="spacingAndGlyphs" >578</text>
<line x1="362.10" y1="392.40" x2="381.70" y2="392.40" stroke="#d62728" stroke-width="2.0" />
<circle cx="371.90" cy="392.40" r="1.6" fill="#d62728"/>
<text x="388.10" y="395.30" font-size="10.0" text-anchor="start" textLength="17.56" lengthAdjust="spacingAndGlyphs" >669</text>
<text x="575.00" y="115.90" font-size="10.0" text-anchor="start" textLength="58.79" lengthAdjust="spacingAndGlyphs" >Atmosphere:</text>
<line x1="571.10" y1="125.90" x2="590.70" y2="125.90" stroke="#1f77b4" stroke-width="2.0" />
<circle cx="580.90" cy="125.90" r="1.6" fill="#1f77b4"/>
<text x="597.30" y="129.00" font-size="10.0" text-anchor="start" textLength="12.63" lengthAdjust="spacingAndGlyphs" >Air</text>
<line x1="571.10" y1="139.30" x2="590.70" y2="139.30" stroke="#ff7f0e" stroke-width="2.0" />
<circle cx="580.90" cy="139.30" r="1.6" fill="#ff7f0e"/>
<text x="597.30" y="142.40" font-size="10.0" text-anchor="start" textLength="39.59" lengthAdjust="spacingAndGlyphs" >Nitrogen</text>
<text x="572.80" y="361.30" font-size="10.0" text-anchor="start" textLength="58.79" lengthAdjust="spacingAndGlyphs" >Atmosphere:</text>
<line x1="569.10" y1="371.30" x2="588.70" y2="371.30" stroke="#1f77b4" stroke-width="2.0" />
<circle cx="578.90" cy="371.30" r="1.6" fill="#1f77b4"/>
<text x="595.30" y="374.40" font-size="10.0" text-anchor="start" textLength="12.63" lengthAdjust="spacingAndGlyphs" >Air</text>
<line x1="569.10" y1="384.70" x2="588.70" y2="384.70" stroke="#ff7f0e" stroke-width="2.0" />
<circle cx="578.90" cy="384.70" r="1.6" fill="#ff7f0e"/>
<text x="595.30" y="387.80" font-size="10.0" text-anchor="start" textLength="39.59" lengthAdjust="spacingAndGlyphs" >Nitrogen</text>
</svg>
</body></html>
